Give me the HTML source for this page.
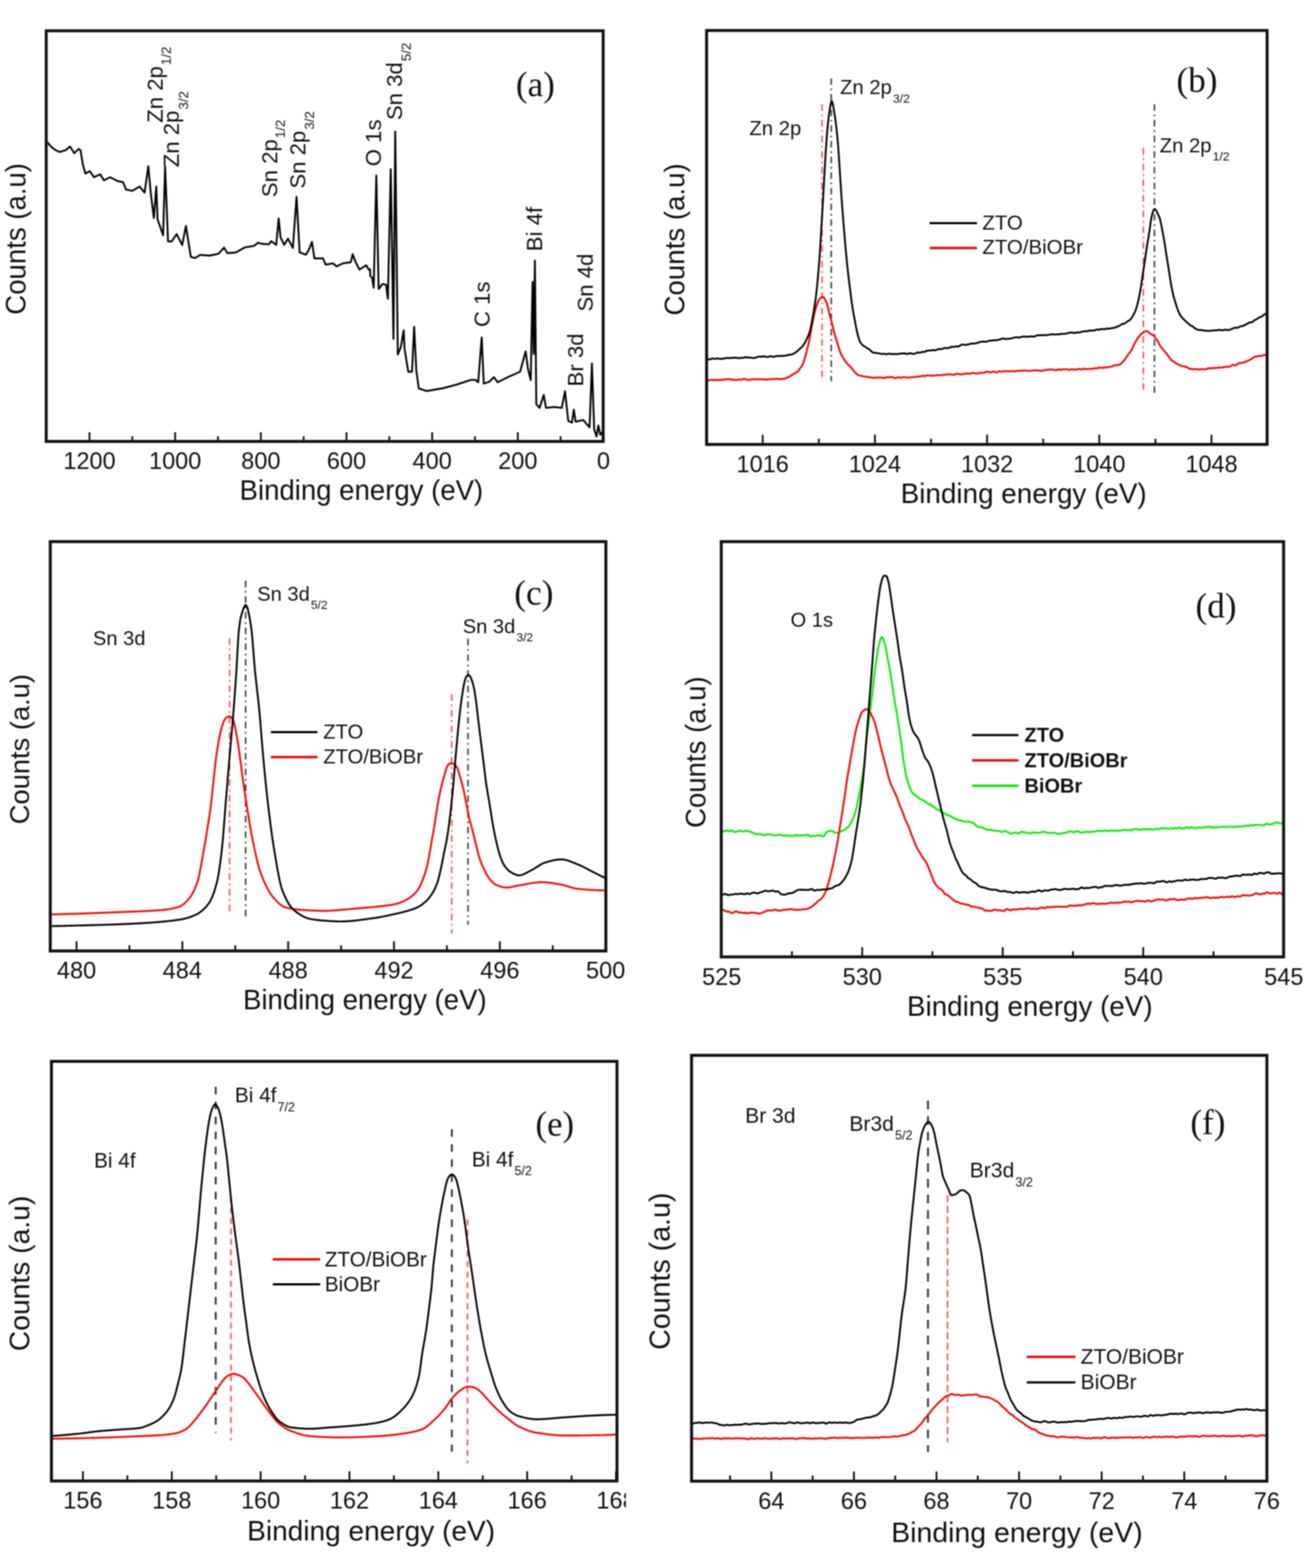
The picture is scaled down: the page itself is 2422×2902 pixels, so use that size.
<!DOCTYPE html>
<html><head><meta charset="utf-8"><title>XPS spectra</title>
<style>html,body{margin:0;padding:0;background:#fff;} svg{display:block;filter:blur(1px);}</style>
</head><body>
<svg xmlns="http://www.w3.org/2000/svg" width="2422" height="2902" viewBox="0 0 2422 2902">
<rect width="2422" height="2902" fill="#fff"/>
<line x1="1116.6" y1="817.0" x2="1116.6" y2="800.0" stroke="#111" stroke-width="3.4"/>
<line x1="958.1" y1="817.0" x2="958.1" y2="800.0" stroke="#111" stroke-width="3.4"/>
<line x1="799.6" y1="817.0" x2="799.6" y2="800.0" stroke="#111" stroke-width="3.4"/>
<line x1="641.1" y1="817.0" x2="641.1" y2="800.0" stroke="#111" stroke-width="3.4"/>
<line x1="482.6" y1="817.0" x2="482.6" y2="800.0" stroke="#111" stroke-width="3.4"/>
<line x1="324.1" y1="817.0" x2="324.1" y2="800.0" stroke="#111" stroke-width="3.4"/>
<line x1="165.6" y1="817.0" x2="165.6" y2="800.0" stroke="#111" stroke-width="3.4"/>
<line x1="1037.3" y1="817.0" x2="1037.3" y2="807.5" stroke="#111" stroke-width="3.4"/>
<line x1="878.8" y1="817.0" x2="878.8" y2="807.5" stroke="#111" stroke-width="3.4"/>
<line x1="720.3" y1="817.0" x2="720.3" y2="807.5" stroke="#111" stroke-width="3.4"/>
<line x1="561.8" y1="817.0" x2="561.8" y2="807.5" stroke="#111" stroke-width="3.4"/>
<line x1="403.3" y1="817.0" x2="403.3" y2="807.5" stroke="#111" stroke-width="3.4"/>
<line x1="244.8" y1="817.0" x2="244.8" y2="807.5" stroke="#111" stroke-width="3.4"/>
<text x="1116.6" y="868.3" font-family="'Liberation Sans', Arial, Helvetica, sans-serif" font-size="43.5" text-anchor="middle" fill="#111" >0</text>
<text x="958.1" y="868.3" font-family="'Liberation Sans', Arial, Helvetica, sans-serif" font-size="43.5" text-anchor="middle" fill="#111" >200</text>
<text x="799.6" y="868.3" font-family="'Liberation Sans', Arial, Helvetica, sans-serif" font-size="43.5" text-anchor="middle" fill="#111" >400</text>
<text x="641.1" y="868.3" font-family="'Liberation Sans', Arial, Helvetica, sans-serif" font-size="43.5" text-anchor="middle" fill="#111" >600</text>
<text x="482.6" y="868.3" font-family="'Liberation Sans', Arial, Helvetica, sans-serif" font-size="43.5" text-anchor="middle" fill="#111" >800</text>
<text x="324.1" y="868.3" font-family="'Liberation Sans', Arial, Helvetica, sans-serif" font-size="43.5" text-anchor="middle" fill="#111" >1000</text>
<text x="165.6" y="868.3" font-family="'Liberation Sans', Arial, Helvetica, sans-serif" font-size="43.5" text-anchor="middle" fill="#111" >1200</text>
<path d="M88.4,264.2 L94.1,271.1 L101.0,276.8 L110.1,281.3 L121.5,277.9 L129.5,271.1 L137.5,283.6 L145.5,275.6 L148.9,277.9 L153.5,305.3 L158.0,321.3 L166.0,316.7 L174.0,328.1 L185.4,322.4 L192.2,333.8 L203.7,328.1 L217.3,335.0 L227.6,337.2 L233.3,350.9 L244.7,353.2 L258.4,345.2 L267.5,356.6 L274.4,307.6 L279.0,357.8 L284.7,403.4 L289.2,345.2 L291.5,405.7 L301.8,435.4 L305.5,308.0 L310.9,446.8 L317.7,446.8 L326.9,433.1 L337.1,453.6 L344.0,418.2 L353.1,475.3 L361.1,477.6 L370.2,471.9 L388.5,473.0 L404.5,469.6 L414.7,458.2 L420.4,468.5 L436.4,467.3 L452.4,458.2 L470.6,454.8 L477.5,449.1 L485.0,451.3 L497.4,452.1 L502.0,446.4 L511.1,453.2 L515.6,404.2 L519.1,439.5 L525.9,453.2 L532.8,441.8 L541.9,458.9 L548.7,364.2 L554.4,466.9 L565.8,471.5 L571.5,462.3 L577.2,447.5 L581.8,478.3 L597.8,478.3 L602.3,489.7 L616.0,487.4 L622.9,493.1 L634.3,487.4 L649.1,485.2 L652.5,470.3 L657.1,482.9 L665.1,498.9 L677.6,490.9 L682.2,498.9 L684.6,498.3 L685.1,510.9 L688.6,514.3 L691.4,532.6 L696.3,324.5 L700.6,534.9 L707.4,525.7 L714.3,526.9 L717.7,553.1 L723.0,313.0 L728.0,627.4 L731.3,243.5 L736.0,656.0 L741.7,642.3 L746.9,611.4 L748.6,645.7 L755.4,688.0 L762.3,688.0 L766.3,604.6 L770.3,685.7 L774.9,718.9 L789.0,723.7 L819.8,718.5 L845.5,711.7 L871.1,703.1 L879.7,703.1 L884.8,707.4 L891.3,624.4 L895.1,710.0 L905.4,706.5 L913.9,698.0 L920.8,707.4 L939.6,698.0 L962.3,688.0 L967.4,669.2 L972.6,650.3 L976.9,682.9 L982.0,703.4 L985.4,521.7 L987.5,655.0 L989.7,482.3 L992.3,748.0 L998.3,754.9 L1006.0,730.9 L1010.3,754.9 L1025.7,753.2 L1039.4,754.9 L1045.4,724.0 L1051.4,778.9 L1058.3,782.3 L1061.7,758.3 L1065.1,780.6 L1078.9,777.2 L1090.9,790.9 L1095.2,672.6 L1099.4,794.3 L1103.7,808.0 L1107.2,787.5 L1110.6,804.6 L1113.2,801.2" fill="none" stroke="#000" stroke-width="3.4" stroke-linejoin="round" stroke-linecap="round" />
<text transform="translate(301.4,227.3) rotate(-90)" font-family="'Liberation Sans', Arial, Helvetica, sans-serif" font-size="41" fill="#111">Zn 2p<tspan font-size="24.6" dx="2" dy="14.8">1/2</tspan></text>
<text transform="translate(331.1,309.5) rotate(-90)" font-family="'Liberation Sans', Arial, Helvetica, sans-serif" font-size="41" fill="#111">Zn 2p<tspan font-size="24.6" dx="2" dy="16.4">3/2</tspan></text>
<text transform="translate(512.5,364.9) rotate(-90)" font-family="'Liberation Sans', Arial, Helvetica, sans-serif" font-size="41" fill="#111">Sn 2p<tspan font-size="24.6" dx="2" dy="14.8">1/2</tspan></text>
<text transform="translate(564.5,349.1) rotate(-90)" font-family="'Liberation Sans', Arial, Helvetica, sans-serif" font-size="41" fill="#111">Sn 2p<tspan font-size="24.6" dx="2" dy="16.4">3/2</tspan></text>
<text transform="translate(704.5,307.7) rotate(-90)" font-family="'Liberation Sans', Arial, Helvetica, sans-serif" font-size="41" fill="#111">O 1s</text>
<text transform="translate(744.0,222.3) rotate(-90)" font-family="'Liberation Sans', Arial, Helvetica, sans-serif" font-size="41" fill="#111">Sn 3d<tspan font-size="24.6" dx="2" dy="16.4">5/2</tspan></text>
<text transform="translate(905.8,605.2) rotate(-90)" font-family="'Liberation Sans', Arial, Helvetica, sans-serif" font-size="41" fill="#111">C 1s</text>
<text transform="translate(1003.0,464.9) rotate(-90)" font-family="'Liberation Sans', Arial, Helvetica, sans-serif" font-size="41" fill="#111">Bi 4f</text>
<text transform="translate(1079.3,715.2) rotate(-90)" font-family="'Liberation Sans', Arial, Helvetica, sans-serif" font-size="41" fill="#111">Br 3d</text>
<text transform="translate(1097.0,576.6) rotate(-90)" font-family="'Liberation Sans', Arial, Helvetica, sans-serif" font-size="41" fill="#111">Sn 4d</text>
<text x="954.5" y="178.0" font-family="'Liberation Serif', 'Times New Roman', serif" font-size="65" text-anchor="start" fill="#111" >(a)</text>
<text transform="translate(47.2,582.4) rotate(-90)" font-family="'Liberation Sans', Arial, Helvetica, sans-serif" font-size="51" fill="#111">Counts (a.u)</text>
<text x="443.3" y="925.0" font-family="'Liberation Sans', Arial, Helvetica, sans-serif" font-size="51" text-anchor="start" fill="#111" >Binding energy (eV)</text>
<rect x="85.5" y="57.0" width="1030.5" height="760.0" fill="none" stroke="#111" stroke-width="5.5"/>
<line x1="1538.0" y1="145.0" x2="1538.0" y2="705.6" stroke="#444" stroke-width="3" stroke-dasharray="12,7,3,7"/>
<line x1="1521.0" y1="193.0" x2="1521.0" y2="705.6" stroke="#f55" stroke-width="3" stroke-dasharray="12,7,3,7"/>
<line x1="2136.0" y1="193.0" x2="2136.0" y2="729.0" stroke="#444" stroke-width="3" stroke-dasharray="12,7,3,7"/>
<line x1="2115.5" y1="274.3" x2="2115.5" y2="725.0" stroke="#f55" stroke-width="3" stroke-dasharray="12,7,3,7"/>
<path d="M1309.0,703.8 L1310.5,704.0 L1312.0,703.9 L1313.5,703.4 L1315.0,703.1 L1316.5,703.0 L1318.0,703.3 L1319.5,703.2 L1321.0,703.2 L1322.5,703.0 L1324.0,703.4 L1325.5,703.4 L1327.0,703.4 L1328.5,703.2 L1330.0,703.2 L1331.5,703.3 L1333.0,703.3 L1334.5,703.2 L1336.0,703.0 L1337.5,702.8 L1339.0,702.5 L1340.5,702.3 L1342.0,702.2 L1343.5,702.0 L1345.0,701.8 L1346.5,701.7 L1348.0,701.7 L1349.5,701.8 L1351.0,702.0 L1352.5,702.5 L1354.0,702.7 L1355.5,702.7 L1357.0,702.7 L1358.5,702.7 L1360.0,702.9 L1361.5,703.0 L1363.0,703.1 L1364.5,702.9 L1366.0,702.6 L1367.5,702.4 L1369.0,702.6 L1370.5,702.7 L1372.0,702.6 L1373.5,702.0 L1375.0,701.6 L1376.5,701.3 L1378.0,701.5 L1379.5,701.9 L1381.0,702.3 L1382.5,702.6 L1384.0,702.9 L1385.5,703.0 L1387.0,703.0 L1388.5,702.7 L1390.0,702.4 L1391.5,702.2 L1393.0,702.1 L1394.5,701.9 L1396.0,701.7 L1397.5,701.8 L1399.0,701.9 L1400.5,702.2 L1402.0,702.0 L1403.5,701.9 L1405.0,701.8 L1406.5,701.8 L1408.0,702.0 L1409.5,701.9 L1411.0,702.1 L1412.5,702.1 L1414.0,702.3 L1415.5,702.2 L1417.0,702.3 L1418.5,702.5 L1420.0,702.6 L1421.5,702.5 L1423.0,702.0 L1424.5,701.9 L1426.0,701.7 L1427.5,701.7 L1429.0,701.4 L1430.5,701.5 L1432.0,701.5 L1433.5,701.7 L1435.0,701.5 L1436.5,701.0 L1438.0,700.7 L1439.5,700.8 L1441.0,701.6 L1442.5,702.0 L1444.0,701.8 L1445.5,701.1 L1447.0,701.0 L1448.5,701.3 L1450.0,701.5 L1451.5,701.0 L1453.0,700.3 L1454.5,699.7 L1456.0,699.0 L1457.5,698.4 L1459.0,697.7 L1460.5,697.1 L1462.0,696.4 L1463.5,695.4 L1465.0,694.1 L1466.5,693.1 L1468.0,692.4 L1469.5,691.6 L1471.0,690.7 L1472.5,689.6 L1474.0,689.0 L1475.5,688.0 L1477.0,686.7 L1478.5,684.3 L1480.0,682.0 L1481.5,680.1 L1483.0,678.4 L1484.5,676.1 L1486.0,672.7 L1487.5,668.3 L1489.0,663.3 L1490.5,657.8 L1492.0,652.0 L1493.5,646.0 L1495.0,640.2 L1496.5,633.9 L1498.0,626.3 L1499.5,618.3 L1501.0,609.8 L1502.5,601.8 L1504.0,594.2 L1505.5,587.0 L1507.0,580.3 L1508.5,573.9 L1510.0,568.4 L1511.5,563.9 L1513.0,560.2 L1514.5,556.4 L1516.0,553.5 L1517.5,551.8 L1519.0,550.8 L1520.5,550.0 L1522.0,549.7 L1523.5,549.7 L1525.0,551.2 L1526.5,554.1 L1528.0,557.4 L1529.5,560.7 L1531.0,565.3 L1532.5,571.5 L1534.0,578.1 L1535.5,584.2 L1537.0,589.6 L1538.5,595.3 L1540.0,601.3 L1541.5,607.8 L1543.0,613.9 L1544.5,619.5 L1546.0,624.2 L1547.5,628.8 L1549.0,633.7 L1550.5,638.8 L1552.0,643.9 L1553.5,648.5 L1555.0,652.5 L1556.5,655.9 L1558.0,658.8 L1559.5,661.4 L1561.0,663.9 L1562.5,666.3 L1564.0,668.5 L1565.5,670.7 L1567.0,672.5 L1568.5,674.1 L1570.0,675.5 L1571.5,676.8 L1573.0,678.2 L1574.5,679.9 L1576.0,681.7 L1577.5,683.8 L1579.0,685.7 L1580.5,687.6 L1582.0,689.1 L1583.5,690.8 L1585.0,692.0 L1586.5,693.2 L1588.0,694.2 L1589.5,694.9 L1591.0,695.2 L1592.5,695.3 L1594.0,695.6 L1595.5,696.1 L1597.0,696.7 L1598.5,696.9 L1600.0,696.7 L1601.5,697.0 L1603.0,697.1 L1604.5,697.7 L1606.0,697.8 L1607.5,698.1 L1609.0,698.0 L1610.5,698.2 L1612.0,698.6 L1613.5,698.9 L1615.0,699.2 L1616.5,699.2 L1618.0,699.2 L1619.5,699.1 L1621.0,699.0 L1622.5,698.8 L1624.0,698.8 L1625.5,698.7 L1627.0,698.6 L1628.5,698.4 L1630.0,698.7 L1631.5,699.1 L1633.0,699.6 L1634.5,699.6 L1636.0,699.2 L1637.5,699.0 L1639.0,698.8 L1640.5,698.5 L1642.0,698.3 L1643.5,697.9 L1645.0,698.0 L1646.5,697.9 L1648.0,697.8 L1649.5,697.5 L1651.0,697.7 L1652.5,698.4 L1654.0,699.2 L1655.5,699.7 L1657.0,699.6 L1658.5,699.2 L1660.0,698.6 L1661.5,698.4 L1663.0,698.5 L1664.5,698.8 L1666.0,699.0 L1667.5,699.0 L1669.0,698.6 L1670.5,698.2 L1672.0,697.9 L1673.5,697.9 L1675.0,698.2 L1676.5,698.6 L1678.0,698.9 L1679.5,698.9 L1681.0,698.7 L1682.5,698.5 L1684.0,698.5 L1685.5,698.4 L1687.0,698.1 L1688.5,697.9 L1690.0,698.1 L1691.5,698.0 L1693.0,697.7 L1694.5,697.3 L1696.0,697.2 L1697.5,697.1 L1699.0,697.0 L1700.5,696.6 L1702.0,696.5 L1703.5,696.1 L1705.0,696.0 L1706.5,695.8 L1708.0,695.8 L1709.5,695.9 L1711.0,695.8 L1712.5,695.5 L1714.0,695.2 L1715.5,694.7 L1717.0,694.5 L1718.5,694.6 L1720.0,695.1 L1721.5,695.4 L1723.0,695.4 L1724.5,695.2 L1726.0,695.2 L1727.5,695.2 L1729.0,695.2 L1730.5,695.1 L1732.0,694.9 L1733.5,694.4 L1735.0,694.2 L1736.5,694.3 L1738.0,694.6 L1739.5,694.6 L1741.0,694.3 L1742.5,694.0 L1744.0,693.8 L1745.5,693.8 L1747.0,693.4 L1748.5,693.5 L1750.0,693.3 L1751.5,693.4 L1753.0,693.0 L1754.5,692.8 L1756.0,692.7 L1757.5,692.8 L1759.0,692.9 L1760.5,693.2 L1762.0,693.6 L1763.5,693.9 L1765.0,693.4 L1766.5,693.0 L1768.0,692.3 L1769.5,692.0 L1771.0,691.6 L1772.5,691.7 L1774.0,692.2 L1775.5,692.5 L1777.0,692.7 L1778.5,692.6 L1780.0,692.7 L1781.5,692.6 L1783.0,692.0 L1784.5,691.5 L1786.0,691.4 L1787.5,691.6 L1789.0,691.6 L1790.5,691.4 L1792.0,691.4 L1793.5,691.8 L1795.0,691.9 L1796.5,691.4 L1798.0,690.3 L1799.5,690.0 L1801.0,690.1 L1802.5,690.7 L1804.0,691.0 L1805.5,691.4 L1807.0,691.3 L1808.5,691.0 L1810.0,690.5 L1811.5,690.3 L1813.0,690.4 L1814.5,690.4 L1816.0,690.3 L1817.5,690.0 L1819.0,689.9 L1820.5,689.6 L1822.0,689.2 L1823.5,688.7 L1825.0,688.2 L1826.5,687.9 L1828.0,687.9 L1829.5,688.5 L1831.0,688.9 L1832.5,689.1 L1834.0,689.1 L1835.5,688.6 L1837.0,688.1 L1838.5,687.5 L1840.0,687.9 L1841.5,688.6 L1843.0,689.4 L1844.5,689.3 L1846.0,688.5 L1847.5,687.5 L1849.0,687.0 L1850.5,687.3 L1852.0,687.7 L1853.5,688.0 L1855.0,687.5 L1856.5,687.3 L1858.0,686.9 L1859.5,687.0 L1861.0,687.1 L1862.5,687.3 L1864.0,687.3 L1865.5,687.3 L1867.0,687.2 L1868.5,687.3 L1870.0,687.3 L1871.5,687.0 L1873.0,686.9 L1874.5,686.9 L1876.0,687.2 L1877.5,687.3 L1879.0,687.2 L1880.5,686.7 L1882.0,686.4 L1883.5,686.2 L1885.0,686.4 L1886.5,686.4 L1888.0,686.3 L1889.5,685.9 L1891.0,686.0 L1892.5,686.0 L1894.0,686.1 L1895.5,685.7 L1897.0,685.8 L1898.5,685.7 L1900.0,686.0 L1901.5,686.1 L1903.0,686.4 L1904.5,686.6 L1906.0,686.6 L1907.5,686.2 L1909.0,685.9 L1910.5,685.7 L1912.0,685.6 L1913.5,685.4 L1915.0,685.3 L1916.5,685.4 L1918.0,685.5 L1919.5,685.6 L1921.0,685.6 L1922.5,685.8 L1924.0,686.2 L1925.5,686.4 L1927.0,686.3 L1928.5,685.8 L1930.0,685.3 L1931.5,685.1 L1933.0,685.1 L1934.5,685.1 L1936.0,684.9 L1937.5,684.4 L1939.0,684.2 L1940.5,684.0 L1942.0,684.1 L1943.5,683.9 L1945.0,684.0 L1946.5,684.0 L1948.0,684.1 L1949.5,684.4 L1951.0,684.7 L1952.5,685.1 L1954.0,684.9 L1955.5,684.8 L1957.0,684.2 L1958.5,684.0 L1960.0,683.8 L1961.5,684.0 L1963.0,684.3 L1964.5,684.3 L1966.0,683.9 L1967.5,683.4 L1969.0,683.4 L1970.5,683.5 L1972.0,683.6 L1973.5,683.4 L1975.0,683.6 L1976.5,684.0 L1978.0,684.5 L1979.5,684.3 L1981.0,683.9 L1982.5,683.5 L1984.0,683.5 L1985.5,683.6 L1987.0,683.9 L1988.5,684.2 L1990.0,684.4 L1991.5,684.1 L1993.0,683.5 L1994.5,683.1 L1996.0,682.6 L1997.5,682.9 L1999.0,683.2 L2000.5,683.9 L2002.0,683.8 L2003.5,683.2 L2005.0,682.5 L2006.5,682.3 L2008.0,682.8 L2009.5,683.1 L2011.0,683.2 L2012.5,682.9 L2014.0,682.6 L2015.5,682.6 L2017.0,682.8 L2018.5,682.9 L2020.0,682.9 L2021.5,682.4 L2023.0,682.0 L2024.5,681.8 L2026.0,681.8 L2027.5,681.9 L2029.0,681.7 L2030.5,681.5 L2032.0,680.9 L2033.5,680.5 L2035.0,680.5 L2036.5,680.4 L2038.0,680.7 L2039.5,680.5 L2041.0,680.7 L2042.5,680.4 L2044.0,680.2 L2045.5,680.0 L2047.0,680.0 L2048.5,680.0 L2050.0,679.5 L2051.5,679.1 L2053.0,678.8 L2054.5,678.9 L2056.0,678.7 L2057.5,678.2 L2059.0,677.5 L2060.5,676.7 L2062.0,676.3 L2063.5,676.1 L2065.0,676.0 L2066.5,675.8 L2068.0,675.5 L2069.5,675.3 L2071.0,675.0 L2072.5,674.3 L2074.0,673.2 L2075.5,671.8 L2077.0,670.3 L2078.5,668.7 L2080.0,666.9 L2081.5,665.0 L2083.0,662.8 L2084.5,660.8 L2086.0,658.2 L2087.5,655.9 L2089.0,653.7 L2090.5,652.2 L2092.0,650.5 L2093.5,648.2 L2095.0,645.0 L2096.5,641.4 L2098.0,638.2 L2099.5,635.3 L2101.0,632.8 L2102.5,630.4 L2104.0,628.0 L2105.5,625.6 L2107.0,623.5 L2108.5,621.4 L2110.0,619.6 L2111.5,618.2 L2113.0,617.2 L2114.5,616.2 L2116.0,615.2 L2117.5,614.1 L2119.0,613.1 L2120.5,612.8 L2122.0,612.9 L2123.5,613.4 L2125.0,614.4 L2126.5,615.8 L2128.0,617.1 L2129.5,618.1 L2131.0,618.9 L2132.5,619.8 L2134.0,621.0 L2135.5,622.3 L2137.0,624.1 L2138.5,626.0 L2140.0,628.0 L2141.5,630.3 L2143.0,633.0 L2144.5,636.0 L2146.0,638.8 L2147.5,641.2 L2149.0,643.3 L2150.5,645.1 L2152.0,647.0 L2153.5,648.8 L2155.0,650.5 L2156.5,652.2 L2158.0,654.0 L2159.5,655.9 L2161.0,658.0 L2162.5,660.2 L2164.0,662.3 L2165.5,664.4 L2167.0,666.0 L2168.5,667.3 L2170.0,668.2 L2171.5,669.0 L2173.0,670.1 L2174.5,671.1 L2176.0,672.4 L2177.5,673.3 L2179.0,674.1 L2180.5,674.6 L2182.0,675.2 L2183.5,676.1 L2185.0,677.0 L2186.5,677.4 L2188.0,677.7 L2189.5,677.7 L2191.0,678.3 L2192.5,678.6 L2194.0,679.0 L2195.5,679.1 L2197.0,679.9 L2198.5,681.0 L2200.0,682.2 L2201.5,682.6 L2203.0,682.7 L2204.5,682.7 L2206.0,683.1 L2207.5,683.3 L2209.0,683.5 L2210.5,683.3 L2212.0,683.1 L2213.5,683.1 L2215.0,683.3 L2216.5,683.7 L2218.0,684.0 L2219.5,683.8 L2221.0,683.6 L2222.5,683.4 L2224.0,683.4 L2225.5,683.4 L2227.0,683.4 L2228.5,683.5 L2230.0,683.7 L2231.5,683.4 L2233.0,682.7 L2234.5,681.9 L2236.0,681.5 L2237.5,681.7 L2239.0,681.6 L2240.5,681.5 L2242.0,681.1 L2243.5,681.2 L2245.0,681.1 L2246.5,681.4 L2248.0,681.0 L2249.5,681.1 L2251.0,680.8 L2252.5,680.8 L2254.0,680.4 L2255.5,680.3 L2257.0,680.3 L2258.5,680.4 L2260.0,680.2 L2261.5,679.9 L2263.0,679.7 L2264.5,679.5 L2266.0,679.4 L2267.5,679.0 L2269.0,678.8 L2270.5,678.9 L2272.0,679.0 L2273.5,679.0 L2275.0,678.5 L2276.5,677.9 L2278.0,677.0 L2279.5,675.9 L2281.0,675.2 L2282.5,675.3 L2284.0,675.8 L2285.5,676.3 L2287.0,675.9 L2288.5,675.0 L2290.0,673.4 L2291.5,672.4 L2293.0,672.0 L2294.5,672.1 L2296.0,672.1 L2297.5,671.6 L2299.0,671.2 L2300.5,670.8 L2302.0,670.8 L2303.5,670.1 L2305.0,669.4 L2306.5,668.5 L2308.0,668.0 L2309.5,667.3 L2311.0,666.8 L2312.5,665.9 L2314.0,665.3 L2315.5,664.2 L2317.0,663.3 L2318.5,662.1 L2320.0,661.2 L2321.5,660.3 L2323.0,660.0 L2324.5,659.5 L2326.0,659.5 L2327.5,659.2 L2329.0,659.1 L2330.5,658.7 L2332.0,658.6 L2333.5,658.7 L2335.0,658.6 L2336.5,658.0 L2338.0,657.3 L2339.5,657.0 L2341.0,657.0 L2342.3,657.1" fill="none" stroke="#f00" stroke-width="3.4" stroke-linejoin="round" stroke-linecap="round" />
<path d="M1309.0,664.8 L1310.5,665.0 L1312.0,665.2 L1313.5,665.1 L1315.0,664.7 L1316.5,664.0 L1318.0,663.5 L1319.5,663.5 L1321.0,663.9 L1322.5,664.2 L1324.0,664.0 L1325.5,663.7 L1327.0,663.2 L1328.5,663.4 L1330.0,663.7 L1331.5,664.4 L1333.0,664.4 L1334.5,664.3 L1336.0,664.0 L1337.5,663.8 L1339.0,663.6 L1340.5,663.3 L1342.0,663.0 L1343.5,662.8 L1345.0,662.6 L1346.5,662.5 L1348.0,662.6 L1349.5,662.5 L1351.0,662.7 L1352.5,662.5 L1354.0,662.5 L1355.5,662.2 L1357.0,662.1 L1358.5,661.8 L1360.0,662.0 L1361.5,662.2 L1363.0,662.3 L1364.5,662.4 L1366.0,662.7 L1367.5,662.8 L1369.0,662.7 L1370.5,662.4 L1372.0,662.3 L1373.5,662.3 L1375.0,662.3 L1376.5,661.9 L1378.0,661.4 L1379.5,661.0 L1381.0,661.2 L1382.5,661.5 L1384.0,661.7 L1385.5,661.8 L1387.0,661.8 L1388.5,661.9 L1390.0,662.2 L1391.5,662.4 L1393.0,662.5 L1394.5,662.5 L1396.0,662.4 L1397.5,662.2 L1399.0,661.7 L1400.5,661.2 L1402.0,660.7 L1403.5,660.1 L1405.0,659.9 L1406.5,660.0 L1408.0,660.3 L1409.5,660.1 L1411.0,659.6 L1412.5,659.3 L1414.0,659.5 L1415.5,659.9 L1417.0,660.3 L1418.5,660.6 L1420.0,660.7 L1421.5,660.4 L1423.0,659.9 L1424.5,659.3 L1426.0,659.3 L1427.5,659.6 L1429.0,660.0 L1430.5,660.2 L1432.0,660.2 L1433.5,659.9 L1435.0,659.4 L1436.5,658.9 L1438.0,658.8 L1439.5,658.9 L1441.0,659.1 L1442.5,658.9 L1444.0,658.9 L1445.5,658.8 L1447.0,658.8 L1448.5,658.6 L1450.0,658.6 L1451.5,658.4 L1453.0,658.3 L1454.5,658.0 L1456.0,657.6 L1457.5,657.0 L1459.0,656.7 L1460.5,656.7 L1462.0,656.6 L1463.5,656.3 L1465.0,655.8 L1466.5,655.3 L1468.0,654.8 L1469.5,654.0 L1471.0,652.9 L1472.5,652.0 L1474.0,651.0 L1475.5,650.0 L1477.0,648.3 L1478.5,646.7 L1480.0,645.1 L1481.5,644.2 L1483.0,643.0 L1484.5,641.3 L1486.0,639.1 L1487.5,636.9 L1489.0,634.7 L1490.5,632.0 L1492.0,628.9 L1493.5,625.6 L1495.0,622.7 L1496.5,619.3 L1498.0,614.8 L1499.5,608.6 L1501.0,601.5 L1502.5,593.6 L1504.0,585.5 L1505.5,577.0 L1507.0,567.9 L1508.5,557.7 L1510.0,546.2 L1511.5,532.5 L1513.0,517.2 L1514.5,500.1 L1516.0,481.4 L1517.5,459.1 L1519.0,434.5 L1520.5,409.0 L1522.0,383.7 L1523.5,357.5 L1525.0,329.9 L1526.5,303.1 L1528.0,278.2 L1529.5,256.8 L1531.0,238.5 L1532.5,222.6 L1534.0,210.4 L1535.5,200.6 L1537.0,192.0 L1538.5,187.2 L1540.0,188.4 L1541.5,194.7 L1543.0,203.7 L1544.5,213.1 L1546.0,223.6 L1547.5,236.1 L1549.0,250.1 L1550.5,266.6 L1552.0,287.0 L1553.5,310.1 L1555.0,334.0 L1556.5,357.3 L1558.0,378.6 L1559.5,397.9 L1561.0,416.8 L1562.5,435.2 L1564.0,452.8 L1565.5,469.4 L1567.0,484.9 L1568.5,499.2 L1570.0,512.2 L1571.5,524.8 L1573.0,536.8 L1574.5,548.6 L1576.0,559.9 L1577.5,570.3 L1579.0,579.0 L1580.5,586.9 L1582.0,595.0 L1583.5,603.2 L1585.0,610.5 L1586.5,617.0 L1588.0,622.7 L1589.5,627.9 L1591.0,632.0 L1592.5,634.8 L1594.0,636.7 L1595.5,638.3 L1597.0,639.6 L1598.5,640.5 L1600.0,641.4 L1601.5,642.3 L1603.0,643.3 L1604.5,644.3 L1606.0,645.1 L1607.5,645.9 L1609.0,647.0 L1610.5,648.5 L1612.0,650.2 L1613.5,651.3 L1615.0,652.2 L1616.5,652.6 L1618.0,653.0 L1619.5,653.1 L1621.0,653.2 L1622.5,653.3 L1624.0,653.6 L1625.5,653.9 L1627.0,654.1 L1628.5,654.4 L1630.0,654.9 L1631.5,655.1 L1633.0,655.0 L1634.5,654.8 L1636.0,654.8 L1637.5,655.1 L1639.0,655.5 L1640.5,655.6 L1642.0,655.2 L1643.5,654.8 L1645.0,654.4 L1646.5,654.7 L1648.0,654.9 L1649.5,655.3 L1651.0,655.4 L1652.5,655.2 L1654.0,655.3 L1655.5,655.1 L1657.0,655.4 L1658.5,655.4 L1660.0,655.3 L1661.5,655.0 L1663.0,654.9 L1664.5,654.6 L1666.0,654.5 L1667.5,654.1 L1669.0,654.3 L1670.5,654.2 L1672.0,654.2 L1673.5,654.0 L1675.0,654.2 L1676.5,654.7 L1678.0,655.2 L1679.5,655.1 L1681.0,654.6 L1682.5,653.9 L1684.0,653.8 L1685.5,654.0 L1687.0,654.5 L1688.5,654.9 L1690.0,655.0 L1691.5,655.0 L1693.0,654.5 L1694.5,653.8 L1696.0,652.9 L1697.5,652.5 L1699.0,652.3 L1700.5,652.6 L1702.0,652.6 L1703.5,652.4 L1705.0,651.7 L1706.5,651.2 L1708.0,651.4 L1709.5,651.4 L1711.0,651.2 L1712.5,650.3 L1714.0,649.7 L1715.5,649.2 L1717.0,648.7 L1718.5,648.7 L1720.0,648.8 L1721.5,649.0 L1723.0,648.5 L1724.5,648.0 L1726.0,647.8 L1727.5,648.0 L1729.0,648.3 L1730.5,648.2 L1732.0,647.8 L1733.5,647.2 L1735.0,646.5 L1736.5,646.2 L1738.0,646.0 L1739.5,646.3 L1741.0,646.1 L1742.5,645.9 L1744.0,645.3 L1745.5,644.8 L1747.0,644.3 L1748.5,644.0 L1750.0,644.1 L1751.5,644.2 L1753.0,644.3 L1754.5,644.1 L1756.0,643.8 L1757.5,643.1 L1759.0,642.3 L1760.5,641.8 L1762.0,641.9 L1763.5,642.2 L1765.0,642.1 L1766.5,641.7 L1768.0,641.3 L1769.5,641.1 L1771.0,641.3 L1772.5,641.2 L1774.0,641.0 L1775.5,640.0 L1777.0,639.2 L1778.5,638.4 L1780.0,637.9 L1781.5,637.6 L1783.0,637.8 L1784.5,638.2 L1786.0,638.4 L1787.5,638.3 L1789.0,637.8 L1790.5,637.5 L1792.0,637.2 L1793.5,637.1 L1795.0,636.6 L1796.5,636.2 L1798.0,635.6 L1799.5,635.7 L1801.0,635.7 L1802.5,635.8 L1804.0,635.6 L1805.5,635.3 L1807.0,635.0 L1808.5,634.6 L1810.0,634.1 L1811.5,633.5 L1813.0,633.0 L1814.5,632.6 L1816.0,632.6 L1817.5,632.4 L1819.0,632.2 L1820.5,632.0 L1822.0,632.3 L1823.5,632.6 L1825.0,632.5 L1826.5,631.9 L1828.0,631.2 L1829.5,630.9 L1831.0,630.7 L1832.5,630.5 L1834.0,630.5 L1835.5,630.3 L1837.0,630.1 L1838.5,629.6 L1840.0,629.7 L1841.5,629.7 L1843.0,629.8 L1844.5,629.6 L1846.0,629.2 L1847.5,628.8 L1849.0,628.3 L1850.5,628.2 L1852.0,627.4 L1853.5,626.9 L1855.0,626.4 L1856.5,626.7 L1858.0,627.0 L1859.5,627.4 L1861.0,627.3 L1862.5,627.2 L1864.0,627.1 L1865.5,627.0 L1867.0,627.0 L1868.5,626.8 L1870.0,626.6 L1871.5,626.3 L1873.0,625.8 L1874.5,625.2 L1876.0,625.0 L1877.5,624.7 L1879.0,624.4 L1880.5,624.1 L1882.0,624.2 L1883.5,624.6 L1885.0,624.8 L1886.5,624.7 L1888.0,624.1 L1889.5,623.7 L1891.0,623.3 L1892.5,623.0 L1894.0,622.8 L1895.5,622.8 L1897.0,623.2 L1898.5,623.4 L1900.0,623.3 L1901.5,623.0 L1903.0,622.9 L1904.5,623.0 L1906.0,622.8 L1907.5,622.6 L1909.0,622.5 L1910.5,622.8 L1912.0,623.0 L1913.5,623.0 L1915.0,622.4 L1916.5,621.7 L1918.0,620.9 L1919.5,620.7 L1921.0,620.4 L1922.5,620.5 L1924.0,620.4 L1925.5,620.6 L1927.0,620.3 L1928.5,620.2 L1930.0,620.2 L1931.5,620.4 L1933.0,620.5 L1934.5,620.3 L1936.0,620.1 L1937.5,619.9 L1939.0,619.9 L1940.5,619.7 L1942.0,619.4 L1943.5,619.1 L1945.0,618.7 L1946.5,618.7 L1948.0,618.6 L1949.5,618.9 L1951.0,619.0 L1952.5,619.1 L1954.0,618.9 L1955.5,618.7 L1957.0,618.7 L1958.5,618.6 L1960.0,618.8 L1961.5,618.6 L1963.0,618.0 L1964.5,617.8 L1966.0,617.9 L1967.5,618.1 L1969.0,617.9 L1970.5,617.6 L1972.0,617.4 L1973.5,617.3 L1975.0,616.9 L1976.5,616.2 L1978.0,615.8 L1979.5,615.6 L1981.0,615.5 L1982.5,615.4 L1984.0,615.5 L1985.5,615.9 L1987.0,616.3 L1988.5,616.4 L1990.0,616.0 L1991.5,615.4 L1993.0,615.1 L1994.5,615.3 L1996.0,615.4 L1997.5,615.3 L1999.0,614.9 L2000.5,614.5 L2002.0,614.0 L2003.5,613.6 L2005.0,613.3 L2006.5,613.2 L2008.0,613.0 L2009.5,613.0 L2011.0,613.0 L2012.5,612.8 L2014.0,612.4 L2015.5,611.8 L2017.0,611.7 L2018.5,611.6 L2020.0,611.7 L2021.5,611.7 L2023.0,611.7 L2024.5,611.6 L2026.0,611.1 L2027.5,610.5 L2029.0,610.0 L2030.5,610.0 L2032.0,610.1 L2033.5,610.3 L2035.0,610.0 L2036.5,609.4 L2038.0,608.9 L2039.5,608.8 L2041.0,609.1 L2042.5,609.4 L2044.0,609.4 L2045.5,608.8 L2047.0,608.3 L2048.5,607.9 L2050.0,608.2 L2051.5,608.2 L2053.0,608.3 L2054.5,607.8 L2056.0,607.4 L2057.5,607.1 L2059.0,607.0 L2060.5,607.1 L2062.0,606.7 L2063.5,606.1 L2065.0,605.4 L2066.5,604.7 L2068.0,604.2 L2069.5,603.7 L2071.0,603.2 L2072.5,602.2 L2074.0,601.2 L2075.5,600.2 L2077.0,599.7 L2078.5,599.2 L2080.0,599.0 L2081.5,598.3 L2083.0,597.4 L2084.5,596.0 L2086.0,594.9 L2087.5,593.9 L2089.0,593.2 L2090.5,592.3 L2092.0,590.8 L2093.5,588.9 L2095.0,586.6 L2096.5,584.0 L2098.0,581.3 L2099.5,578.3 L2101.0,574.8 L2102.5,570.3 L2104.0,565.1 L2105.5,559.3 L2107.0,552.9 L2108.5,545.2 L2110.0,537.1 L2111.5,528.2 L2113.0,518.0 L2114.5,507.6 L2116.0,497.7 L2117.5,488.0 L2119.0,477.5 L2120.5,467.2 L2122.0,457.1 L2123.5,447.9 L2125.0,438.9 L2126.5,429.7 L2128.0,419.1 L2129.5,407.8 L2131.0,399.9 L2132.5,394.2 L2134.0,389.9 L2135.5,387.2 L2137.0,387.1 L2138.5,388.4 L2140.0,390.9 L2141.5,394.2 L2143.0,397.3 L2144.5,400.7 L2146.0,404.4 L2147.5,410.7 L2149.0,418.0 L2150.5,426.0 L2152.0,433.5 L2153.5,441.8 L2155.0,451.3 L2156.5,461.3 L2158.0,470.9 L2159.5,480.0 L2161.0,489.3 L2162.5,498.6 L2164.0,508.4 L2165.5,518.2 L2167.0,527.4 L2168.5,535.4 L2170.0,542.5 L2171.5,548.8 L2173.0,554.1 L2174.5,558.9 L2176.0,563.7 L2177.5,568.5 L2179.0,572.9 L2180.5,576.8 L2182.0,580.1 L2183.5,582.8 L2185.0,584.9 L2186.5,586.9 L2188.0,588.7 L2189.5,590.3 L2191.0,591.7 L2192.5,593.2 L2194.0,594.8 L2195.5,596.3 L2197.0,597.6 L2198.5,598.6 L2200.0,600.1 L2201.5,601.4 L2203.0,602.6 L2204.5,603.0 L2206.0,603.6 L2207.5,604.7 L2209.0,606.1 L2210.5,607.3 L2212.0,608.2 L2213.5,609.1 L2215.0,609.8 L2216.5,610.4 L2218.0,610.6 L2219.5,610.7 L2221.0,610.7 L2222.5,610.8 L2224.0,611.0 L2225.5,611.2 L2227.0,611.5 L2228.5,611.8 L2230.0,612.1 L2231.5,612.0 L2233.0,612.2 L2234.5,612.3 L2236.0,612.4 L2237.5,612.4 L2239.0,612.3 L2240.5,612.3 L2242.0,611.8 L2243.5,611.6 L2245.0,611.4 L2246.5,611.6 L2248.0,611.5 L2249.5,611.3 L2251.0,611.2 L2252.5,611.2 L2254.0,610.9 L2255.5,610.5 L2257.0,610.4 L2258.5,611.0 L2260.0,611.4 L2261.5,611.3 L2263.0,611.0 L2264.5,610.7 L2266.0,610.5 L2267.5,610.2 L2269.0,610.1 L2270.5,610.4 L2272.0,610.9 L2273.5,611.0 L2275.0,610.5 L2276.5,609.8 L2278.0,609.0 L2279.5,608.6 L2281.0,608.0 L2282.5,607.5 L2284.0,606.8 L2285.5,606.6 L2287.0,606.5 L2288.5,606.7 L2290.0,606.5 L2291.5,606.0 L2293.0,605.1 L2294.5,604.3 L2296.0,603.9 L2297.5,603.7 L2299.0,603.5 L2300.5,602.8 L2302.0,602.1 L2303.5,601.4 L2305.0,600.8 L2306.5,599.8 L2308.0,599.0 L2309.5,598.0 L2311.0,597.3 L2312.5,596.7 L2314.0,596.6 L2315.5,596.7 L2317.0,596.1 L2318.5,594.9 L2320.0,593.4 L2321.5,592.5 L2323.0,591.7 L2324.5,591.2 L2326.0,590.2 L2327.5,589.2 L2329.0,588.1 L2330.5,587.5 L2332.0,587.0 L2333.5,586.4 L2335.0,585.5 L2336.5,584.3 L2338.0,583.1 L2339.5,582.0 L2341.0,581.1 L2342.3,580.3" fill="none" stroke="#000" stroke-width="3.4" stroke-linejoin="round" stroke-linecap="round" />
<line x1="1411.2" y1="822.5" x2="1411.2" y2="804.5" stroke="#111" stroke-width="3.4"/>
<line x1="1618.8" y1="822.5" x2="1618.8" y2="804.5" stroke="#111" stroke-width="3.4"/>
<line x1="1826.4" y1="822.5" x2="1826.4" y2="804.5" stroke="#111" stroke-width="3.4"/>
<line x1="2034.0" y1="822.5" x2="2034.0" y2="804.5" stroke="#111" stroke-width="3.4"/>
<line x1="2241.6" y1="822.5" x2="2241.6" y2="804.5" stroke="#111" stroke-width="3.4"/>
<line x1="1515.0" y1="822.5" x2="1515.0" y2="812.0" stroke="#111" stroke-width="3.4"/>
<line x1="1722.6" y1="822.5" x2="1722.6" y2="812.0" stroke="#111" stroke-width="3.4"/>
<line x1="1930.2" y1="822.5" x2="1930.2" y2="812.0" stroke="#111" stroke-width="3.4"/>
<line x1="2137.8" y1="822.5" x2="2137.8" y2="812.0" stroke="#111" stroke-width="3.4"/>
<text x="1411.2" y="873.5" font-family="'Liberation Sans', Arial, Helvetica, sans-serif" font-size="43.5" text-anchor="middle" fill="#111" >1016</text>
<text x="1618.8" y="873.5" font-family="'Liberation Sans', Arial, Helvetica, sans-serif" font-size="43.5" text-anchor="middle" fill="#111" >1024</text>
<text x="1826.4" y="873.5" font-family="'Liberation Sans', Arial, Helvetica, sans-serif" font-size="43.5" text-anchor="middle" fill="#111" >1032</text>
<text x="2034.0" y="873.5" font-family="'Liberation Sans', Arial, Helvetica, sans-serif" font-size="43.5" text-anchor="middle" fill="#111" >1040</text>
<text x="2241.6" y="873.5" font-family="'Liberation Sans', Arial, Helvetica, sans-serif" font-size="43.5" text-anchor="middle" fill="#111" >1048</text>
<line x1="1720.1" y1="412.9" x2="1807.7" y2="412.9" stroke="#000" stroke-width="4"/>
<line x1="1720.1" y1="459.1" x2="1807.7" y2="459.1" stroke="#f00" stroke-width="4.5"/>
<text x="1817.6" y="424.7" font-family="'Liberation Sans', Arial, Helvetica, sans-serif" font-size="37.8" text-anchor="start" fill="#111" >ZTO</text>
<text x="1817.6" y="470.3" font-family="'Liberation Sans', Arial, Helvetica, sans-serif" font-size="37.8" text-anchor="start" fill="#111" >ZTO/BiOBr</text>
<text x="1386.6" y="249.5" font-family="'Liberation Sans', Arial, Helvetica, sans-serif" font-size="37.5" text-anchor="start" fill="#111" >Zn 2p</text>
<text x="1554.3" y="174.4" font-family="'Liberation Sans', Arial, Helvetica, sans-serif" font-size="37.5" fill="#111">Zn 2p<tspan font-size="22.5" dx="2" dy="15.8">3/2</tspan></text>
<text x="2145.8" y="281.5" font-family="'Liberation Sans', Arial, Helvetica, sans-serif" font-size="37.5" fill="#111">Zn 2p<tspan font-size="22.5" dx="2" dy="15.8">1/2</tspan></text>
<text x="2176.8" y="170.0" font-family="'Liberation Serif', 'Times New Roman', serif" font-size="65" text-anchor="start" fill="#111" >(b)</text>
<text transform="translate(1266.3,583.9) rotate(-90)" font-family="'Liberation Sans', Arial, Helvetica, sans-serif" font-size="51.2" fill="#111">Counts (a.u)</text>
<text x="1666.5" y="931.0" font-family="'Liberation Sans', Arial, Helvetica, sans-serif" font-size="51.5" text-anchor="start" fill="#111" >Binding energy (eV)</text>
<rect x="1307.4" y="56.4" width="1037.1" height="766.1" fill="none" stroke="#111" stroke-width="5.5"/>
<line x1="454.5" y1="1074.8" x2="454.5" y2="1700.6" stroke="#444" stroke-width="3" stroke-dasharray="12,7,3,7"/>
<line x1="424.8" y1="1181.6" x2="424.8" y2="1688.5" stroke="#f55" stroke-width="3" stroke-dasharray="12,7,3,7"/>
<line x1="866.0" y1="1182.3" x2="866.0" y2="1711.4" stroke="#444" stroke-width="3" stroke-dasharray="12,7,3,7"/>
<line x1="835.8" y1="1285.1" x2="835.8" y2="1728.0" stroke="#f55" stroke-width="3" stroke-dasharray="12,7,3,7"/>
<path d="M95.0,1692.4 L96.5,1692.4 L98.0,1692.3 L99.5,1692.3 L101.0,1692.2 L102.5,1692.2 L104.0,1692.2 L105.5,1692.1 L107.0,1692.1 L108.5,1692.0 L110.0,1692.0 L111.5,1692.0 L113.0,1691.9 L114.5,1691.9 L116.0,1691.8 L117.5,1691.8 L119.0,1691.8 L120.5,1691.7 L122.0,1691.7 L123.5,1691.6 L125.0,1691.6 L126.5,1691.5 L128.0,1691.5 L129.5,1691.4 L131.0,1691.4 L132.5,1691.3 L134.0,1691.3 L135.5,1691.3 L137.0,1691.2 L138.5,1691.2 L140.0,1691.1 L141.5,1691.1 L143.0,1691.0 L144.5,1691.0 L146.0,1690.9 L147.5,1690.9 L149.0,1690.8 L150.5,1690.8 L152.0,1690.7 L153.5,1690.7 L155.0,1690.6 L156.5,1690.6 L158.0,1690.5 L159.5,1690.5 L161.0,1690.4 L162.5,1690.3 L164.0,1690.3 L165.5,1690.2 L167.0,1690.2 L168.5,1690.1 L170.0,1690.1 L171.5,1690.0 L173.0,1690.0 L174.5,1689.9 L176.0,1689.9 L177.5,1689.8 L179.0,1689.7 L180.5,1689.7 L182.0,1689.6 L183.5,1689.6 L185.0,1689.5 L186.5,1689.5 L188.0,1689.4 L189.5,1689.3 L191.0,1689.3 L192.5,1689.2 L194.0,1689.2 L195.5,1689.1 L197.0,1689.1 L198.5,1689.0 L200.0,1688.9 L201.5,1688.9 L203.0,1688.8 L204.5,1688.8 L206.0,1688.7 L207.5,1688.6 L209.0,1688.6 L210.5,1688.5 L212.0,1688.5 L213.5,1688.4 L215.0,1688.3 L216.5,1688.3 L218.0,1688.2 L219.5,1688.2 L221.0,1688.1 L222.5,1688.1 L224.0,1688.0 L225.5,1687.9 L227.0,1687.9 L228.5,1687.8 L230.0,1687.8 L231.5,1687.7 L233.0,1687.7 L234.5,1687.6 L236.0,1687.6 L237.5,1687.5 L239.0,1687.5 L240.5,1687.4 L242.0,1687.4 L243.5,1687.3 L245.0,1687.2 L246.5,1687.2 L248.0,1687.1 L249.5,1687.1 L251.0,1687.0 L252.5,1686.9 L254.0,1686.9 L255.5,1686.8 L257.0,1686.8 L258.5,1686.7 L260.0,1686.6 L261.5,1686.6 L263.0,1686.5 L264.5,1686.4 L266.0,1686.4 L267.5,1686.3 L269.0,1686.2 L270.5,1686.1 L272.0,1686.1 L273.5,1686.0 L275.0,1685.9 L276.5,1685.8 L278.0,1685.7 L279.5,1685.6 L281.0,1685.5 L282.5,1685.4 L284.0,1685.3 L285.5,1685.2 L287.0,1685.1 L288.5,1685.0 L290.0,1684.9 L291.5,1684.8 L293.0,1684.7 L294.5,1684.6 L296.0,1684.5 L297.5,1684.4 L299.0,1684.2 L300.5,1684.1 L302.0,1684.0 L303.5,1683.8 L305.0,1683.7 L306.5,1683.5 L308.0,1683.3 L309.5,1683.1 L311.0,1682.9 L312.5,1682.7 L314.0,1682.4 L315.5,1682.1 L317.0,1681.9 L318.5,1681.6 L320.0,1681.2 L321.5,1680.9 L323.0,1680.5 L324.5,1680.1 L326.0,1679.7 L327.5,1679.3 L329.0,1678.8 L330.5,1678.4 L332.0,1677.9 L333.5,1677.3 L335.0,1676.5 L336.5,1675.6 L338.0,1674.6 L339.5,1673.5 L341.0,1672.2 L342.5,1670.9 L344.0,1669.4 L345.5,1667.9 L347.0,1666.3 L348.5,1664.6 L350.0,1662.8 L351.5,1660.9 L353.0,1658.8 L354.5,1656.4 L356.0,1653.9 L357.5,1651.0 L359.0,1647.9 L360.5,1644.6 L362.0,1641.0 L363.5,1637.1 L365.0,1632.9 L366.5,1628.0 L368.0,1621.9 L369.5,1614.9 L371.0,1607.2 L372.5,1598.9 L374.0,1590.4 L375.5,1581.7 L377.0,1573.2 L378.5,1564.8 L380.0,1556.3 L381.5,1547.5 L383.0,1538.5 L384.5,1529.1 L386.0,1519.4 L387.5,1509.3 L389.0,1498.7 L390.5,1487.2 L392.0,1474.1 L393.5,1460.0 L395.0,1445.5 L396.5,1431.0 L398.0,1417.1 L399.5,1404.3 L401.0,1393.3 L402.5,1383.9 L404.0,1375.1 L405.5,1366.8 L407.0,1359.3 L408.5,1352.7 L410.0,1347.0 L411.5,1342.3 L413.0,1337.9 L414.5,1334.1 L416.0,1331.3 L417.5,1329.5 L419.0,1328.2 L420.5,1327.0 L422.0,1326.2 L423.5,1325.7 L425.0,1325.8 L426.5,1326.6 L428.0,1328.0 L429.5,1329.9 L431.0,1332.0 L432.5,1335.7 L434.0,1341.6 L435.5,1348.9 L437.0,1356.8 L438.5,1364.8 L440.0,1373.7 L441.5,1383.5 L443.0,1394.1 L444.5,1405.2 L446.0,1416.6 L447.5,1428.1 L449.0,1439.5 L450.5,1450.5 L452.0,1461.0 L453.5,1470.8 L455.0,1480.6 L456.5,1490.3 L458.0,1500.0 L459.5,1509.5 L461.0,1518.8 L462.5,1527.8 L464.0,1536.5 L465.5,1544.8 L467.0,1552.6 L468.5,1559.9 L470.0,1567.0 L471.5,1574.0 L473.0,1580.8 L474.5,1587.4 L476.0,1593.6 L477.5,1599.6 L479.0,1605.1 L480.5,1610.2 L482.0,1614.7 L483.5,1618.8 L485.0,1622.6 L486.5,1626.3 L488.0,1629.9 L489.5,1633.3 L491.0,1636.6 L492.5,1639.7 L494.0,1642.7 L495.5,1645.5 L497.0,1648.2 L498.5,1650.8 L500.0,1653.2 L501.5,1655.5 L503.0,1657.6 L504.5,1659.6 L506.0,1661.4 L507.5,1663.1 L509.0,1664.8 L510.5,1666.3 L512.0,1667.9 L513.5,1669.4 L515.0,1670.8 L516.5,1672.2 L518.0,1673.5 L519.5,1674.7 L521.0,1675.8 L522.5,1676.7 L524.0,1677.6 L525.5,1678.4 L527.0,1679.0 L528.5,1679.4 L530.0,1679.8 L531.5,1680.2 L533.0,1680.5 L534.5,1680.9 L536.0,1681.2 L537.5,1681.5 L539.0,1681.7 L540.5,1682.0 L542.0,1682.2 L543.5,1682.5 L545.0,1682.7 L546.5,1682.9 L548.0,1683.0 L549.5,1683.2 L551.0,1683.4 L552.5,1683.5 L554.0,1683.6 L555.5,1683.8 L557.0,1683.9 L558.5,1684.0 L560.0,1684.1 L561.5,1684.2 L563.0,1684.3 L564.5,1684.4 L566.0,1684.5 L567.5,1684.6 L569.0,1684.7 L570.5,1684.7 L572.0,1684.8 L573.5,1684.9 L575.0,1685.0 L576.5,1685.1 L578.0,1685.1 L579.5,1685.2 L581.0,1685.3 L582.5,1685.3 L584.0,1685.4 L585.5,1685.4 L587.0,1685.5 L588.5,1685.5 L590.0,1685.6 L591.5,1685.6 L593.0,1685.6 L594.5,1685.7 L596.0,1685.7 L597.5,1685.7 L599.0,1685.7 L600.5,1685.7 L602.0,1685.7 L603.5,1685.7 L605.0,1685.6 L606.5,1685.6 L608.0,1685.6 L609.5,1685.5 L611.0,1685.4 L612.5,1685.4 L614.0,1685.3 L615.5,1685.2 L617.0,1685.1 L618.5,1685.0 L620.0,1684.9 L621.5,1684.8 L623.0,1684.7 L624.5,1684.6 L626.0,1684.5 L627.5,1684.3 L629.0,1684.2 L630.5,1684.1 L632.0,1683.9 L633.5,1683.8 L635.0,1683.7 L636.5,1683.5 L638.0,1683.4 L639.5,1683.2 L641.0,1683.1 L642.5,1682.9 L644.0,1682.8 L645.5,1682.6 L647.0,1682.5 L648.5,1682.3 L650.0,1682.2 L651.5,1682.0 L653.0,1681.9 L654.5,1681.7 L656.0,1681.6 L657.5,1681.5 L659.0,1681.3 L660.5,1681.2 L662.0,1681.1 L663.5,1680.9 L665.0,1680.8 L666.5,1680.7 L668.0,1680.6 L669.5,1680.5 L671.0,1680.3 L672.5,1680.2 L674.0,1680.1 L675.5,1680.0 L677.0,1679.9 L678.5,1679.7 L680.0,1679.6 L681.5,1679.5 L683.0,1679.4 L684.5,1679.2 L686.0,1679.1 L687.5,1679.0 L689.0,1678.8 L690.5,1678.7 L692.0,1678.6 L693.5,1678.4 L695.0,1678.3 L696.5,1678.1 L698.0,1678.0 L699.5,1677.9 L701.0,1677.7 L702.5,1677.5 L704.0,1677.4 L705.5,1677.2 L707.0,1677.0 L708.5,1676.9 L710.0,1676.7 L711.5,1676.5 L713.0,1676.3 L714.5,1676.1 L716.0,1675.9 L717.5,1675.7 L719.0,1675.5 L720.5,1675.3 L722.0,1675.0 L723.5,1674.8 L725.0,1674.5 L726.5,1674.2 L728.0,1673.9 L729.5,1673.6 L731.0,1673.2 L732.5,1672.9 L734.0,1672.5 L735.5,1672.1 L737.0,1671.6 L738.5,1671.2 L740.0,1670.7 L741.5,1670.2 L743.0,1669.6 L744.5,1669.0 L746.0,1668.3 L747.5,1667.6 L749.0,1666.8 L750.5,1666.0 L752.0,1665.2 L753.5,1664.3 L755.0,1663.4 L756.5,1662.4 L758.0,1661.4 L759.5,1660.4 L761.0,1659.3 L762.5,1658.1 L764.0,1656.9 L765.5,1655.6 L767.0,1654.1 L768.5,1652.6 L770.0,1650.9 L771.5,1649.1 L773.0,1647.1 L774.5,1644.9 L776.0,1642.2 L777.5,1639.1 L779.0,1635.8 L780.5,1632.2 L782.0,1628.5 L783.5,1624.7 L785.0,1620.6 L786.5,1616.2 L788.0,1611.4 L789.5,1605.9 L791.0,1599.4 L792.5,1591.8 L794.0,1583.8 L795.5,1575.6 L797.0,1566.9 L798.5,1558.0 L800.0,1549.3 L801.5,1541.1 L803.0,1532.6 L804.5,1523.5 L806.0,1513.4 L807.5,1503.2 L809.0,1493.9 L810.5,1485.1 L812.0,1476.9 L813.5,1469.5 L815.0,1462.8 L816.5,1456.5 L818.0,1450.5 L819.5,1444.7 L821.0,1439.2 L822.5,1434.0 L824.0,1428.8 L825.5,1423.5 L827.0,1419.2 L828.5,1416.6 L830.0,1414.9 L831.5,1413.7 L833.0,1413.2 L834.5,1412.8 L836.0,1412.7 L837.5,1413.0 L839.0,1413.6 L840.5,1414.5 L842.0,1415.7 L843.5,1417.4 L845.0,1419.5 L846.5,1422.4 L848.0,1426.5 L849.5,1431.4 L851.0,1436.6 L852.5,1441.7 L854.0,1447.0 L855.5,1452.6 L857.0,1458.7 L858.5,1465.4 L860.0,1472.9 L861.5,1480.6 L863.0,1488.2 L864.5,1496.0 L866.0,1503.8 L867.5,1511.1 L869.0,1517.4 L870.5,1523.0 L872.0,1528.4 L873.5,1534.1 L875.0,1540.0 L876.5,1546.0 L878.0,1552.0 L879.5,1558.0 L881.0,1564.1 L882.5,1570.5 L884.0,1576.8 L885.5,1582.6 L887.0,1587.6 L888.5,1592.0 L890.0,1595.9 L891.5,1599.6 L893.0,1603.0 L894.5,1606.3 L896.0,1609.5 L897.5,1612.6 L899.0,1615.6 L900.5,1618.4 L902.0,1621.0 L903.5,1623.3 L905.0,1625.3 L906.5,1627.2 L908.0,1629.1 L909.5,1630.9 L911.0,1632.5 L912.5,1634.0 L914.0,1635.2 L915.5,1636.3 L917.0,1637.2 L918.5,1637.8 L920.0,1638.5 L921.5,1639.1 L923.0,1639.7 L924.5,1640.2 L926.0,1640.7 L927.5,1641.2 L929.0,1641.6 L930.5,1641.9 L932.0,1642.2 L933.5,1642.4 L935.0,1642.6 L936.5,1642.7 L938.0,1642.7 L939.5,1642.6 L941.0,1642.5 L942.5,1642.3 L944.0,1642.1 L945.5,1641.8 L947.0,1641.5 L948.5,1641.2 L950.0,1640.8 L951.5,1640.5 L953.0,1640.1 L954.5,1639.8 L956.0,1639.5 L957.5,1639.1 L959.0,1638.9 L960.5,1638.6 L962.0,1638.4 L963.5,1638.1 L965.0,1637.9 L966.5,1637.6 L968.0,1637.3 L969.5,1637.0 L971.0,1636.8 L972.5,1636.5 L974.0,1636.2 L975.5,1635.9 L977.0,1635.6 L978.5,1635.4 L980.0,1635.1 L981.5,1634.8 L983.0,1634.6 L984.5,1634.4 L986.0,1634.1 L987.5,1633.9 L989.0,1633.7 L990.5,1633.5 L992.0,1633.4 L993.5,1633.2 L995.0,1633.1 L996.5,1633.0 L998.0,1632.9 L999.5,1632.8 L1001.0,1632.8 L1002.5,1632.8 L1004.0,1632.8 L1005.5,1632.9 L1007.0,1632.9 L1008.5,1633.0 L1010.0,1633.1 L1011.5,1633.2 L1013.0,1633.4 L1014.5,1633.5 L1016.0,1633.7 L1017.5,1633.9 L1019.0,1634.1 L1020.5,1634.3 L1022.0,1634.5 L1023.5,1634.8 L1025.0,1635.0 L1026.5,1635.3 L1028.0,1635.5 L1029.5,1635.8 L1031.0,1636.0 L1032.5,1636.3 L1034.0,1636.5 L1035.5,1636.8 L1037.0,1637.1 L1038.5,1637.3 L1040.0,1637.6 L1041.5,1637.9 L1043.0,1638.3 L1044.5,1638.7 L1046.0,1639.1 L1047.5,1639.5 L1049.0,1640.0 L1050.5,1640.4 L1052.0,1640.9 L1053.5,1641.4 L1055.0,1641.8 L1056.5,1642.3 L1058.0,1642.7 L1059.5,1643.1 L1061.0,1643.5 L1062.5,1643.9 L1064.0,1644.2 L1065.5,1644.5 L1067.0,1644.7 L1068.5,1644.9 L1070.0,1645.0 L1071.5,1645.2 L1073.0,1645.3 L1074.5,1645.5 L1076.0,1645.6 L1077.5,1645.7 L1079.0,1645.9 L1080.5,1646.0 L1082.0,1646.1 L1083.5,1646.3 L1085.0,1646.4 L1086.5,1646.5 L1088.0,1646.6 L1089.5,1646.7 L1091.0,1646.8 L1092.5,1646.9 L1094.0,1647.0 L1095.5,1647.1 L1097.0,1647.2 L1098.5,1647.3 L1100.0,1647.4 L1101.5,1647.4 L1103.0,1647.5 L1104.5,1647.6 L1106.0,1647.6 L1107.5,1647.7 L1109.0,1647.7 L1110.5,1647.8 L1112.0,1647.8 L1113.5,1647.8 L1115.0,1647.9 L1116.5,1647.9 L1118.0,1647.9 L1119.5,1647.9 L1120.0,1647.9" fill="none" stroke="#f00" stroke-width="3.4" stroke-linejoin="round" stroke-linecap="round" />
<path d="M95.0,1714.0 L96.5,1714.0 L98.0,1713.9 L99.5,1713.9 L101.0,1713.9 L102.5,1713.9 L104.0,1713.8 L105.5,1713.8 L107.0,1713.8 L108.5,1713.7 L110.0,1713.7 L111.5,1713.7 L113.0,1713.6 L114.5,1713.6 L116.0,1713.6 L117.5,1713.6 L119.0,1713.5 L120.5,1713.5 L122.0,1713.5 L123.5,1713.4 L125.0,1713.4 L126.5,1713.4 L128.0,1713.3 L129.5,1713.3 L131.0,1713.2 L132.5,1713.2 L134.0,1713.2 L135.5,1713.1 L137.0,1713.1 L138.5,1713.1 L140.0,1713.0 L141.5,1713.0 L143.0,1712.9 L144.5,1712.9 L146.0,1712.9 L147.5,1712.8 L149.0,1712.8 L150.5,1712.8 L152.0,1712.7 L153.5,1712.7 L155.0,1712.6 L156.5,1712.6 L158.0,1712.6 L159.5,1712.5 L161.0,1712.5 L162.5,1712.4 L164.0,1712.4 L165.5,1712.4 L167.0,1712.3 L168.5,1712.3 L170.0,1712.2 L171.5,1712.2 L173.0,1712.2 L174.5,1712.1 L176.0,1712.1 L177.5,1712.0 L179.0,1712.0 L180.5,1711.9 L182.0,1711.9 L183.5,1711.9 L185.0,1711.8 L186.5,1711.8 L188.0,1711.7 L189.5,1711.7 L191.0,1711.6 L192.5,1711.6 L194.0,1711.5 L195.5,1711.5 L197.0,1711.4 L198.5,1711.4 L200.0,1711.3 L201.5,1711.3 L203.0,1711.2 L204.5,1711.2 L206.0,1711.1 L207.5,1711.1 L209.0,1711.0 L210.5,1711.0 L212.0,1710.9 L213.5,1710.9 L215.0,1710.8 L216.5,1710.8 L218.0,1710.7 L219.5,1710.6 L221.0,1710.6 L222.5,1710.5 L224.0,1710.5 L225.5,1710.4 L227.0,1710.3 L228.5,1710.3 L230.0,1710.2 L231.5,1710.1 L233.0,1710.1 L234.5,1710.0 L236.0,1709.9 L237.5,1709.9 L239.0,1709.8 L240.5,1709.7 L242.0,1709.7 L243.5,1709.6 L245.0,1709.5 L246.5,1709.4 L248.0,1709.4 L249.5,1709.3 L251.0,1709.2 L252.5,1709.1 L254.0,1709.1 L255.5,1709.0 L257.0,1708.9 L258.5,1708.8 L260.0,1708.7 L261.5,1708.7 L263.0,1708.6 L264.5,1708.5 L266.0,1708.4 L267.5,1708.3 L269.0,1708.2 L270.5,1708.1 L272.0,1708.0 L273.5,1707.9 L275.0,1707.8 L276.5,1707.7 L278.0,1707.6 L279.5,1707.5 L281.0,1707.4 L282.5,1707.3 L284.0,1707.2 L285.5,1707.1 L287.0,1707.0 L288.5,1706.8 L290.0,1706.7 L291.5,1706.6 L293.0,1706.5 L294.5,1706.3 L296.0,1706.2 L297.5,1706.1 L299.0,1705.9 L300.5,1705.8 L302.0,1705.7 L303.5,1705.5 L305.0,1705.4 L306.5,1705.2 L308.0,1705.1 L309.5,1704.9 L311.0,1704.7 L312.5,1704.6 L314.0,1704.4 L315.5,1704.2 L317.0,1704.1 L318.5,1703.9 L320.0,1703.7 L321.5,1703.5 L323.0,1703.3 L324.5,1703.1 L326.0,1702.9 L327.5,1702.7 L329.0,1702.5 L330.5,1702.3 L332.0,1702.1 L333.5,1701.9 L335.0,1701.6 L336.5,1701.3 L338.0,1701.0 L339.5,1700.7 L341.0,1700.3 L342.5,1700.0 L344.0,1699.6 L345.5,1699.2 L347.0,1698.7 L348.5,1698.3 L350.0,1697.8 L351.5,1697.3 L353.0,1696.7 L354.5,1696.2 L356.0,1695.6 L357.5,1695.0 L359.0,1694.4 L360.5,1693.7 L362.0,1693.0 L363.5,1692.3 L365.0,1691.6 L366.5,1690.7 L368.0,1689.8 L369.5,1688.8 L371.0,1687.7 L372.5,1686.6 L374.0,1685.3 L375.5,1684.0 L377.0,1682.6 L378.5,1681.2 L380.0,1679.6 L381.5,1677.9 L383.0,1676.1 L384.5,1674.3 L386.0,1672.3 L387.5,1670.2 L389.0,1667.6 L390.5,1664.8 L392.0,1661.5 L393.5,1657.9 L395.0,1653.9 L396.5,1649.5 L398.0,1644.8 L399.5,1639.7 L401.0,1634.1 L402.5,1627.9 L404.0,1620.1 L405.5,1610.8 L407.0,1600.3 L408.5,1588.8 L410.0,1576.4 L411.5,1562.6 L413.0,1545.6 L414.5,1526.6 L416.0,1506.8 L417.5,1487.5 L419.0,1469.4 L420.5,1451.4 L422.0,1433.4 L423.5,1415.5 L425.0,1397.7 L426.5,1380.3 L428.0,1363.5 L429.5,1346.7 L431.0,1329.3 L432.5,1310.6 L434.0,1290.7 L435.5,1269.8 L437.0,1247.7 L438.5,1223.2 L440.0,1194.3 L441.5,1170.7 L443.0,1157.2 L444.5,1147.6 L446.0,1140.7 L447.5,1135.6 L449.0,1130.8 L450.5,1126.3 L452.0,1123.0 L453.5,1120.2 L455.0,1119.7 L456.5,1121.9 L458.0,1125.4 L459.5,1131.7 L461.0,1138.8 L462.5,1147.0 L464.0,1156.2 L465.5,1166.9 L467.0,1181.8 L468.5,1200.6 L470.0,1220.4 L471.5,1238.1 L473.0,1252.9 L474.5,1266.5 L476.0,1279.6 L477.5,1292.8 L479.0,1306.8 L480.5,1322.5 L482.0,1340.3 L483.5,1359.2 L485.0,1377.9 L486.5,1395.1 L488.0,1411.5 L489.5,1427.4 L491.0,1442.8 L492.5,1457.6 L494.0,1471.6 L495.5,1484.9 L497.0,1497.6 L498.5,1509.9 L500.0,1521.9 L501.5,1533.4 L503.0,1544.4 L504.5,1554.8 L506.0,1564.7 L507.5,1573.9 L509.0,1583.0 L510.5,1592.0 L512.0,1600.8 L513.5,1609.3 L515.0,1617.4 L516.5,1625.0 L518.0,1632.0 L519.5,1638.2 L521.0,1643.6 L522.5,1648.0 L524.0,1651.8 L525.5,1655.4 L527.0,1658.8 L528.5,1662.1 L530.0,1665.1 L531.5,1667.9 L533.0,1670.6 L534.5,1673.1 L536.0,1675.3 L537.5,1677.4 L539.0,1679.3 L540.5,1681.1 L542.0,1682.6 L543.5,1684.0 L545.0,1685.3 L546.5,1686.5 L548.0,1687.7 L549.5,1688.8 L551.0,1689.9 L552.5,1691.0 L554.0,1692.0 L555.5,1692.9 L557.0,1693.9 L558.5,1694.7 L560.0,1695.5 L561.5,1696.3 L563.0,1697.0 L564.5,1697.7 L566.0,1698.3 L567.5,1698.9 L569.0,1699.4 L570.5,1699.8 L572.0,1700.2 L573.5,1700.6 L575.0,1700.9 L576.5,1701.1 L578.0,1701.4 L579.5,1701.6 L581.0,1701.9 L582.5,1702.1 L584.0,1702.3 L585.5,1702.5 L587.0,1702.7 L588.5,1702.9 L590.0,1703.0 L591.5,1703.2 L593.0,1703.3 L594.5,1703.5 L596.0,1703.6 L597.5,1703.7 L599.0,1703.8 L600.5,1703.9 L602.0,1704.0 L603.5,1704.2 L605.0,1704.3 L606.5,1704.4 L608.0,1704.5 L609.5,1704.6 L611.0,1704.7 L612.5,1704.8 L614.0,1704.9 L615.5,1704.9 L617.0,1705.0 L618.5,1705.1 L620.0,1705.2 L621.5,1705.2 L623.0,1705.3 L624.5,1705.3 L626.0,1705.4 L627.5,1705.4 L629.0,1705.4 L630.5,1705.4 L632.0,1705.4 L633.5,1705.4 L635.0,1705.3 L636.5,1705.3 L638.0,1705.2 L639.5,1705.2 L641.0,1705.1 L642.5,1705.0 L644.0,1704.9 L645.5,1704.8 L647.0,1704.7 L648.5,1704.6 L650.0,1704.5 L651.5,1704.3 L653.0,1704.2 L654.5,1704.0 L656.0,1703.9 L657.5,1703.7 L659.0,1703.5 L660.5,1703.4 L662.0,1703.2 L663.5,1703.0 L665.0,1702.8 L666.5,1702.6 L668.0,1702.4 L669.5,1702.2 L671.0,1702.0 L672.5,1701.8 L674.0,1701.6 L675.5,1701.4 L677.0,1701.2 L678.5,1701.0 L680.0,1700.8 L681.5,1700.6 L683.0,1700.4 L684.5,1700.2 L686.0,1699.9 L687.5,1699.7 L689.0,1699.5 L690.5,1699.3 L692.0,1699.1 L693.5,1698.9 L695.0,1698.7 L696.5,1698.5 L698.0,1698.2 L699.5,1698.0 L701.0,1697.7 L702.5,1697.5 L704.0,1697.2 L705.5,1696.9 L707.0,1696.6 L708.5,1696.4 L710.0,1696.1 L711.5,1695.8 L713.0,1695.5 L714.5,1695.2 L716.0,1694.8 L717.5,1694.5 L719.0,1694.2 L720.5,1693.9 L722.0,1693.5 L723.5,1693.2 L725.0,1692.9 L726.5,1692.5 L728.0,1692.2 L729.5,1691.8 L731.0,1691.5 L732.5,1691.1 L734.0,1690.8 L735.5,1690.4 L737.0,1690.1 L738.5,1689.7 L740.0,1689.3 L741.5,1689.0 L743.0,1688.6 L744.5,1688.3 L746.0,1687.9 L747.5,1687.5 L749.0,1687.1 L750.5,1686.7 L752.0,1686.3 L753.5,1685.9 L755.0,1685.5 L756.5,1685.1 L758.0,1684.6 L759.5,1684.2 L761.0,1683.7 L762.5,1683.2 L764.0,1682.6 L765.5,1682.1 L767.0,1681.5 L768.5,1680.9 L770.0,1680.3 L771.5,1679.6 L773.0,1678.9 L774.5,1678.1 L776.0,1677.3 L777.5,1676.3 L779.0,1675.3 L780.5,1674.3 L782.0,1673.1 L783.5,1672.0 L785.0,1670.7 L786.5,1669.5 L788.0,1668.1 L789.5,1666.7 L791.0,1665.1 L792.5,1663.5 L794.0,1661.7 L795.5,1659.8 L797.0,1657.7 L798.5,1655.6 L800.0,1653.3 L801.5,1650.8 L803.0,1648.1 L804.5,1645.1 L806.0,1641.8 L807.5,1638.1 L809.0,1634.1 L810.5,1629.5 L812.0,1624.0 L813.5,1617.8 L815.0,1611.2 L816.5,1604.4 L818.0,1597.0 L819.5,1589.3 L821.0,1581.5 L822.5,1574.2 L824.0,1567.1 L825.5,1559.8 L827.0,1551.6 L828.5,1542.2 L830.0,1531.8 L831.5,1520.6 L833.0,1508.3 L834.5,1495.1 L836.0,1481.1 L837.5,1466.1 L839.0,1449.9 L840.5,1431.5 L842.0,1412.9 L843.5,1395.4 L845.0,1378.4 L846.5,1362.0 L848.0,1346.4 L849.5,1331.7 L851.0,1318.2 L852.5,1305.5 L854.0,1294.3 L855.5,1284.2 L857.0,1275.1 L858.5,1266.6 L860.0,1259.6 L861.5,1255.2 L863.0,1252.2 L864.5,1250.3 L866.0,1249.1 L867.5,1249.3 L869.0,1250.7 L870.5,1252.7 L872.0,1256.2 L873.5,1260.3 L875.0,1265.4 L876.5,1271.5 L878.0,1278.9 L879.5,1288.5 L881.0,1299.3 L882.5,1311.5 L884.0,1324.6 L885.5,1337.3 L887.0,1349.9 L888.5,1362.2 L890.0,1374.1 L891.5,1385.8 L893.0,1397.6 L894.5,1409.7 L896.0,1422.2 L897.5,1434.5 L899.0,1446.2 L900.5,1456.6 L902.0,1466.0 L903.5,1474.7 L905.0,1483.3 L906.5,1492.1 L908.0,1501.5 L909.5,1511.3 L911.0,1520.8 L912.5,1529.5 L914.0,1537.4 L915.5,1544.9 L917.0,1552.0 L918.5,1558.6 L920.0,1565.1 L921.5,1571.2 L923.0,1576.7 L924.5,1581.5 L926.0,1586.0 L927.5,1590.2 L929.0,1594.0 L930.5,1597.3 L932.0,1600.0 L933.5,1602.3 L935.0,1604.4 L936.5,1606.3 L938.0,1608.1 L939.5,1609.7 L941.0,1611.1 L942.5,1612.3 L944.0,1613.3 L945.5,1614.2 L947.0,1615.1 L948.5,1616.0 L950.0,1616.9 L951.5,1617.7 L953.0,1618.3 L954.5,1618.9 L956.0,1619.4 L957.5,1619.8 L959.0,1620.0 L960.5,1620.0 L962.0,1619.9 L963.5,1619.6 L965.0,1619.3 L966.5,1618.8 L968.0,1618.3 L969.5,1617.7 L971.0,1617.0 L972.5,1616.2 L974.0,1615.4 L975.5,1614.6 L977.0,1613.8 L978.5,1613.0 L980.0,1612.2 L981.5,1611.4 L983.0,1610.6 L984.5,1609.9 L986.0,1609.1 L987.5,1608.2 L989.0,1607.3 L990.5,1606.4 L992.0,1605.4 L993.5,1604.5 L995.0,1603.5 L996.5,1602.5 L998.0,1601.5 L999.5,1600.6 L1001.0,1599.7 L1002.5,1598.9 L1004.0,1598.2 L1005.5,1597.5 L1007.0,1596.9 L1008.5,1596.4 L1010.0,1596.0 L1011.5,1595.5 L1013.0,1595.1 L1014.5,1594.6 L1016.0,1594.2 L1017.5,1593.8 L1019.0,1593.4 L1020.5,1593.0 L1022.0,1592.7 L1023.5,1592.3 L1025.0,1592.0 L1026.5,1591.7 L1028.0,1591.4 L1029.5,1591.2 L1031.0,1591.0 L1032.5,1590.8 L1034.0,1590.7 L1035.5,1590.6 L1037.0,1590.5 L1038.5,1590.5 L1040.0,1590.5 L1041.5,1590.7 L1043.0,1590.8 L1044.5,1591.1 L1046.0,1591.4 L1047.5,1591.8 L1049.0,1592.2 L1050.5,1592.6 L1052.0,1593.1 L1053.5,1593.6 L1055.0,1594.2 L1056.5,1594.8 L1058.0,1595.3 L1059.5,1596.0 L1061.0,1596.6 L1062.5,1597.2 L1064.0,1597.8 L1065.5,1598.4 L1067.0,1599.0 L1068.5,1599.6 L1070.0,1600.1 L1071.5,1600.8 L1073.0,1601.4 L1074.5,1602.1 L1076.0,1602.8 L1077.5,1603.5 L1079.0,1604.2 L1080.5,1605.0 L1082.0,1605.8 L1083.5,1606.5 L1085.0,1607.3 L1086.5,1608.1 L1088.0,1609.0 L1089.5,1609.8 L1091.0,1610.6 L1092.5,1611.4 L1094.0,1612.2 L1095.5,1613.0 L1097.0,1613.7 L1098.5,1614.5 L1100.0,1615.3 L1101.5,1616.0 L1103.0,1616.8 L1104.5,1617.5 L1106.0,1618.3 L1107.5,1619.0 L1109.0,1619.8 L1110.5,1620.5 L1112.0,1621.3 L1113.5,1622.0 L1115.0,1622.8 L1116.5,1623.5 L1118.0,1624.3 L1119.5,1625.0 L1120.0,1625.3" fill="none" stroke="#000" stroke-width="3.4" stroke-linejoin="round" stroke-linecap="round" />
<line x1="141.6" y1="1760.0" x2="141.6" y2="1742.0" stroke="#111" stroke-width="3.4"/>
<line x1="337.4" y1="1760.0" x2="337.4" y2="1742.0" stroke="#111" stroke-width="3.4"/>
<line x1="533.2" y1="1760.0" x2="533.2" y2="1742.0" stroke="#111" stroke-width="3.4"/>
<line x1="729.0" y1="1760.0" x2="729.0" y2="1742.0" stroke="#111" stroke-width="3.4"/>
<line x1="924.8" y1="1760.0" x2="924.8" y2="1742.0" stroke="#111" stroke-width="3.4"/>
<line x1="1120.6" y1="1760.0" x2="1120.6" y2="1742.0" stroke="#111" stroke-width="3.4"/>
<line x1="239.5" y1="1760.0" x2="239.5" y2="1749.5" stroke="#111" stroke-width="3.4"/>
<line x1="435.3" y1="1760.0" x2="435.3" y2="1749.5" stroke="#111" stroke-width="3.4"/>
<line x1="631.1" y1="1760.0" x2="631.1" y2="1749.5" stroke="#111" stroke-width="3.4"/>
<line x1="826.9" y1="1760.0" x2="826.9" y2="1749.5" stroke="#111" stroke-width="3.4"/>
<line x1="1022.7" y1="1760.0" x2="1022.7" y2="1749.5" stroke="#111" stroke-width="3.4"/>
<text x="141.6" y="1811.2" font-family="'Liberation Sans', Arial, Helvetica, sans-serif" font-size="43.5" text-anchor="middle" fill="#111" >480</text>
<text x="337.4" y="1811.2" font-family="'Liberation Sans', Arial, Helvetica, sans-serif" font-size="43.5" text-anchor="middle" fill="#111" >484</text>
<text x="533.2" y="1811.2" font-family="'Liberation Sans', Arial, Helvetica, sans-serif" font-size="43.5" text-anchor="middle" fill="#111" >488</text>
<text x="729.0" y="1811.2" font-family="'Liberation Sans', Arial, Helvetica, sans-serif" font-size="43.5" text-anchor="middle" fill="#111" >492</text>
<text x="924.8" y="1811.2" font-family="'Liberation Sans', Arial, Helvetica, sans-serif" font-size="43.5" text-anchor="middle" fill="#111" >496</text>
<text x="1120.6" y="1811.2" font-family="'Liberation Sans', Arial, Helvetica, sans-serif" font-size="43.5" text-anchor="middle" fill="#111" >500</text>
<line x1="501.2" y1="1355" x2="587.4" y2="1355" stroke="#000" stroke-width="4"/>
<line x1="501.2" y1="1401.3" x2="587.4" y2="1401.3" stroke="#f00" stroke-width="4.5"/>
<text x="597.9" y="1367.3" font-family="'Liberation Sans', Arial, Helvetica, sans-serif" font-size="37.5" text-anchor="start" fill="#111" >ZTO</text>
<text x="597.9" y="1412.6" font-family="'Liberation Sans', Arial, Helvetica, sans-serif" font-size="37.5" text-anchor="start" fill="#111" >ZTO/BiOBr</text>
<text x="172.0" y="1194.0" font-family="'Liberation Sans', Arial, Helvetica, sans-serif" font-size="37.2" text-anchor="start" fill="#111" >Sn 3d</text>
<text x="476.0" y="1111.8" font-family="'Liberation Sans', Arial, Helvetica, sans-serif" font-size="37.2" fill="#111">Sn 3d<tspan font-size="22.3" dx="2" dy="15.6">5/2</tspan></text>
<text x="856.3" y="1171.7" font-family="'Liberation Sans', Arial, Helvetica, sans-serif" font-size="37.2" fill="#111">Sn 3d<tspan font-size="22.3" dx="2" dy="15.6">3/2</tspan></text>
<text x="951.4" y="1119.0" font-family="'Liberation Serif', 'Times New Roman', serif" font-size="65.5" text-anchor="start" fill="#111" >(c)</text>
<text transform="translate(54.1,1525.4) rotate(-90)" font-family="'Liberation Sans', Arial, Helvetica, sans-serif" font-size="50.5" fill="#111">Counts (a.u)</text>
<text x="449.7" y="1868.0" font-family="'Liberation Sans', Arial, Helvetica, sans-serif" font-size="51" text-anchor="start" fill="#111" >Binding energy (eV)</text>
<rect x="93.0" y="1002.4" width="1028.0" height="757.6" fill="none" stroke="#111" stroke-width="5.5"/>
<path d="M1336.0,1538.7 L1337.5,1538.9 L1339.0,1538.5 L1340.5,1538.6 L1342.0,1537.9 L1343.5,1537.4 L1345.0,1536.9 L1346.5,1537.0 L1348.0,1537.7 L1349.5,1538.5 L1351.0,1538.5 L1352.5,1537.7 L1354.0,1537.0 L1355.5,1537.3 L1357.0,1538.6 L1358.5,1539.7 L1360.0,1540.0 L1361.5,1539.4 L1363.0,1538.7 L1364.5,1538.7 L1366.0,1538.4 L1367.5,1538.1 L1369.0,1537.5 L1370.5,1537.7 L1372.0,1537.9 L1373.5,1538.6 L1375.0,1538.6 L1376.5,1538.7 L1378.0,1538.3 L1379.5,1538.1 L1381.0,1537.6 L1382.5,1537.4 L1384.0,1537.7 L1385.5,1538.6 L1387.0,1539.4 L1388.5,1539.8 L1390.0,1540.2 L1391.5,1540.5 L1393.0,1541.2 L1394.5,1542.0 L1396.0,1542.9 L1397.5,1543.8 L1399.0,1544.0 L1400.5,1544.0 L1402.0,1543.4 L1403.5,1543.2 L1405.0,1543.2 L1406.5,1543.7 L1408.0,1544.1 L1409.5,1544.6 L1411.0,1545.2 L1412.5,1545.6 L1414.0,1545.8 L1415.5,1545.1 L1417.0,1544.6 L1418.5,1543.9 L1420.0,1544.1 L1421.5,1544.2 L1423.0,1544.5 L1424.5,1544.4 L1426.0,1544.4 L1427.5,1544.5 L1429.0,1544.7 L1430.5,1545.2 L1432.0,1545.8 L1433.5,1546.1 L1435.0,1546.0 L1436.5,1545.6 L1438.0,1545.3 L1439.5,1545.0 L1441.0,1544.9 L1442.5,1545.1 L1444.0,1545.5 L1445.5,1545.7 L1447.0,1546.0 L1448.5,1546.3 L1450.0,1546.7 L1451.5,1546.7 L1453.0,1546.3 L1454.5,1545.8 L1456.0,1545.8 L1457.5,1546.2 L1459.0,1546.9 L1460.5,1547.1 L1462.0,1547.1 L1463.5,1546.9 L1465.0,1547.1 L1466.5,1547.1 L1468.0,1546.6 L1469.5,1546.0 L1471.0,1545.6 L1472.5,1545.8 L1474.0,1546.0 L1475.5,1546.3 L1477.0,1546.4 L1478.5,1546.2 L1480.0,1545.8 L1481.5,1546.0 L1483.0,1546.1 L1484.5,1546.2 L1486.0,1545.6 L1487.5,1546.0 L1489.0,1546.4 L1490.5,1546.3 L1492.0,1545.2 L1493.5,1544.4 L1495.0,1544.9 L1496.5,1546.4 L1498.0,1547.7 L1499.5,1548.1 L1501.0,1547.7 L1502.5,1547.1 L1504.0,1547.0 L1505.5,1546.9 L1507.0,1547.1 L1508.5,1547.1 L1510.0,1547.0 L1511.5,1546.4 L1513.0,1546.2 L1514.5,1546.1 L1516.0,1546.2 L1517.5,1546.1 L1519.0,1546.5 L1520.5,1547.3 L1522.0,1547.9 L1523.5,1547.8 L1525.0,1546.5 L1526.5,1544.5 L1528.0,1542.0 L1529.5,1540.2 L1531.0,1539.0 L1532.5,1538.4 L1534.0,1538.1 L1535.5,1538.1 L1537.0,1537.8 L1538.5,1537.8 L1540.0,1538.0 L1541.5,1539.0 L1543.0,1540.2 L1544.5,1540.9 L1546.0,1541.3 L1547.5,1541.4 L1549.0,1541.5 L1550.5,1541.7 L1552.0,1541.4 L1553.5,1540.7 L1555.0,1539.3 L1556.5,1538.1 L1558.0,1537.4 L1559.5,1537.1 L1561.0,1536.6 L1562.5,1535.6 L1564.0,1534.6 L1565.5,1533.4 L1567.0,1532.7 L1568.5,1531.2 L1570.0,1529.7 L1571.5,1527.4 L1573.0,1525.5 L1574.5,1523.1 L1576.0,1520.4 L1577.5,1516.7 L1579.0,1513.1 L1580.5,1509.5 L1582.0,1505.7 L1583.5,1500.4 L1585.0,1493.8 L1586.5,1486.7 L1588.0,1479.2 L1589.5,1471.6 L1591.0,1463.9 L1592.5,1455.9 L1594.0,1447.6 L1595.5,1438.6 L1597.0,1428.8 L1598.5,1417.4 L1600.0,1403.5 L1601.5,1388.1 L1603.0,1373.0 L1604.5,1359.2 L1606.0,1347.0 L1607.5,1335.3 L1609.0,1323.7 L1610.5,1311.8 L1612.0,1299.8 L1613.5,1287.2 L1615.0,1274.3 L1616.5,1260.5 L1618.0,1247.0 L1619.5,1234.8 L1621.0,1224.6 L1622.5,1214.9 L1624.0,1205.2 L1625.5,1196.7 L1627.0,1190.8 L1628.5,1185.5 L1630.0,1181.5 L1631.5,1179.2 L1633.0,1179.9 L1634.5,1183.3 L1636.0,1188.1 L1637.5,1193.2 L1639.0,1199.7 L1640.5,1207.8 L1642.0,1216.5 L1643.5,1224.8 L1645.0,1232.7 L1646.5,1241.2 L1648.0,1249.7 L1649.5,1258.7 L1651.0,1268.2 L1652.5,1278.4 L1654.0,1288.1 L1655.5,1297.2 L1657.0,1305.9 L1658.5,1315.2 L1660.0,1324.5 L1661.5,1333.8 L1663.0,1343.2 L1664.5,1353.1 L1666.0,1363.6 L1667.5,1374.5 L1669.0,1386.8 L1670.5,1398.8 L1672.0,1409.4 L1673.5,1418.7 L1675.0,1427.7 L1676.5,1435.5 L1678.0,1441.5 L1679.5,1446.2 L1681.0,1451.1 L1682.5,1455.7 L1684.0,1459.8 L1685.5,1463.0 L1687.0,1465.6 L1688.5,1467.9 L1690.0,1469.8 L1691.5,1470.8 L1693.0,1471.4 L1694.5,1472.0 L1696.0,1473.1 L1697.5,1474.4 L1699.0,1476.0 L1700.5,1477.5 L1702.0,1478.7 L1703.5,1479.4 L1705.0,1479.9 L1706.5,1480.4 L1708.0,1481.0 L1709.5,1481.7 L1711.0,1482.6 L1712.5,1483.8 L1714.0,1485.1 L1715.5,1486.6 L1717.0,1487.6 L1718.5,1488.2 L1720.0,1488.3 L1721.5,1488.8 L1723.0,1490.1 L1724.5,1491.5 L1726.0,1492.5 L1727.5,1493.1 L1729.0,1494.2 L1730.5,1495.8 L1732.0,1497.2 L1733.5,1498.0 L1735.0,1498.0 L1736.5,1498.6 L1738.0,1499.5 L1739.5,1501.0 L1741.0,1501.8 L1742.5,1502.5 L1744.0,1503.4 L1745.5,1504.5 L1747.0,1505.5 L1748.5,1506.1 L1750.0,1506.8 L1751.5,1507.8 L1753.0,1508.7 L1754.5,1509.3 L1756.0,1509.3 L1757.5,1509.6 L1759.0,1510.4 L1760.5,1511.7 L1762.0,1512.6 L1763.5,1513.2 L1765.0,1514.1 L1766.5,1514.9 L1768.0,1515.8 L1769.5,1516.0 L1771.0,1516.9 L1772.5,1517.5 L1774.0,1518.3 L1775.5,1518.2 L1777.0,1518.4 L1778.5,1518.7 L1780.0,1519.3 L1781.5,1519.8 L1783.0,1520.1 L1784.5,1520.4 L1786.0,1520.8 L1787.5,1520.8 L1789.0,1520.6 L1790.5,1520.3 L1792.0,1520.4 L1793.5,1520.7 L1795.0,1521.2 L1796.5,1521.6 L1798.0,1521.9 L1799.5,1522.6 L1801.0,1523.5 L1802.5,1524.7 L1804.0,1525.9 L1805.5,1527.2 L1807.0,1528.5 L1808.5,1530.0 L1810.0,1530.4 L1811.5,1530.9 L1813.0,1530.8 L1814.5,1531.2 L1816.0,1531.1 L1817.5,1531.5 L1819.0,1532.1 L1820.5,1533.1 L1822.0,1534.2 L1823.5,1534.8 L1825.0,1535.4 L1826.5,1535.6 L1828.0,1536.1 L1829.5,1535.9 L1831.0,1535.7 L1832.5,1535.4 L1834.0,1535.9 L1835.5,1536.4 L1837.0,1536.9 L1838.5,1537.1 L1840.0,1537.3 L1841.5,1537.3 L1843.0,1537.6 L1844.5,1537.7 L1846.0,1537.7 L1847.5,1537.6 L1849.0,1538.0 L1850.5,1539.0 L1852.0,1539.9 L1853.5,1540.1 L1855.0,1539.3 L1856.5,1538.4 L1858.0,1538.1 L1859.5,1538.5 L1861.0,1538.9 L1862.5,1539.3 L1864.0,1539.7 L1865.5,1540.6 L1867.0,1541.5 L1868.5,1542.3 L1870.0,1542.8 L1871.5,1542.7 L1873.0,1542.3 L1874.5,1541.5 L1876.0,1541.2 L1877.5,1541.2 L1879.0,1541.4 L1880.5,1541.7 L1882.0,1542.0 L1883.5,1542.4 L1885.0,1542.3 L1886.5,1541.8 L1888.0,1540.6 L1889.5,1539.6 L1891.0,1539.2 L1892.5,1539.9 L1894.0,1540.4 L1895.5,1540.6 L1897.0,1540.6 L1898.5,1541.1 L1900.0,1541.9 L1901.5,1542.1 L1903.0,1541.9 L1904.5,1541.6 L1906.0,1542.0 L1907.5,1542.1 L1909.0,1541.9 L1910.5,1541.2 L1912.0,1540.7 L1913.5,1540.5 L1915.0,1540.6 L1916.5,1540.8 L1918.0,1541.0 L1919.5,1541.3 L1921.0,1541.7 L1922.5,1541.6 L1924.0,1541.3 L1925.5,1540.6 L1927.0,1540.3 L1928.5,1540.0 L1930.0,1539.6 L1931.5,1539.2 L1933.0,1539.6 L1934.5,1540.4 L1936.0,1541.2 L1937.5,1541.3 L1939.0,1541.3 L1940.5,1541.3 L1942.0,1541.6 L1943.5,1541.9 L1945.0,1541.9 L1946.5,1541.6 L1948.0,1540.9 L1949.5,1541.3 L1951.0,1541.6 L1952.5,1542.1 L1954.0,1542.2 L1955.5,1542.7 L1957.0,1543.4 L1958.5,1543.7 L1960.0,1543.6 L1961.5,1543.1 L1963.0,1542.4 L1964.5,1542.1 L1966.0,1541.8 L1967.5,1542.2 L1969.0,1541.9 L1970.5,1541.8 L1972.0,1540.9 L1973.5,1540.5 L1975.0,1539.7 L1976.5,1539.6 L1978.0,1539.1 L1979.5,1538.8 L1981.0,1538.5 L1982.5,1538.9 L1984.0,1539.7 L1985.5,1540.1 L1987.0,1540.1 L1988.5,1539.7 L1990.0,1539.2 L1991.5,1538.9 L1993.0,1538.6 L1994.5,1538.5 L1996.0,1538.6 L1997.5,1539.5 L1999.0,1540.6 L2000.5,1541.4 L2002.0,1541.1 L2003.5,1540.5 L2005.0,1540.0 L2006.5,1540.1 L2008.0,1539.9 L2009.5,1539.6 L2011.0,1539.3 L2012.5,1539.8 L2014.0,1540.2 L2015.5,1540.2 L2017.0,1539.7 L2018.5,1539.4 L2020.0,1539.3 L2021.5,1539.4 L2023.0,1539.5 L2024.5,1539.3 L2026.0,1538.9 L2027.5,1538.4 L2029.0,1537.9 L2030.5,1537.7 L2032.0,1537.9 L2033.5,1537.8 L2035.0,1537.9 L2036.5,1537.6 L2038.0,1538.4 L2039.5,1538.1 L2041.0,1537.7 L2042.5,1536.6 L2044.0,1536.7 L2045.5,1537.5 L2047.0,1538.0 L2048.5,1538.1 L2050.0,1537.8 L2051.5,1537.6 L2053.0,1537.3 L2054.5,1537.1 L2056.0,1537.4 L2057.5,1537.6 L2059.0,1537.4 L2060.5,1537.2 L2062.0,1537.2 L2063.5,1537.3 L2065.0,1537.2 L2066.5,1537.2 L2068.0,1537.5 L2069.5,1537.8 L2071.0,1537.9 L2072.5,1537.5 L2074.0,1537.0 L2075.5,1536.5 L2077.0,1535.9 L2078.5,1536.1 L2080.0,1536.1 L2081.5,1536.2 L2083.0,1536.2 L2084.5,1536.6 L2086.0,1536.7 L2087.5,1536.3 L2089.0,1536.1 L2090.5,1536.4 L2092.0,1537.0 L2093.5,1536.8 L2095.0,1535.8 L2096.5,1534.8 L2098.0,1534.3 L2099.5,1534.6 L2101.0,1534.8 L2102.5,1535.0 L2104.0,1534.8 L2105.5,1534.8 L2107.0,1535.1 L2108.5,1535.4 L2110.0,1536.2 L2111.5,1535.9 L2113.0,1535.3 L2114.5,1534.3 L2116.0,1534.5 L2117.5,1534.7 L2119.0,1534.8 L2120.5,1534.5 L2122.0,1535.0 L2123.5,1535.0 L2125.0,1535.0 L2126.5,1534.2 L2128.0,1534.2 L2129.5,1534.5 L2131.0,1535.3 L2132.5,1535.8 L2134.0,1535.7 L2135.5,1535.0 L2137.0,1534.1 L2138.5,1533.8 L2140.0,1534.2 L2141.5,1534.9 L2143.0,1535.1 L2144.5,1534.6 L2146.0,1533.7 L2147.5,1533.0 L2149.0,1532.7 L2150.5,1533.0 L2152.0,1533.3 L2153.5,1533.0 L2155.0,1532.6 L2156.5,1532.5 L2158.0,1533.2 L2159.5,1533.9 L2161.0,1534.1 L2162.5,1533.8 L2164.0,1533.4 L2165.5,1532.9 L2167.0,1533.2 L2168.5,1533.6 L2170.0,1534.2 L2171.5,1533.3 L2173.0,1532.6 L2174.5,1532.2 L2176.0,1533.1 L2177.5,1533.2 L2179.0,1532.8 L2180.5,1531.7 L2182.0,1531.6 L2183.5,1531.7 L2185.0,1532.7 L2186.5,1533.1 L2188.0,1533.6 L2189.5,1533.4 L2191.0,1532.7 L2192.5,1532.0 L2194.0,1531.1 L2195.5,1531.2 L2197.0,1531.8 L2198.5,1532.8 L2200.0,1532.7 L2201.5,1532.0 L2203.0,1530.9 L2204.5,1530.8 L2206.0,1531.1 L2207.5,1532.0 L2209.0,1532.4 L2210.5,1532.8 L2212.0,1533.0 L2213.5,1532.6 L2215.0,1532.2 L2216.5,1531.7 L2218.0,1531.6 L2219.5,1531.5 L2221.0,1531.5 L2222.5,1531.7 L2224.0,1531.8 L2225.5,1532.1 L2227.0,1531.7 L2228.5,1531.1 L2230.0,1530.5 L2231.5,1530.4 L2233.0,1530.7 L2234.5,1530.6 L2236.0,1530.1 L2237.5,1529.7 L2239.0,1530.1 L2240.5,1531.3 L2242.0,1532.0 L2243.5,1531.5 L2245.0,1530.5 L2246.5,1530.3 L2248.0,1531.0 L2249.5,1531.9 L2251.0,1531.7 L2252.5,1531.2 L2254.0,1530.4 L2255.5,1530.4 L2257.0,1530.5 L2258.5,1530.6 L2260.0,1530.6 L2261.5,1530.4 L2263.0,1530.2 L2264.5,1530.2 L2266.0,1530.3 L2267.5,1530.4 L2269.0,1530.1 L2270.5,1530.2 L2272.0,1530.2 L2273.5,1530.4 L2275.0,1530.1 L2276.5,1529.9 L2278.0,1529.6 L2279.5,1530.2 L2281.0,1530.6 L2282.5,1530.8 L2284.0,1530.5 L2285.5,1529.8 L2287.0,1530.0 L2288.5,1529.6 L2290.0,1530.2 L2291.5,1529.8 L2293.0,1530.3 L2294.5,1529.9 L2296.0,1529.9 L2297.5,1529.6 L2299.0,1529.4 L2300.5,1529.3 L2302.0,1528.9 L2303.5,1528.6 L2305.0,1528.0 L2306.5,1527.9 L2308.0,1528.2 L2309.5,1528.5 L2311.0,1528.6 L2312.5,1527.8 L2314.0,1527.2 L2315.5,1527.0 L2317.0,1527.3 L2318.5,1527.6 L2320.0,1527.3 L2321.5,1527.1 L2323.0,1526.6 L2324.5,1526.6 L2326.0,1526.5 L2327.5,1526.9 L2329.0,1527.1 L2330.5,1526.7 L2332.0,1526.4 L2333.5,1526.4 L2335.0,1527.4 L2336.5,1527.9 L2338.0,1527.9 L2339.5,1526.6 L2341.0,1525.4 L2342.5,1524.6 L2344.0,1524.6 L2345.5,1525.2 L2347.0,1525.6 L2348.5,1525.8 L2350.0,1525.6 L2351.5,1525.4 L2353.0,1525.5 L2354.5,1525.2 L2356.0,1524.5 L2357.5,1523.3 L2359.0,1522.8 L2360.5,1522.2 L2362.0,1522.3 L2363.5,1522.2 L2365.0,1523.0 L2366.5,1523.3 L2368.0,1523.9 L2369.5,1524.0 L2371.0,1524.0 L2372.5,1523.4 L2373.8,1522.7" fill="none" stroke="#00ee00" stroke-width="3.4" stroke-linejoin="round" stroke-linecap="round" />
<path d="M1336.0,1683.9 L1337.5,1683.8 L1339.0,1684.4 L1340.5,1685.2 L1342.0,1686.1 L1343.5,1686.5 L1345.0,1687.1 L1346.5,1687.3 L1348.0,1687.3 L1349.5,1687.3 L1351.0,1688.1 L1352.5,1689.1 L1354.0,1689.9 L1355.5,1689.7 L1357.0,1689.2 L1358.5,1688.0 L1360.0,1687.2 L1361.5,1686.7 L1363.0,1687.2 L1364.5,1687.7 L1366.0,1688.3 L1367.5,1688.5 L1369.0,1688.8 L1370.5,1688.7 L1372.0,1689.0 L1373.5,1689.3 L1375.0,1689.8 L1376.5,1689.5 L1378.0,1689.3 L1379.5,1689.2 L1381.0,1689.9 L1382.5,1690.3 L1384.0,1690.3 L1385.5,1690.0 L1387.0,1689.4 L1388.5,1689.4 L1390.0,1689.0 L1391.5,1688.9 L1393.0,1688.9 L1394.5,1689.4 L1396.0,1689.5 L1397.5,1689.5 L1399.0,1689.4 L1400.5,1690.1 L1402.0,1690.5 L1403.5,1690.8 L1405.0,1690.7 L1406.5,1690.6 L1408.0,1690.2 L1409.5,1689.5 L1411.0,1688.9 L1412.5,1688.4 L1414.0,1687.7 L1415.5,1687.0 L1417.0,1686.2 L1418.5,1685.7 L1420.0,1685.1 L1421.5,1684.9 L1423.0,1684.8 L1424.5,1685.2 L1426.0,1685.1 L1427.5,1685.0 L1429.0,1684.6 L1430.5,1684.3 L1432.0,1683.9 L1433.5,1683.7 L1435.0,1683.7 L1436.5,1684.1 L1438.0,1684.6 L1439.5,1685.2 L1441.0,1685.4 L1442.5,1685.5 L1444.0,1685.2 L1445.5,1684.9 L1447.0,1684.4 L1448.5,1684.1 L1450.0,1683.8 L1451.5,1683.6 L1453.0,1683.5 L1454.5,1683.9 L1456.0,1683.9 L1457.5,1683.4 L1459.0,1682.8 L1460.5,1682.5 L1462.0,1682.8 L1463.5,1682.8 L1465.0,1682.6 L1466.5,1682.9 L1468.0,1683.1 L1469.5,1683.7 L1471.0,1683.8 L1472.5,1684.1 L1474.0,1683.9 L1475.5,1683.9 L1477.0,1683.6 L1478.5,1683.7 L1480.0,1683.5 L1481.5,1683.6 L1483.0,1683.4 L1484.5,1683.1 L1486.0,1682.7 L1487.5,1682.7 L1489.0,1682.7 L1490.5,1682.6 L1492.0,1682.3 L1493.5,1682.0 L1495.0,1681.7 L1496.5,1681.2 L1498.0,1680.3 L1499.5,1679.5 L1501.0,1678.8 L1502.5,1677.9 L1504.0,1676.4 L1505.5,1675.0 L1507.0,1673.7 L1508.5,1672.8 L1510.0,1671.4 L1511.5,1669.9 L1513.0,1668.2 L1514.5,1667.0 L1516.0,1665.9 L1517.5,1665.0 L1519.0,1664.1 L1520.5,1662.7 L1522.0,1660.8 L1523.5,1658.4 L1525.0,1655.6 L1526.5,1652.5 L1528.0,1648.8 L1529.5,1645.0 L1531.0,1640.5 L1532.5,1635.9 L1534.0,1630.5 L1535.5,1624.9 L1537.0,1618.6 L1538.5,1612.6 L1540.0,1606.4 L1541.5,1599.8 L1543.0,1592.6 L1544.5,1584.8 L1546.0,1577.2 L1547.5,1569.4 L1549.0,1561.4 L1550.5,1552.6 L1552.0,1543.3 L1553.5,1533.8 L1555.0,1524.6 L1556.5,1515.5 L1558.0,1505.9 L1559.5,1496.2 L1561.0,1486.3 L1562.5,1476.4 L1564.0,1465.8 L1565.5,1455.1 L1567.0,1444.6 L1568.5,1435.1 L1570.0,1426.4 L1571.5,1417.9 L1573.0,1409.4 L1574.5,1400.6 L1576.0,1392.1 L1577.5,1383.4 L1579.0,1375.0 L1580.5,1366.8 L1582.0,1359.4 L1583.5,1352.4 L1585.0,1346.2 L1586.5,1340.8 L1588.0,1336.2 L1589.5,1331.6 L1591.0,1326.9 L1592.5,1322.6 L1594.0,1319.2 L1595.5,1317.1 L1597.0,1315.7 L1598.5,1314.7 L1600.0,1313.7 L1601.5,1312.8 L1603.0,1312.3 L1604.5,1312.6 L1606.0,1313.6 L1607.5,1315.2 L1609.0,1317.0 L1610.5,1319.5 L1612.0,1322.2 L1613.5,1325.3 L1615.0,1328.5 L1616.5,1331.6 L1618.0,1335.6 L1619.5,1340.3 L1621.0,1346.3 L1622.5,1352.5 L1624.0,1358.6 L1625.5,1364.7 L1627.0,1370.9 L1628.5,1377.6 L1630.0,1383.8 L1631.5,1389.9 L1633.0,1395.5 L1634.5,1401.1 L1636.0,1406.7 L1637.5,1412.4 L1639.0,1418.0 L1640.5,1423.8 L1642.0,1430.3 L1643.5,1436.2 L1645.0,1441.2 L1646.5,1446.0 L1648.0,1450.2 L1649.5,1454.0 L1651.0,1457.2 L1652.5,1460.4 L1654.0,1463.6 L1655.5,1467.0 L1657.0,1470.1 L1658.5,1473.3 L1660.0,1476.7 L1661.5,1481.0 L1663.0,1485.4 L1664.5,1489.8 L1666.0,1493.3 L1667.5,1496.8 L1669.0,1500.2 L1670.5,1504.2 L1672.0,1508.3 L1673.5,1512.6 L1675.0,1516.3 L1676.5,1520.0 L1678.0,1523.0 L1679.5,1526.1 L1681.0,1529.3 L1682.5,1533.2 L1684.0,1537.5 L1685.5,1542.1 L1687.0,1546.0 L1688.5,1549.7 L1690.0,1552.9 L1691.5,1557.0 L1693.0,1560.9 L1694.5,1564.9 L1696.0,1568.0 L1697.5,1570.9 L1699.0,1573.3 L1700.5,1575.8 L1702.0,1578.4 L1703.5,1580.9 L1705.0,1583.5 L1706.5,1585.8 L1708.0,1588.1 L1709.5,1590.2 L1711.0,1592.2 L1712.5,1594.2 L1714.0,1596.6 L1715.5,1599.7 L1717.0,1603.1 L1718.5,1606.8 L1720.0,1610.4 L1721.5,1614.4 L1723.0,1618.4 L1724.5,1622.7 L1726.0,1626.5 L1727.5,1630.3 L1729.0,1633.4 L1730.5,1636.1 L1732.0,1637.8 L1733.5,1639.5 L1735.0,1641.3 L1736.5,1643.1 L1738.0,1644.3 L1739.5,1645.2 L1741.0,1645.6 L1742.5,1646.8 L1744.0,1648.1 L1745.5,1650.7 L1747.0,1652.7 L1748.5,1654.7 L1750.0,1655.3 L1751.5,1655.9 L1753.0,1656.2 L1754.5,1657.5 L1756.0,1659.0 L1757.5,1660.3 L1759.0,1661.2 L1760.5,1662.3 L1762.0,1663.9 L1763.5,1665.3 L1765.0,1666.3 L1766.5,1667.5 L1768.0,1668.3 L1769.5,1668.9 L1771.0,1668.8 L1772.5,1669.5 L1774.0,1670.3 L1775.5,1671.3 L1777.0,1671.7 L1778.5,1672.1 L1780.0,1672.6 L1781.5,1672.9 L1783.0,1672.9 L1784.5,1673.1 L1786.0,1673.7 L1787.5,1674.2 L1789.0,1674.3 L1790.5,1674.4 L1792.0,1674.9 L1793.5,1675.8 L1795.0,1676.6 L1796.5,1677.3 L1798.0,1677.9 L1799.5,1678.4 L1801.0,1678.2 L1802.5,1678.1 L1804.0,1678.1 L1805.5,1678.8 L1807.0,1679.2 L1808.5,1679.5 L1810.0,1679.7 L1811.5,1680.2 L1813.0,1680.7 L1814.5,1680.9 L1816.0,1681.4 L1817.5,1681.6 L1819.0,1682.7 L1820.5,1683.8 L1822.0,1685.1 L1823.5,1685.5 L1825.0,1685.2 L1826.5,1684.9 L1828.0,1685.1 L1829.5,1685.6 L1831.0,1685.8 L1832.5,1685.7 L1834.0,1685.7 L1835.5,1685.4 L1837.0,1684.7 L1838.5,1683.7 L1840.0,1683.4 L1841.5,1683.5 L1843.0,1684.2 L1844.5,1684.4 L1846.0,1684.8 L1847.5,1684.7 L1849.0,1684.9 L1850.5,1684.6 L1852.0,1685.0 L1853.5,1685.2 L1855.0,1685.8 L1856.5,1686.1 L1858.0,1685.8 L1859.5,1684.8 L1861.0,1683.2 L1862.5,1682.4 L1864.0,1682.3 L1865.5,1683.7 L1867.0,1684.2 L1868.5,1684.7 L1870.0,1684.2 L1871.5,1684.4 L1873.0,1683.7 L1874.5,1683.2 L1876.0,1682.5 L1877.5,1683.0 L1879.0,1683.3 L1880.5,1683.4 L1882.0,1683.1 L1883.5,1682.7 L1885.0,1682.7 L1886.5,1682.2 L1888.0,1682.2 L1889.5,1681.9 L1891.0,1682.5 L1892.5,1682.5 L1894.0,1682.7 L1895.5,1682.1 L1897.0,1681.7 L1898.5,1681.4 L1900.0,1681.1 L1901.5,1681.0 L1903.0,1681.0 L1904.5,1681.2 L1906.0,1681.7 L1907.5,1682.0 L1909.0,1682.4 L1910.5,1682.1 L1912.0,1681.8 L1913.5,1681.4 L1915.0,1681.7 L1916.5,1682.2 L1918.0,1682.6 L1919.5,1682.2 L1921.0,1681.6 L1922.5,1680.8 L1924.0,1680.7 L1925.5,1680.3 L1927.0,1680.0 L1928.5,1679.5 L1930.0,1679.9 L1931.5,1680.6 L1933.0,1681.2 L1934.5,1680.7 L1936.0,1679.7 L1937.5,1678.8 L1939.0,1678.4 L1940.5,1678.9 L1942.0,1679.1 L1943.5,1679.4 L1945.0,1678.9 L1946.5,1678.8 L1948.0,1678.6 L1949.5,1678.5 L1951.0,1678.2 L1952.5,1678.2 L1954.0,1678.2 L1955.5,1678.1 L1957.0,1677.8 L1958.5,1678.1 L1960.0,1678.2 L1961.5,1678.4 L1963.0,1678.2 L1964.5,1678.1 L1966.0,1678.0 L1967.5,1678.0 L1969.0,1678.2 L1970.5,1678.3 L1972.0,1678.3 L1973.5,1678.1 L1975.0,1677.9 L1976.5,1677.2 L1978.0,1676.4 L1979.5,1675.8 L1981.0,1675.7 L1982.5,1676.2 L1984.0,1676.6 L1985.5,1676.6 L1987.0,1676.2 L1988.5,1676.0 L1990.0,1676.2 L1991.5,1676.4 L1993.0,1676.1 L1994.5,1675.4 L1996.0,1675.1 L1997.5,1675.3 L1999.0,1675.9 L2000.5,1676.0 L2002.0,1675.7 L2003.5,1675.0 L2005.0,1674.4 L2006.5,1674.0 L2008.0,1673.7 L2009.5,1673.3 L2011.0,1672.7 L2012.5,1672.3 L2014.0,1672.5 L2015.5,1673.0 L2017.0,1673.1 L2018.5,1672.6 L2020.0,1672.1 L2021.5,1671.8 L2023.0,1671.9 L2024.5,1671.8 L2026.0,1672.2 L2027.5,1672.7 L2029.0,1673.4 L2030.5,1673.1 L2032.0,1672.8 L2033.5,1672.7 L2035.0,1673.1 L2036.5,1672.9 L2038.0,1672.5 L2039.5,1672.0 L2041.0,1672.5 L2042.5,1672.9 L2044.0,1673.0 L2045.5,1672.7 L2047.0,1672.4 L2048.5,1672.4 L2050.0,1672.1 L2051.5,1671.8 L2053.0,1671.2 L2054.5,1670.8 L2056.0,1670.4 L2057.5,1670.5 L2059.0,1670.9 L2060.5,1671.3 L2062.0,1671.3 L2063.5,1670.8 L2065.0,1670.4 L2066.5,1670.5 L2068.0,1670.5 L2069.5,1670.7 L2071.0,1670.4 L2072.5,1670.5 L2074.0,1670.4 L2075.5,1670.2 L2077.0,1669.6 L2078.5,1668.9 L2080.0,1668.8 L2081.5,1669.0 L2083.0,1669.3 L2084.5,1669.0 L2086.0,1668.8 L2087.5,1668.8 L2089.0,1669.0 L2090.5,1669.4 L2092.0,1669.7 L2093.5,1669.9 L2095.0,1669.3 L2096.5,1668.7 L2098.0,1668.3 L2099.5,1668.2 L2101.0,1667.9 L2102.5,1667.4 L2104.0,1667.0 L2105.5,1667.0 L2107.0,1667.7 L2108.5,1668.2 L2110.0,1668.3 L2111.5,1667.9 L2113.0,1667.7 L2114.5,1667.9 L2116.0,1668.3 L2117.5,1668.8 L2119.0,1668.7 L2120.5,1668.2 L2122.0,1667.3 L2123.5,1666.8 L2125.0,1666.7 L2126.5,1667.4 L2128.0,1667.8 L2129.5,1668.3 L2131.0,1668.0 L2132.5,1667.8 L2134.0,1667.1 L2135.5,1666.7 L2137.0,1666.1 L2138.5,1665.7 L2140.0,1664.9 L2141.5,1664.6 L2143.0,1664.5 L2144.5,1665.1 L2146.0,1665.1 L2147.5,1665.1 L2149.0,1664.8 L2150.5,1664.6 L2152.0,1664.7 L2153.5,1665.1 L2155.0,1665.7 L2156.5,1666.1 L2158.0,1666.4 L2159.5,1666.3 L2161.0,1665.7 L2162.5,1664.6 L2164.0,1664.3 L2165.5,1664.2 L2167.0,1664.5 L2168.5,1664.4 L2170.0,1664.1 L2171.5,1663.8 L2173.0,1663.8 L2174.5,1664.5 L2176.0,1665.2 L2177.5,1665.8 L2179.0,1666.0 L2180.5,1665.8 L2182.0,1665.5 L2183.5,1664.9 L2185.0,1664.9 L2186.5,1665.0 L2188.0,1665.4 L2189.5,1665.3 L2191.0,1665.4 L2192.5,1664.9 L2194.0,1664.4 L2195.5,1663.4 L2197.0,1663.1 L2198.5,1663.1 L2200.0,1663.0 L2201.5,1662.7 L2203.0,1662.8 L2204.5,1663.2 L2206.0,1663.5 L2207.5,1663.2 L2209.0,1662.6 L2210.5,1662.0 L2212.0,1661.8 L2213.5,1662.0 L2215.0,1662.5 L2216.5,1662.7 L2218.0,1662.4 L2219.5,1661.7 L2221.0,1661.4 L2222.5,1661.6 L2224.0,1661.7 L2225.5,1661.7 L2227.0,1661.3 L2228.5,1661.0 L2230.0,1660.5 L2231.5,1660.6 L2233.0,1660.3 L2234.5,1660.8 L2236.0,1661.0 L2237.5,1661.8 L2239.0,1661.9 L2240.5,1662.1 L2242.0,1661.7 L2243.5,1661.4 L2245.0,1661.1 L2246.5,1661.4 L2248.0,1661.5 L2249.5,1661.5 L2251.0,1661.3 L2252.5,1661.4 L2254.0,1661.7 L2255.5,1661.5 L2257.0,1660.8 L2258.5,1659.9 L2260.0,1659.7 L2261.5,1660.0 L2263.0,1660.8 L2264.5,1660.9 L2266.0,1660.6 L2267.5,1660.2 L2269.0,1659.9 L2270.5,1659.8 L2272.0,1659.6 L2273.5,1659.7 L2275.0,1660.1 L2276.5,1660.1 L2278.0,1659.4 L2279.5,1658.8 L2281.0,1658.9 L2282.5,1659.7 L2284.0,1660.1 L2285.5,1660.2 L2287.0,1659.4 L2288.5,1659.2 L2290.0,1658.7 L2291.5,1659.0 L2293.0,1658.9 L2294.5,1659.2 L2296.0,1658.8 L2297.5,1658.0 L2299.0,1657.0 L2300.5,1656.7 L2302.0,1656.9 L2303.5,1657.3 L2305.0,1657.2 L2306.5,1657.3 L2308.0,1657.4 L2309.5,1657.6 L2311.0,1657.6 L2312.5,1657.3 L2314.0,1657.1 L2315.5,1656.7 L2317.0,1656.6 L2318.5,1656.2 L2320.0,1655.5 L2321.5,1654.3 L2323.0,1653.5 L2324.5,1653.3 L2326.0,1653.6 L2327.5,1654.1 L2329.0,1654.5 L2330.5,1655.3 L2332.0,1655.2 L2333.5,1654.9 L2335.0,1654.1 L2336.5,1653.9 L2338.0,1654.2 L2339.5,1654.1 L2341.0,1653.4 L2342.5,1652.1 L2344.0,1651.5 L2345.5,1651.5 L2347.0,1652.4 L2348.5,1653.1 L2350.0,1653.7 L2351.5,1653.4 L2353.0,1653.1 L2354.5,1652.8 L2356.0,1652.7 L2357.5,1652.7 L2359.0,1652.6 L2360.5,1653.5 L2362.0,1654.1 L2363.5,1654.3 L2365.0,1653.1 L2366.5,1652.2 L2368.0,1652.0 L2369.5,1653.0 L2371.0,1654.2 L2372.5,1655.2 L2373.8,1656.0" fill="none" stroke="#f00" stroke-width="3.4" stroke-linejoin="round" stroke-linecap="round" />
<path d="M1336.0,1656.1 L1337.5,1655.7 L1339.0,1655.2 L1340.5,1654.4 L1342.0,1654.6 L1343.5,1654.8 L1345.0,1655.9 L1346.5,1656.4 L1348.0,1656.8 L1349.5,1656.4 L1351.0,1655.9 L1352.5,1655.6 L1354.0,1655.6 L1355.5,1655.7 L1357.0,1655.3 L1358.5,1654.9 L1360.0,1654.4 L1361.5,1654.5 L1363.0,1654.6 L1364.5,1654.8 L1366.0,1654.6 L1367.5,1654.4 L1369.0,1654.0 L1370.5,1654.0 L1372.0,1654.0 L1373.5,1654.4 L1375.0,1654.5 L1376.5,1654.8 L1378.0,1654.9 L1379.5,1654.7 L1381.0,1653.8 L1382.5,1653.3 L1384.0,1653.8 L1385.5,1654.6 L1387.0,1654.8 L1388.5,1654.0 L1390.0,1653.4 L1391.5,1652.6 L1393.0,1652.4 L1394.5,1651.9 L1396.0,1652.3 L1397.5,1652.4 L1399.0,1653.0 L1400.5,1653.3 L1402.0,1653.6 L1403.5,1653.0 L1405.0,1652.2 L1406.5,1651.6 L1408.0,1651.3 L1409.5,1650.8 L1411.0,1650.4 L1412.5,1649.8 L1414.0,1649.0 L1415.5,1648.5 L1417.0,1648.4 L1418.5,1649.0 L1420.0,1649.3 L1421.5,1649.6 L1423.0,1649.4 L1424.5,1649.3 L1426.0,1648.9 L1427.5,1648.6 L1429.0,1648.3 L1430.5,1648.3 L1432.0,1649.1 L1433.5,1649.7 L1435.0,1650.3 L1436.5,1650.0 L1438.0,1649.7 L1439.5,1649.6 L1441.0,1650.5 L1442.5,1652.5 L1444.0,1654.2 L1445.5,1655.2 L1447.0,1655.3 L1448.5,1655.7 L1450.0,1655.8 L1451.5,1655.8 L1453.0,1655.5 L1454.5,1655.2 L1456.0,1654.6 L1457.5,1653.7 L1459.0,1653.5 L1460.5,1653.2 L1462.0,1653.3 L1463.5,1652.9 L1465.0,1653.0 L1466.5,1652.4 L1468.0,1651.9 L1469.5,1650.8 L1471.0,1650.0 L1472.5,1649.0 L1474.0,1648.2 L1475.5,1647.6 L1477.0,1647.2 L1478.5,1646.9 L1480.0,1646.6 L1481.5,1646.5 L1483.0,1646.8 L1484.5,1646.8 L1486.0,1646.8 L1487.5,1646.7 L1489.0,1647.1 L1490.5,1647.1 L1492.0,1647.1 L1493.5,1646.9 L1495.0,1646.8 L1496.5,1646.9 L1498.0,1646.6 L1499.5,1646.1 L1501.0,1645.4 L1502.5,1645.7 L1504.0,1646.4 L1505.5,1647.7 L1507.0,1648.1 L1508.5,1648.2 L1510.0,1647.5 L1511.5,1647.0 L1513.0,1646.7 L1514.5,1647.1 L1516.0,1647.4 L1517.5,1647.2 L1519.0,1646.6 L1520.5,1646.2 L1522.0,1646.4 L1523.5,1646.1 L1525.0,1646.1 L1526.5,1645.8 L1528.0,1646.3 L1529.5,1646.5 L1531.0,1646.3 L1532.5,1645.6 L1534.0,1644.9 L1535.5,1644.5 L1537.0,1644.4 L1538.5,1644.4 L1540.0,1643.7 L1541.5,1642.5 L1543.0,1641.2 L1544.5,1640.4 L1546.0,1639.8 L1547.5,1639.2 L1549.0,1638.7 L1550.5,1638.4 L1552.0,1637.9 L1553.5,1636.7 L1555.0,1635.5 L1556.5,1634.0 L1558.0,1632.3 L1559.5,1630.4 L1561.0,1628.5 L1562.5,1626.7 L1564.0,1624.1 L1565.5,1621.6 L1567.0,1618.6 L1568.5,1615.8 L1570.0,1612.2 L1571.5,1607.9 L1573.0,1603.1 L1574.5,1597.6 L1576.0,1591.6 L1577.5,1583.4 L1579.0,1574.0 L1580.5,1563.7 L1582.0,1553.6 L1583.5,1543.7 L1585.0,1534.1 L1586.5,1524.9 L1588.0,1515.6 L1589.5,1506.5 L1591.0,1496.1 L1592.5,1484.5 L1594.0,1470.9 L1595.5,1456.5 L1597.0,1441.3 L1598.5,1425.2 L1600.0,1407.3 L1601.5,1388.0 L1603.0,1368.8 L1604.5,1349.8 L1606.0,1330.7 L1607.5,1310.6 L1609.0,1291.2 L1610.5,1272.5 L1612.0,1253.4 L1613.5,1234.2 L1615.0,1214.4 L1616.5,1193.5 L1618.0,1175.4 L1619.5,1160.6 L1621.0,1146.4 L1622.5,1132.6 L1624.0,1120.2 L1625.5,1108.1 L1627.0,1096.7 L1628.5,1087.0 L1630.0,1079.9 L1631.5,1074.1 L1633.0,1069.4 L1634.5,1066.8 L1636.0,1065.1 L1637.5,1065.4 L1639.0,1065.9 L1640.5,1066.8 L1642.0,1070.2 L1643.5,1075.7 L1645.0,1082.1 L1646.5,1092.0 L1648.0,1102.3 L1649.5,1112.5 L1651.0,1123.4 L1652.5,1133.9 L1654.0,1143.6 L1655.5,1153.0 L1657.0,1162.6 L1658.5,1172.2 L1660.0,1182.0 L1661.5,1192.4 L1663.0,1203.5 L1664.5,1214.0 L1666.0,1222.8 L1667.5,1230.9 L1669.0,1239.6 L1670.5,1250.2 L1672.0,1261.5 L1673.5,1271.8 L1675.0,1281.0 L1676.5,1289.7 L1678.0,1299.0 L1679.5,1309.5 L1681.0,1320.7 L1682.5,1328.8 L1684.0,1336.1 L1685.5,1342.0 L1687.0,1346.8 L1688.5,1351.0 L1690.0,1354.2 L1691.5,1356.9 L1693.0,1359.0 L1694.5,1360.9 L1696.0,1362.8 L1697.5,1364.8 L1699.0,1367.3 L1700.5,1370.2 L1702.0,1374.4 L1703.5,1379.1 L1705.0,1384.1 L1706.5,1388.5 L1708.0,1393.0 L1709.5,1397.1 L1711.0,1400.9 L1712.5,1403.5 L1714.0,1405.5 L1715.5,1407.1 L1717.0,1409.3 L1718.5,1412.1 L1720.0,1415.4 L1721.5,1419.0 L1723.0,1423.0 L1724.5,1427.3 L1726.0,1432.3 L1727.5,1438.3 L1729.0,1444.9 L1730.5,1451.8 L1732.0,1458.0 L1733.5,1464.5 L1735.0,1470.6 L1736.5,1477.3 L1738.0,1483.4 L1739.5,1489.7 L1741.0,1496.1 L1742.5,1502.6 L1744.0,1508.8 L1745.5,1514.7 L1747.0,1520.3 L1748.5,1525.4 L1750.0,1530.2 L1751.5,1535.5 L1753.0,1541.7 L1754.5,1548.2 L1756.0,1554.3 L1757.5,1559.7 L1759.0,1564.7 L1760.5,1568.9 L1762.0,1572.7 L1763.5,1576.1 L1765.0,1580.0 L1766.5,1584.5 L1768.0,1588.5 L1769.5,1591.6 L1771.0,1594.4 L1772.5,1597.5 L1774.0,1601.0 L1775.5,1604.3 L1777.0,1607.4 L1778.5,1610.5 L1780.0,1613.3 L1781.5,1615.6 L1783.0,1617.2 L1784.5,1618.5 L1786.0,1619.3 L1787.5,1620.4 L1789.0,1622.1 L1790.5,1624.2 L1792.0,1625.6 L1793.5,1626.3 L1795.0,1627.0 L1796.5,1628.1 L1798.0,1629.7 L1799.5,1631.0 L1801.0,1632.1 L1802.5,1633.0 L1804.0,1633.6 L1805.5,1634.5 L1807.0,1635.7 L1808.5,1637.5 L1810.0,1639.1 L1811.5,1640.3 L1813.0,1640.7 L1814.5,1641.1 L1816.0,1641.7 L1817.5,1642.3 L1819.0,1642.5 L1820.5,1642.6 L1822.0,1642.9 L1823.5,1643.6 L1825.0,1644.1 L1826.5,1644.5 L1828.0,1644.7 L1829.5,1645.5 L1831.0,1646.0 L1832.5,1646.5 L1834.0,1646.3 L1835.5,1646.4 L1837.0,1646.7 L1838.5,1646.9 L1840.0,1646.6 L1841.5,1646.6 L1843.0,1646.6 L1844.5,1647.5 L1846.0,1647.9 L1847.5,1648.6 L1849.0,1648.9 L1850.5,1649.5 L1852.0,1649.6 L1853.5,1649.6 L1855.0,1649.5 L1856.5,1649.1 L1858.0,1649.0 L1859.5,1648.9 L1861.0,1649.4 L1862.5,1650.2 L1864.0,1650.8 L1865.5,1651.1 L1867.0,1650.8 L1868.5,1650.9 L1870.0,1651.1 L1871.5,1651.8 L1873.0,1652.5 L1874.5,1652.6 L1876.0,1652.4 L1877.5,1651.8 L1879.0,1651.2 L1880.5,1650.8 L1882.0,1650.8 L1883.5,1651.4 L1885.0,1652.2 L1886.5,1652.5 L1888.0,1652.0 L1889.5,1651.4 L1891.0,1651.1 L1892.5,1651.4 L1894.0,1651.5 L1895.5,1651.4 L1897.0,1651.1 L1898.5,1651.5 L1900.0,1651.9 L1901.5,1652.3 L1903.0,1651.8 L1904.5,1651.5 L1906.0,1650.9 L1907.5,1650.6 L1909.0,1650.3 L1910.5,1650.0 L1912.0,1650.2 L1913.5,1650.5 L1915.0,1650.7 L1916.5,1650.1 L1918.0,1649.3 L1919.5,1648.4 L1921.0,1648.0 L1922.5,1647.7 L1924.0,1648.3 L1925.5,1649.2 L1927.0,1649.9 L1928.5,1649.8 L1930.0,1649.1 L1931.5,1648.2 L1933.0,1647.8 L1934.5,1647.8 L1936.0,1648.2 L1937.5,1648.4 L1939.0,1648.3 L1940.5,1648.1 L1942.0,1647.4 L1943.5,1646.8 L1945.0,1646.3 L1946.5,1646.4 L1948.0,1646.4 L1949.5,1646.1 L1951.0,1645.6 L1952.5,1645.5 L1954.0,1645.8 L1955.5,1646.4 L1957.0,1646.7 L1958.5,1646.7 L1960.0,1647.0 L1961.5,1647.1 L1963.0,1647.2 L1964.5,1646.4 L1966.0,1645.9 L1967.5,1645.5 L1969.0,1645.3 L1970.5,1645.1 L1972.0,1645.0 L1973.5,1645.4 L1975.0,1645.8 L1976.5,1645.8 L1978.0,1645.7 L1979.5,1645.4 L1981.0,1645.6 L1982.5,1645.2 L1984.0,1645.1 L1985.5,1644.7 L1987.0,1645.2 L1988.5,1645.5 L1990.0,1646.0 L1991.5,1645.6 L1993.0,1645.7 L1994.5,1645.4 L1996.0,1645.4 L1997.5,1644.4 L1999.0,1643.4 L2000.5,1642.4 L2002.0,1642.6 L2003.5,1643.4 L2005.0,1643.9 L2006.5,1644.0 L2008.0,1643.6 L2009.5,1643.4 L2011.0,1643.2 L2012.5,1643.5 L2014.0,1643.6 L2015.5,1643.5 L2017.0,1643.0 L2018.5,1642.6 L2020.0,1642.4 L2021.5,1642.1 L2023.0,1641.9 L2024.5,1641.6 L2026.0,1641.4 L2027.5,1641.3 L2029.0,1641.8 L2030.5,1642.8 L2032.0,1643.5 L2033.5,1643.3 L2035.0,1642.4 L2036.5,1641.9 L2038.0,1642.0 L2039.5,1642.0 L2041.0,1641.2 L2042.5,1640.1 L2044.0,1639.5 L2045.5,1639.5 L2047.0,1639.9 L2048.5,1639.7 L2050.0,1639.7 L2051.5,1639.4 L2053.0,1639.6 L2054.5,1639.6 L2056.0,1640.0 L2057.5,1639.9 L2059.0,1639.7 L2060.5,1638.9 L2062.0,1638.4 L2063.5,1638.2 L2065.0,1638.3 L2066.5,1638.2 L2068.0,1638.2 L2069.5,1638.4 L2071.0,1638.9 L2072.5,1639.3 L2074.0,1639.2 L2075.5,1639.0 L2077.0,1638.5 L2078.5,1638.0 L2080.0,1637.7 L2081.5,1637.5 L2083.0,1637.7 L2084.5,1637.6 L2086.0,1637.5 L2087.5,1637.3 L2089.0,1637.3 L2090.5,1637.5 L2092.0,1637.1 L2093.5,1636.5 L2095.0,1635.8 L2096.5,1636.0 L2098.0,1635.9 L2099.5,1635.7 L2101.0,1635.1 L2102.5,1635.1 L2104.0,1635.2 L2105.5,1635.3 L2107.0,1635.1 L2108.5,1635.0 L2110.0,1634.7 L2111.5,1634.8 L2113.0,1634.9 L2114.5,1635.2 L2116.0,1635.5 L2117.5,1635.6 L2119.0,1635.4 L2120.5,1635.1 L2122.0,1634.4 L2123.5,1634.1 L2125.0,1634.0 L2126.5,1634.1 L2128.0,1633.9 L2129.5,1633.8 L2131.0,1633.9 L2132.5,1634.2 L2134.0,1634.7 L2135.5,1634.7 L2137.0,1634.2 L2138.5,1632.8 L2140.0,1631.8 L2141.5,1631.5 L2143.0,1631.6 L2144.5,1631.9 L2146.0,1631.7 L2147.5,1631.6 L2149.0,1631.2 L2150.5,1630.6 L2152.0,1630.4 L2153.5,1630.8 L2155.0,1631.6 L2156.5,1632.3 L2158.0,1632.8 L2159.5,1632.8 L2161.0,1632.2 L2162.5,1631.4 L2164.0,1631.1 L2165.5,1631.6 L2167.0,1632.2 L2168.5,1632.2 L2170.0,1631.6 L2171.5,1630.9 L2173.0,1631.0 L2174.5,1630.9 L2176.0,1630.6 L2177.5,1629.7 L2179.0,1629.4 L2180.5,1629.4 L2182.0,1629.6 L2183.5,1629.5 L2185.0,1629.7 L2186.5,1629.7 L2188.0,1629.8 L2189.5,1629.1 L2191.0,1628.6 L2192.5,1628.0 L2194.0,1628.3 L2195.5,1628.5 L2197.0,1629.1 L2198.5,1629.1 L2200.0,1628.9 L2201.5,1628.2 L2203.0,1627.9 L2204.5,1628.0 L2206.0,1627.9 L2207.5,1627.7 L2209.0,1627.7 L2210.5,1628.3 L2212.0,1628.7 L2213.5,1628.7 L2215.0,1628.4 L2216.5,1628.4 L2218.0,1628.5 L2219.5,1627.9 L2221.0,1627.1 L2222.5,1626.8 L2224.0,1627.1 L2225.5,1627.1 L2227.0,1626.9 L2228.5,1626.6 L2230.0,1626.9 L2231.5,1626.8 L2233.0,1626.5 L2234.5,1625.5 L2236.0,1625.0 L2237.5,1624.7 L2239.0,1624.9 L2240.5,1625.0 L2242.0,1624.9 L2243.5,1625.0 L2245.0,1625.3 L2246.5,1626.0 L2248.0,1626.4 L2249.5,1626.4 L2251.0,1625.8 L2252.5,1624.8 L2254.0,1624.1 L2255.5,1624.2 L2257.0,1624.4 L2258.5,1624.7 L2260.0,1624.2 L2261.5,1624.1 L2263.0,1624.2 L2264.5,1624.8 L2266.0,1625.1 L2267.5,1625.2 L2269.0,1625.0 L2270.5,1624.8 L2272.0,1623.9 L2273.5,1622.9 L2275.0,1622.2 L2276.5,1622.2 L2278.0,1622.3 L2279.5,1622.3 L2281.0,1621.7 L2282.5,1621.4 L2284.0,1620.9 L2285.5,1621.0 L2287.0,1620.7 L2288.5,1620.8 L2290.0,1620.6 L2291.5,1620.8 L2293.0,1621.3 L2294.5,1621.5 L2296.0,1621.2 L2297.5,1619.7 L2299.0,1618.7 L2300.5,1618.2 L2302.0,1618.9 L2303.5,1619.1 L2305.0,1619.4 L2306.5,1619.0 L2308.0,1618.9 L2309.5,1618.5 L2311.0,1618.7 L2312.5,1618.8 L2314.0,1619.0 L2315.5,1619.3 L2317.0,1619.2 L2318.5,1618.3 L2320.0,1617.1 L2321.5,1616.7 L2323.0,1617.3 L2324.5,1617.9 L2326.0,1617.9 L2327.5,1617.0 L2329.0,1616.2 L2330.5,1615.6 L2332.0,1615.5 L2333.5,1615.7 L2335.0,1615.8 L2336.5,1616.5 L2338.0,1616.9 L2339.5,1616.7 L2341.0,1615.8 L2342.5,1615.0 L2344.0,1614.7 L2345.5,1614.5 L2347.0,1614.3 L2348.5,1614.8 L2350.0,1615.7 L2351.5,1617.0 L2353.0,1617.2 L2354.5,1617.2 L2356.0,1616.7 L2357.5,1617.0 L2359.0,1616.8 L2360.5,1617.0 L2362.0,1616.4 L2363.5,1616.4 L2365.0,1616.1 L2366.5,1616.3 L2368.0,1616.3 L2369.5,1616.5 L2371.0,1616.8 L2372.5,1617.0 L2373.8,1617.4" fill="none" stroke="#000" stroke-width="3.4" stroke-linejoin="round" stroke-linecap="round" />
<line x1="1335.3" y1="1771.0" x2="1335.3" y2="1753.0" stroke="#111" stroke-width="3.4"/>
<line x1="1595.3" y1="1771.0" x2="1595.3" y2="1753.0" stroke="#111" stroke-width="3.4"/>
<line x1="1855.3" y1="1771.0" x2="1855.3" y2="1753.0" stroke="#111" stroke-width="3.4"/>
<line x1="2115.3" y1="1771.0" x2="2115.3" y2="1753.0" stroke="#111" stroke-width="3.4"/>
<line x1="2375.3" y1="1771.0" x2="2375.3" y2="1753.0" stroke="#111" stroke-width="3.4"/>
<line x1="1465.3" y1="1771.0" x2="1465.3" y2="1760.5" stroke="#111" stroke-width="3.4"/>
<line x1="1725.3" y1="1771.0" x2="1725.3" y2="1760.5" stroke="#111" stroke-width="3.4"/>
<line x1="1985.3" y1="1771.0" x2="1985.3" y2="1760.5" stroke="#111" stroke-width="3.4"/>
<line x1="2245.3" y1="1771.0" x2="2245.3" y2="1760.5" stroke="#111" stroke-width="3.4"/>
<text x="1335.3" y="1823.2" font-family="'Liberation Sans', Arial, Helvetica, sans-serif" font-size="43.5" text-anchor="middle" fill="#111" >525</text>
<text x="1595.3" y="1823.2" font-family="'Liberation Sans', Arial, Helvetica, sans-serif" font-size="43.5" text-anchor="middle" fill="#111" >530</text>
<text x="1855.3" y="1823.2" font-family="'Liberation Sans', Arial, Helvetica, sans-serif" font-size="43.5" text-anchor="middle" fill="#111" >535</text>
<text x="2115.3" y="1823.2" font-family="'Liberation Sans', Arial, Helvetica, sans-serif" font-size="43.5" text-anchor="middle" fill="#111" >540</text>
<text x="2375.3" y="1823.2" font-family="'Liberation Sans', Arial, Helvetica, sans-serif" font-size="43.5" text-anchor="middle" fill="#111" >545</text>
<line x1="1798.8" y1="1360.4" x2="1884.4" y2="1360.4" stroke="#000" stroke-width="4"/>
<line x1="1798.8" y1="1407.3" x2="1884.4" y2="1407.3" stroke="#f00" stroke-width="4.5"/>
<line x1="1798.8" y1="1454.2" x2="1884.4" y2="1454.2" stroke="#00ee00" stroke-width="4.5"/>
<text x="1895.6" y="1373.1" font-family="'Liberation Sans', Arial, Helvetica, sans-serif" font-size="37" text-anchor="start" font-weight="bold" fill="#111" >ZTO</text>
<text x="1895.6" y="1420.0" font-family="'Liberation Sans', Arial, Helvetica, sans-serif" font-size="37" text-anchor="start" font-weight="bold" fill="#111" >ZTO/BiOBr</text>
<text x="1895.6" y="1466.9" font-family="'Liberation Sans', Arial, Helvetica, sans-serif" font-size="37" text-anchor="start" font-weight="bold" fill="#111" >BiOBr</text>
<text x="1462.8" y="1160.2" font-family="'Liberation Sans', Arial, Helvetica, sans-serif" font-size="37.2" text-anchor="start" fill="#111" >O 1s</text>
<text x="2212.1" y="1143.0" font-family="'Liberation Serif', 'Times New Roman', serif" font-size="65" text-anchor="start" fill="#111" >(d)</text>
<text transform="translate(1304.7,1532.3) rotate(-90)" font-family="'Liberation Sans', Arial, Helvetica, sans-serif" font-size="51" fill="#111">Counts (a.u)</text>
<text x="1678.3" y="1879.5" font-family="'Liberation Sans', Arial, Helvetica, sans-serif" font-size="51.4" text-anchor="start" fill="#111" >Binding energy (eV)</text>
<rect x="1334.5" y="1002.4" width="1040.5" height="768.6" fill="none" stroke="#111" stroke-width="5.5"/>
<line x1="399.1" y1="2011.2" x2="399.1" y2="2652.1" stroke="#333" stroke-width="3.5" stroke-dasharray="14,13.8"/>
<line x1="427.4" y1="2215.2" x2="427.4" y2="2665.7" stroke="#f66" stroke-width="3.5" stroke-dasharray="11,8.4"/>
<line x1="836.0" y1="2090.0" x2="836.0" y2="2686.7" stroke="#333" stroke-width="3.5" stroke-dasharray="14,13.8"/>
<line x1="865.0" y1="2256.7" x2="865.0" y2="2708.3" stroke="#f66" stroke-width="3.5" stroke-dasharray="11,8.4"/>
<path d="M97.0,2662.7 L98.5,2662.7 L100.0,2662.7 L101.5,2662.6 L103.0,2662.6 L104.5,2662.6 L106.0,2662.6 L107.5,2662.6 L109.0,2662.6 L110.5,2662.5 L112.0,2662.5 L113.5,2662.5 L115.0,2662.5 L116.5,2662.4 L118.0,2662.4 L119.5,2662.4 L121.0,2662.4 L122.5,2662.3 L124.0,2662.3 L125.5,2662.3 L127.0,2662.3 L128.5,2662.2 L130.0,2662.2 L131.5,2662.2 L133.0,2662.1 L134.5,2662.1 L136.0,2662.1 L137.5,2662.0 L139.0,2662.0 L140.5,2662.0 L142.0,2662.0 L143.5,2661.9 L145.0,2661.9 L146.5,2661.9 L148.0,2661.8 L149.5,2661.8 L151.0,2661.7 L152.5,2661.7 L154.0,2661.7 L155.5,2661.6 L157.0,2661.6 L158.5,2661.6 L160.0,2661.5 L161.5,2661.5 L163.0,2661.5 L164.5,2661.4 L166.0,2661.4 L167.5,2661.3 L169.0,2661.3 L170.5,2661.3 L172.0,2661.2 L173.5,2661.2 L175.0,2661.1 L176.5,2661.1 L178.0,2661.1 L179.5,2661.0 L181.0,2661.0 L182.5,2660.9 L184.0,2660.9 L185.5,2660.9 L187.0,2660.8 L188.5,2660.8 L190.0,2660.7 L191.5,2660.7 L193.0,2660.6 L194.5,2660.6 L196.0,2660.5 L197.5,2660.5 L199.0,2660.4 L200.5,2660.4 L202.0,2660.3 L203.5,2660.3 L205.0,2660.2 L206.5,2660.2 L208.0,2660.1 L209.5,2660.0 L211.0,2660.0 L212.5,2659.9 L214.0,2659.9 L215.5,2659.8 L217.0,2659.8 L218.5,2659.7 L220.0,2659.6 L221.5,2659.6 L223.0,2659.5 L224.5,2659.5 L226.0,2659.4 L227.5,2659.3 L229.0,2659.3 L230.5,2659.2 L232.0,2659.1 L233.5,2659.1 L235.0,2659.0 L236.5,2658.9 L238.0,2658.9 L239.5,2658.8 L241.0,2658.7 L242.5,2658.7 L244.0,2658.6 L245.5,2658.6 L247.0,2658.5 L248.5,2658.4 L250.0,2658.4 L251.5,2658.3 L253.0,2658.2 L254.5,2658.2 L256.0,2658.1 L257.5,2658.0 L259.0,2658.0 L260.5,2657.9 L262.0,2657.9 L263.5,2657.8 L265.0,2657.7 L266.5,2657.7 L268.0,2657.6 L269.5,2657.5 L271.0,2657.5 L272.5,2657.4 L274.0,2657.3 L275.5,2657.3 L277.0,2657.2 L278.5,2657.1 L280.0,2657.1 L281.5,2657.0 L283.0,2656.9 L284.5,2656.8 L286.0,2656.7 L287.5,2656.7 L289.0,2656.6 L290.5,2656.5 L292.0,2656.4 L293.5,2656.3 L295.0,2656.2 L296.5,2656.1 L298.0,2656.0 L299.5,2655.9 L301.0,2655.8 L302.5,2655.6 L304.0,2655.5 L305.5,2655.4 L307.0,2655.2 L308.5,2655.1 L310.0,2654.9 L311.5,2654.7 L313.0,2654.5 L314.5,2654.3 L316.0,2654.1 L317.5,2653.9 L319.0,2653.7 L320.5,2653.4 L322.0,2653.2 L323.5,2652.9 L325.0,2652.6 L326.5,2652.3 L328.0,2651.9 L329.5,2651.5 L331.0,2651.1 L332.5,2650.6 L334.0,2650.0 L335.5,2649.4 L337.0,2648.8 L338.5,2648.1 L340.0,2647.3 L341.5,2646.5 L343.0,2645.7 L344.5,2644.8 L346.0,2643.7 L347.5,2642.5 L349.0,2641.1 L350.5,2639.6 L352.0,2638.0 L353.5,2636.3 L355.0,2634.6 L356.5,2632.9 L358.0,2631.1 L359.5,2629.4 L361.0,2627.7 L362.5,2625.9 L364.0,2624.1 L365.5,2622.2 L367.0,2620.3 L368.5,2618.3 L370.0,2616.3 L371.5,2614.3 L373.0,2612.2 L374.5,2610.2 L376.0,2608.1 L377.5,2606.1 L379.0,2604.0 L380.5,2601.9 L382.0,2599.7 L383.5,2597.6 L385.0,2595.4 L386.5,2593.2 L388.0,2591.0 L389.5,2588.7 L391.0,2586.5 L392.5,2584.3 L394.0,2582.1 L395.5,2579.9 L397.0,2577.7 L398.5,2575.5 L400.0,2573.3 L401.5,2571.0 L403.0,2568.7 L404.5,2566.4 L406.0,2564.0 L407.5,2561.8 L409.0,2559.6 L410.5,2557.5 L412.0,2555.6 L413.5,2553.8 L415.0,2552.1 L416.5,2550.5 L418.0,2549.0 L419.5,2547.7 L421.0,2546.6 L422.5,2545.7 L424.0,2545.0 L425.5,2544.2 L427.0,2543.6 L428.5,2543.1 L430.0,2542.8 L431.5,2542.7 L433.0,2542.8 L434.5,2543.0 L436.0,2543.4 L437.5,2543.8 L439.0,2544.2 L440.5,2544.6 L442.0,2545.2 L443.5,2545.8 L445.0,2546.5 L446.5,2547.3 L448.0,2548.2 L449.5,2549.2 L451.0,2550.4 L452.5,2551.7 L454.0,2553.2 L455.5,2554.8 L457.0,2556.6 L458.5,2558.5 L460.0,2560.4 L461.5,2562.4 L463.0,2564.5 L464.5,2566.5 L466.0,2568.6 L467.5,2570.7 L469.0,2572.8 L470.5,2574.8 L472.0,2576.7 L473.5,2578.7 L475.0,2580.8 L476.5,2582.9 L478.0,2585.0 L479.5,2587.1 L481.0,2589.3 L482.5,2591.5 L484.0,2593.7 L485.5,2595.9 L487.0,2598.0 L488.5,2600.2 L490.0,2602.3 L491.5,2604.3 L493.0,2606.4 L494.5,2608.3 L496.0,2610.3 L497.5,2612.3 L499.0,2614.3 L500.5,2616.3 L502.0,2618.3 L503.5,2620.3 L505.0,2622.3 L506.5,2624.2 L508.0,2626.0 L509.5,2627.8 L511.0,2629.5 L512.5,2631.1 L514.0,2632.6 L515.5,2634.0 L517.0,2635.3 L518.5,2636.5 L520.0,2637.6 L521.5,2638.7 L523.0,2639.8 L524.5,2640.8 L526.0,2641.8 L527.5,2642.8 L529.0,2643.7 L530.5,2644.5 L532.0,2645.4 L533.5,2646.2 L535.0,2646.9 L536.5,2647.6 L538.0,2648.2 L539.5,2648.8 L541.0,2649.4 L542.5,2649.9 L544.0,2650.5 L545.5,2651.0 L547.0,2651.6 L548.5,2652.1 L550.0,2652.6 L551.5,2653.1 L553.0,2653.6 L554.5,2654.1 L556.0,2654.5 L557.5,2654.9 L559.0,2655.3 L560.5,2655.7 L562.0,2656.1 L563.5,2656.4 L565.0,2656.7 L566.5,2657.0 L568.0,2657.3 L569.5,2657.5 L571.0,2657.7 L572.5,2657.9 L574.0,2658.0 L575.5,2658.1 L577.0,2658.2 L578.5,2658.3 L580.0,2658.4 L581.5,2658.5 L583.0,2658.6 L584.5,2658.7 L586.0,2658.8 L587.5,2658.9 L589.0,2659.0 L590.5,2659.1 L592.0,2659.2 L593.5,2659.3 L595.0,2659.3 L596.5,2659.4 L598.0,2659.5 L599.5,2659.6 L601.0,2659.6 L602.5,2659.7 L604.0,2659.7 L605.5,2659.8 L607.0,2659.9 L608.5,2659.9 L610.0,2660.0 L611.5,2660.0 L613.0,2660.0 L614.5,2660.1 L616.0,2660.1 L617.5,2660.2 L619.0,2660.2 L620.5,2660.2 L622.0,2660.2 L623.5,2660.3 L625.0,2660.3 L626.5,2660.3 L628.0,2660.3 L629.5,2660.3 L631.0,2660.3 L632.5,2660.3 L634.0,2660.3 L635.5,2660.3 L637.0,2660.3 L638.5,2660.3 L640.0,2660.2 L641.5,2660.2 L643.0,2660.2 L644.5,2660.2 L646.0,2660.2 L647.5,2660.1 L649.0,2660.1 L650.5,2660.1 L652.0,2660.0 L653.5,2660.0 L655.0,2659.9 L656.5,2659.9 L658.0,2659.8 L659.5,2659.8 L661.0,2659.7 L662.5,2659.7 L664.0,2659.6 L665.5,2659.6 L667.0,2659.5 L668.5,2659.5 L670.0,2659.4 L671.5,2659.3 L673.0,2659.3 L674.5,2659.2 L676.0,2659.2 L677.5,2659.1 L679.0,2659.0 L680.5,2658.9 L682.0,2658.9 L683.5,2658.8 L685.0,2658.7 L686.5,2658.7 L688.0,2658.6 L689.5,2658.5 L691.0,2658.4 L692.5,2658.4 L694.0,2658.3 L695.5,2658.2 L697.0,2658.1 L698.5,2658.1 L700.0,2658.0 L701.5,2657.9 L703.0,2657.8 L704.5,2657.7 L706.0,2657.6 L707.5,2657.5 L709.0,2657.4 L710.5,2657.3 L712.0,2657.2 L713.5,2657.0 L715.0,2656.9 L716.5,2656.8 L718.0,2656.6 L719.5,2656.5 L721.0,2656.3 L722.5,2656.2 L724.0,2656.0 L725.5,2655.9 L727.0,2655.7 L728.5,2655.5 L730.0,2655.4 L731.5,2655.2 L733.0,2655.0 L734.5,2654.8 L736.0,2654.6 L737.5,2654.4 L739.0,2654.2 L740.5,2654.0 L742.0,2653.8 L743.5,2653.6 L745.0,2653.4 L746.5,2653.2 L748.0,2653.0 L749.5,2652.8 L751.0,2652.5 L752.5,2652.3 L754.0,2652.0 L755.5,2651.8 L757.0,2651.5 L758.5,2651.2 L760.0,2650.9 L761.5,2650.6 L763.0,2650.3 L764.5,2650.0 L766.0,2649.7 L767.5,2649.3 L769.0,2648.9 L770.5,2648.5 L772.0,2648.1 L773.5,2647.7 L775.0,2647.2 L776.5,2646.8 L778.0,2646.3 L779.5,2645.8 L781.0,2645.2 L782.5,2644.6 L784.0,2643.9 L785.5,2643.1 L787.0,2642.1 L788.5,2641.1 L790.0,2639.9 L791.5,2638.7 L793.0,2637.5 L794.5,2636.1 L796.0,2634.8 L797.5,2633.4 L799.0,2632.0 L800.5,2630.6 L802.0,2629.3 L803.5,2627.9 L805.0,2626.5 L806.5,2625.1 L808.0,2623.6 L809.5,2622.1 L811.0,2620.6 L812.5,2619.0 L814.0,2617.4 L815.5,2615.7 L817.0,2614.0 L818.5,2612.3 L820.0,2610.5 L821.5,2608.8 L823.0,2606.9 L824.5,2605.0 L826.0,2602.9 L827.5,2600.7 L829.0,2598.4 L830.5,2596.2 L832.0,2594.0 L833.5,2591.8 L835.0,2589.8 L836.5,2588.0 L838.0,2586.2 L839.5,2584.5 L841.0,2582.9 L842.5,2581.2 L844.0,2579.7 L845.5,2578.2 L847.0,2576.9 L848.5,2575.6 L850.0,2574.5 L851.5,2573.4 L853.0,2572.3 L854.5,2571.3 L856.0,2570.3 L857.5,2569.3 L859.0,2568.5 L860.5,2567.8 L862.0,2567.3 L863.5,2566.9 L865.0,2566.7 L866.5,2566.6 L868.0,2566.5 L869.5,2566.5 L871.0,2566.6 L872.5,2566.8 L874.0,2567.0 L875.5,2567.4 L877.0,2567.9 L878.5,2568.5 L880.0,2569.2 L881.5,2570.1 L883.0,2570.9 L884.5,2571.8 L886.0,2572.9 L887.5,2574.1 L889.0,2575.6 L890.5,2577.1 L892.0,2578.7 L893.5,2580.4 L895.0,2582.1 L896.5,2583.8 L898.0,2585.4 L899.5,2587.0 L901.0,2588.6 L902.5,2590.2 L904.0,2591.8 L905.5,2593.5 L907.0,2595.2 L908.5,2596.8 L910.0,2598.5 L911.5,2600.1 L913.0,2601.7 L914.5,2603.3 L916.0,2604.8 L917.5,2606.3 L919.0,2607.8 L920.5,2609.2 L922.0,2610.6 L923.5,2612.0 L925.0,2613.3 L926.5,2614.6 L928.0,2615.9 L929.5,2617.2 L931.0,2618.5 L932.5,2619.8 L934.0,2621.0 L935.5,2622.2 L937.0,2623.4 L938.5,2624.6 L940.0,2625.8 L941.5,2627.0 L943.0,2628.2 L944.5,2629.4 L946.0,2630.6 L947.5,2631.8 L949.0,2633.0 L950.5,2634.1 L952.0,2635.2 L953.5,2636.3 L955.0,2637.3 L956.5,2638.2 L958.0,2639.1 L959.5,2639.9 L961.0,2640.6 L962.5,2641.3 L964.0,2642.0 L965.5,2642.7 L967.0,2643.3 L968.5,2644.0 L970.0,2644.6 L971.5,2645.2 L973.0,2645.9 L974.5,2646.4 L976.0,2647.0 L977.5,2647.5 L979.0,2648.1 L980.5,2648.6 L982.0,2649.0 L983.5,2649.5 L985.0,2649.9 L986.5,2650.3 L988.0,2650.6 L989.5,2651.0 L991.0,2651.3 L992.5,2651.6 L994.0,2651.8 L995.5,2652.1 L997.0,2652.3 L998.5,2652.5 L1000.0,2652.8 L1001.5,2653.0 L1003.0,2653.2 L1004.5,2653.4 L1006.0,2653.6 L1007.5,2653.9 L1009.0,2654.1 L1010.5,2654.3 L1012.0,2654.5 L1013.5,2654.6 L1015.0,2654.8 L1016.5,2655.0 L1018.0,2655.2 L1019.5,2655.3 L1021.0,2655.5 L1022.5,2655.6 L1024.0,2655.8 L1025.5,2655.9 L1027.0,2656.0 L1028.5,2656.1 L1030.0,2656.2 L1031.5,2656.3 L1033.0,2656.4 L1034.5,2656.5 L1036.0,2656.6 L1037.5,2656.6 L1039.0,2656.6 L1040.5,2656.7 L1042.0,2656.7 L1043.5,2656.7 L1045.0,2656.7 L1046.5,2656.7 L1048.0,2656.7 L1049.5,2656.7 L1051.0,2656.7 L1052.5,2656.7 L1054.0,2656.7 L1055.5,2656.7 L1057.0,2656.7 L1058.5,2656.7 L1060.0,2656.7 L1061.5,2656.7 L1063.0,2656.7 L1064.5,2656.7 L1066.0,2656.7 L1067.5,2656.7 L1069.0,2656.7 L1070.5,2656.7 L1072.0,2656.7 L1073.5,2656.6 L1075.0,2656.6 L1076.5,2656.6 L1078.0,2656.6 L1079.5,2656.6 L1081.0,2656.6 L1082.5,2656.6 L1084.0,2656.6 L1085.5,2656.6 L1087.0,2656.5 L1088.5,2656.5 L1090.0,2656.5 L1091.5,2656.5 L1093.0,2656.5 L1094.5,2656.4 L1096.0,2656.4 L1097.5,2656.4 L1099.0,2656.4 L1100.5,2656.3 L1102.0,2656.3 L1103.5,2656.3 L1105.0,2656.3 L1106.5,2656.2 L1108.0,2656.2 L1109.5,2656.2 L1111.0,2656.1 L1112.5,2656.1 L1114.0,2656.0 L1115.5,2656.0 L1117.0,2655.9 L1118.5,2655.9 L1120.0,2655.9 L1121.5,2655.8 L1123.0,2655.7 L1124.5,2655.7 L1126.0,2655.6 L1127.5,2655.6 L1129.0,2655.5 L1130.5,2655.5 L1132.0,2655.4 L1133.5,2655.3 L1135.0,2655.3 L1136.5,2655.2 L1138.0,2655.1 L1139.5,2655.0 L1140.0,2655.0" fill="none" stroke="#f00" stroke-width="3.4" stroke-linejoin="round" stroke-linecap="round" />
<path d="M97.0,2657.6 L98.5,2657.5 L100.0,2657.4 L101.5,2657.3 L103.0,2657.2 L104.5,2657.1 L106.0,2657.0 L107.5,2656.9 L109.0,2656.7 L110.5,2656.6 L112.0,2656.5 L113.5,2656.4 L115.0,2656.3 L116.5,2656.1 L118.0,2656.0 L119.5,2655.9 L121.0,2655.7 L122.5,2655.6 L124.0,2655.5 L125.5,2655.3 L127.0,2655.2 L128.5,2655.1 L130.0,2654.9 L131.5,2654.8 L133.0,2654.6 L134.5,2654.5 L136.0,2654.3 L137.5,2654.2 L139.0,2654.0 L140.5,2653.9 L142.0,2653.7 L143.5,2653.6 L145.0,2653.4 L146.5,2653.3 L148.0,2653.1 L149.5,2652.9 L151.0,2652.8 L152.5,2652.6 L154.0,2652.4 L155.5,2652.2 L157.0,2652.0 L158.5,2651.8 L160.0,2651.6 L161.5,2651.4 L163.0,2651.2 L164.5,2651.0 L166.0,2650.8 L167.5,2650.6 L169.0,2650.4 L170.5,2650.2 L172.0,2650.0 L173.5,2649.8 L175.0,2649.6 L176.5,2649.4 L178.0,2649.3 L179.5,2649.1 L181.0,2649.0 L182.5,2648.8 L184.0,2648.7 L185.5,2648.5 L187.0,2648.4 L188.5,2648.3 L190.0,2648.1 L191.5,2648.0 L193.0,2647.9 L194.5,2647.8 L196.0,2647.7 L197.5,2647.5 L199.0,2647.4 L200.5,2647.3 L202.0,2647.2 L203.5,2647.1 L205.0,2647.0 L206.5,2646.9 L208.0,2646.7 L209.5,2646.6 L211.0,2646.5 L212.5,2646.4 L214.0,2646.3 L215.5,2646.2 L217.0,2646.1 L218.5,2646.0 L220.0,2645.9 L221.5,2645.7 L223.0,2645.6 L224.5,2645.5 L226.0,2645.4 L227.5,2645.3 L229.0,2645.2 L230.5,2645.1 L232.0,2645.0 L233.5,2644.9 L235.0,2644.9 L236.5,2644.8 L238.0,2644.7 L239.5,2644.6 L241.0,2644.5 L242.5,2644.4 L244.0,2644.3 L245.5,2644.2 L247.0,2644.1 L248.5,2644.0 L250.0,2643.8 L251.5,2643.7 L253.0,2643.5 L254.5,2643.4 L256.0,2643.2 L257.5,2643.0 L259.0,2642.8 L260.5,2642.5 L262.0,2642.1 L263.5,2641.7 L265.0,2641.2 L266.5,2640.7 L268.0,2640.1 L269.5,2639.6 L271.0,2639.0 L272.5,2638.4 L274.0,2637.8 L275.5,2637.2 L277.0,2636.6 L278.5,2636.0 L280.0,2635.3 L281.5,2634.6 L283.0,2633.9 L284.5,2633.2 L286.0,2632.4 L287.5,2631.6 L289.0,2630.7 L290.5,2629.8 L292.0,2628.9 L293.5,2627.8 L295.0,2626.7 L296.5,2625.4 L298.0,2624.1 L299.5,2622.6 L301.0,2621.1 L302.5,2619.6 L304.0,2618.0 L305.5,2616.3 L307.0,2614.6 L308.5,2612.7 L310.0,2610.7 L311.5,2608.6 L313.0,2606.3 L314.5,2603.8 L316.0,2601.1 L317.5,2598.1 L319.0,2594.8 L320.5,2591.3 L322.0,2587.4 L323.5,2583.0 L325.0,2577.9 L326.5,2572.2 L328.0,2566.2 L329.5,2560.0 L331.0,2554.0 L332.5,2547.8 L334.0,2541.2 L335.5,2533.5 L337.0,2523.9 L338.5,2511.3 L340.0,2498.1 L341.5,2485.4 L343.0,2472.6 L344.5,2459.7 L346.0,2446.8 L347.5,2434.0 L349.0,2421.2 L350.5,2408.3 L352.0,2395.5 L353.5,2382.6 L355.0,2369.8 L356.5,2356.9 L358.0,2344.1 L359.5,2331.2 L361.0,2318.8 L362.5,2306.4 L364.0,2293.0 L365.5,2277.8 L367.0,2261.0 L368.5,2243.3 L370.0,2225.3 L371.5,2207.8 L373.0,2191.5 L374.5,2176.1 L376.0,2161.1 L377.5,2146.1 L379.0,2132.3 L380.5,2119.6 L382.0,2107.7 L383.5,2096.2 L385.0,2085.7 L386.5,2076.7 L388.0,2068.5 L389.5,2061.6 L391.0,2056.4 L392.5,2052.1 L394.0,2048.9 L395.5,2046.4 L397.0,2044.3 L398.5,2043.5 L400.0,2044.7 L401.5,2046.9 L403.0,2049.5 L404.5,2053.1 L406.0,2057.6 L407.5,2063.2 L409.0,2070.2 L410.5,2078.3 L412.0,2087.1 L413.5,2097.1 L415.0,2108.3 L416.5,2119.2 L418.0,2129.4 L419.5,2140.3 L421.0,2153.5 L422.5,2168.8 L424.0,2184.1 L425.5,2199.4 L427.0,2214.5 L428.5,2229.1 L430.0,2242.3 L431.5,2254.9 L433.0,2266.9 L434.5,2278.7 L436.0,2290.3 L437.5,2301.6 L439.0,2312.5 L440.5,2323.5 L442.0,2335.4 L443.5,2348.3 L445.0,2361.7 L446.5,2374.9 L448.0,2388.0 L449.5,2401.0 L451.0,2413.5 L452.5,2425.2 L454.0,2436.3 L455.5,2447.3 L457.0,2458.4 L458.5,2470.2 L460.0,2480.6 L461.5,2489.3 L463.0,2497.1 L464.5,2504.4 L466.0,2511.1 L467.5,2517.6 L469.0,2523.8 L470.5,2529.6 L472.0,2535.2 L473.5,2540.6 L475.0,2545.8 L476.5,2550.8 L478.0,2555.8 L479.5,2560.7 L481.0,2565.4 L482.5,2570.0 L484.0,2574.3 L485.5,2578.4 L487.0,2582.2 L488.5,2585.8 L490.0,2589.2 L491.5,2592.5 L493.0,2595.7 L494.5,2598.7 L496.0,2601.6 L497.5,2604.4 L499.0,2607.0 L500.5,2609.5 L502.0,2611.8 L503.5,2614.2 L505.0,2616.4 L506.5,2618.7 L508.0,2620.8 L509.5,2622.8 L511.0,2624.7 L512.5,2626.5 L514.0,2628.1 L515.5,2629.5 L517.0,2630.7 L518.5,2631.8 L520.0,2632.8 L521.5,2633.9 L523.0,2634.9 L524.5,2635.8 L526.0,2636.8 L527.5,2637.6 L529.0,2638.4 L530.5,2639.2 L532.0,2639.8 L533.5,2640.4 L535.0,2640.9 L536.5,2641.4 L538.0,2641.7 L539.5,2642.0 L541.0,2642.2 L542.5,2642.3 L544.0,2642.5 L545.5,2642.7 L547.0,2642.8 L548.5,2643.0 L550.0,2643.1 L551.5,2643.3 L553.0,2643.4 L554.5,2643.5 L556.0,2643.6 L557.5,2643.7 L559.0,2643.8 L560.5,2643.9 L562.0,2644.0 L563.5,2644.1 L565.0,2644.1 L566.5,2644.2 L568.0,2644.2 L569.5,2644.3 L571.0,2644.3 L572.5,2644.3 L574.0,2644.3 L575.5,2644.3 L577.0,2644.3 L578.5,2644.2 L580.0,2644.2 L581.5,2644.1 L583.0,2644.0 L584.5,2643.9 L586.0,2643.8 L587.5,2643.7 L589.0,2643.6 L590.5,2643.5 L592.0,2643.4 L593.5,2643.2 L595.0,2643.1 L596.5,2643.0 L598.0,2642.8 L599.5,2642.7 L601.0,2642.6 L602.5,2642.4 L604.0,2642.3 L605.5,2642.2 L607.0,2642.1 L608.5,2642.0 L610.0,2641.9 L611.5,2641.8 L613.0,2641.7 L614.5,2641.6 L616.0,2641.5 L617.5,2641.4 L619.0,2641.3 L620.5,2641.2 L622.0,2641.1 L623.5,2641.0 L625.0,2640.8 L626.5,2640.7 L628.0,2640.6 L629.5,2640.5 L631.0,2640.4 L632.5,2640.3 L634.0,2640.2 L635.5,2640.1 L637.0,2640.0 L638.5,2639.9 L640.0,2639.8 L641.5,2639.6 L643.0,2639.5 L644.5,2639.4 L646.0,2639.3 L647.5,2639.2 L649.0,2639.0 L650.5,2638.9 L652.0,2638.8 L653.5,2638.6 L655.0,2638.5 L656.5,2638.3 L658.0,2638.2 L659.5,2638.1 L661.0,2637.9 L662.5,2637.8 L664.0,2637.6 L665.5,2637.5 L667.0,2637.3 L668.5,2637.2 L670.0,2637.0 L671.5,2636.9 L673.0,2636.7 L674.5,2636.5 L676.0,2636.4 L677.5,2636.2 L679.0,2636.0 L680.5,2635.8 L682.0,2635.6 L683.5,2635.4 L685.0,2635.2 L686.5,2635.0 L688.0,2634.8 L689.5,2634.6 L691.0,2634.3 L692.5,2634.1 L694.0,2633.9 L695.5,2633.6 L697.0,2633.4 L698.5,2633.1 L700.0,2632.8 L701.5,2632.5 L703.0,2632.2 L704.5,2631.9 L706.0,2631.5 L707.5,2631.1 L709.0,2630.7 L710.5,2630.3 L712.0,2629.8 L713.5,2629.4 L715.0,2628.9 L716.5,2628.3 L718.0,2627.8 L719.5,2627.2 L721.0,2626.6 L722.5,2625.9 L724.0,2625.2 L725.5,2624.4 L727.0,2623.5 L728.5,2622.5 L730.0,2621.5 L731.5,2620.3 L733.0,2619.1 L734.5,2617.9 L736.0,2616.6 L737.5,2615.2 L739.0,2613.8 L740.5,2612.4 L742.0,2610.9 L743.5,2609.4 L745.0,2607.9 L746.5,2606.4 L748.0,2604.8 L749.5,2603.1 L751.0,2601.3 L752.5,2599.5 L754.0,2597.6 L755.5,2595.6 L757.0,2593.4 L758.5,2591.1 L760.0,2588.7 L761.5,2586.1 L763.0,2583.3 L764.5,2580.3 L766.0,2576.9 L767.5,2573.2 L769.0,2569.1 L770.5,2564.5 L772.0,2559.4 L773.5,2553.8 L775.0,2547.6 L776.5,2539.2 L778.0,2528.7 L779.5,2517.3 L781.0,2506.5 L782.5,2497.1 L784.0,2488.5 L785.5,2480.2 L787.0,2471.5 L788.5,2462.1 L790.0,2451.6 L791.5,2440.2 L793.0,2428.3 L794.5,2416.3 L796.0,2404.3 L797.5,2391.5 L799.0,2376.7 L800.5,2357.2 L802.0,2340.1 L803.5,2328.3 L805.0,2316.8 L806.5,2304.4 L808.0,2292.3 L809.5,2280.3 L811.0,2269.3 L812.5,2259.1 L814.0,2249.6 L815.5,2240.7 L817.0,2232.4 L818.5,2224.4 L820.0,2216.6 L821.5,2209.4 L823.0,2202.5 L824.5,2195.7 L826.0,2189.3 L827.5,2184.2 L829.0,2180.7 L830.5,2177.9 L832.0,2176.0 L833.5,2174.7 L835.0,2173.7 L836.5,2173.6 L838.0,2174.3 L839.5,2175.5 L841.0,2177.2 L842.5,2179.7 L844.0,2182.9 L845.5,2187.4 L847.0,2193.5 L848.5,2200.2 L850.0,2207.0 L851.5,2214.2 L853.0,2221.8 L854.5,2229.7 L856.0,2237.8 L857.5,2246.5 L859.0,2256.0 L860.5,2266.7 L862.0,2277.8 L863.5,2289.0 L865.0,2300.4 L866.5,2311.5 L868.0,2321.6 L869.5,2330.9 L871.0,2340.3 L872.5,2350.3 L874.0,2360.6 L875.5,2371.1 L877.0,2381.4 L878.5,2391.7 L880.0,2401.9 L881.5,2412.0 L883.0,2421.7 L884.5,2431.1 L886.0,2440.3 L887.5,2449.1 L889.0,2457.7 L890.5,2465.9 L892.0,2474.0 L893.5,2481.9 L895.0,2489.5 L896.5,2496.6 L898.0,2503.2 L899.5,2509.3 L901.0,2514.9 L902.5,2520.3 L904.0,2525.4 L905.5,2530.4 L907.0,2535.4 L908.5,2540.4 L910.0,2545.5 L911.5,2550.5 L913.0,2555.4 L914.5,2560.0 L916.0,2564.4 L917.5,2568.4 L919.0,2572.1 L920.5,2575.7 L922.0,2579.1 L923.5,2582.4 L925.0,2585.5 L926.5,2588.4 L928.0,2591.1 L929.5,2593.6 L931.0,2596.0 L932.5,2598.3 L934.0,2600.5 L935.5,2602.7 L937.0,2604.7 L938.5,2606.7 L940.0,2608.4 L941.5,2610.0 L943.0,2611.5 L944.5,2612.7 L946.0,2613.8 L947.5,2614.9 L949.0,2615.8 L950.5,2616.8 L952.0,2617.6 L953.5,2618.4 L955.0,2619.2 L956.5,2619.8 L958.0,2620.4 L959.5,2620.9 L961.0,2621.3 L962.5,2621.7 L964.0,2622.1 L965.5,2622.5 L967.0,2622.9 L968.5,2623.2 L970.0,2623.6 L971.5,2623.9 L973.0,2624.3 L974.5,2624.6 L976.0,2624.9 L977.5,2625.2 L979.0,2625.4 L980.5,2625.7 L982.0,2625.9 L983.5,2626.1 L985.0,2626.2 L986.5,2626.4 L988.0,2626.5 L989.5,2626.6 L991.0,2626.7 L992.5,2626.7 L994.0,2626.7 L995.5,2626.7 L997.0,2626.7 L998.5,2626.6 L1000.0,2626.6 L1001.5,2626.5 L1003.0,2626.5 L1004.5,2626.4 L1006.0,2626.3 L1007.5,2626.2 L1009.0,2626.1 L1010.5,2626.0 L1012.0,2625.9 L1013.5,2625.8 L1015.0,2625.7 L1016.5,2625.6 L1018.0,2625.4 L1019.5,2625.3 L1021.0,2625.2 L1022.5,2625.1 L1024.0,2624.9 L1025.5,2624.8 L1027.0,2624.6 L1028.5,2624.5 L1030.0,2624.4 L1031.5,2624.2 L1033.0,2624.1 L1034.5,2624.0 L1036.0,2623.9 L1037.5,2623.7 L1039.0,2623.6 L1040.5,2623.5 L1042.0,2623.4 L1043.5,2623.3 L1045.0,2623.2 L1046.5,2623.1 L1048.0,2623.0 L1049.5,2622.9 L1051.0,2622.8 L1052.5,2622.7 L1054.0,2622.6 L1055.5,2622.4 L1057.0,2622.3 L1058.5,2622.2 L1060.0,2622.1 L1061.5,2622.0 L1063.0,2621.9 L1064.5,2621.8 L1066.0,2621.7 L1067.5,2621.6 L1069.0,2621.5 L1070.5,2621.4 L1072.0,2621.3 L1073.5,2621.2 L1075.0,2621.1 L1076.5,2621.0 L1078.0,2620.9 L1079.5,2620.8 L1081.0,2620.7 L1082.5,2620.6 L1084.0,2620.5 L1085.5,2620.4 L1087.0,2620.3 L1088.5,2620.2 L1090.0,2620.2 L1091.5,2620.1 L1093.0,2620.0 L1094.5,2619.9 L1096.0,2619.9 L1097.5,2619.8 L1099.0,2619.7 L1100.5,2619.7 L1102.0,2619.6 L1103.5,2619.5 L1105.0,2619.5 L1106.5,2619.4 L1108.0,2619.3 L1109.5,2619.3 L1111.0,2619.2 L1112.5,2619.2 L1114.0,2619.1 L1115.5,2619.0 L1117.0,2619.0 L1118.5,2618.9 L1120.0,2618.9 L1121.5,2618.8 L1123.0,2618.8 L1124.5,2618.7 L1126.0,2618.7 L1127.5,2618.6 L1129.0,2618.6 L1130.5,2618.5 L1132.0,2618.5 L1133.5,2618.5 L1135.0,2618.4 L1136.5,2618.4 L1138.0,2618.3 L1139.5,2618.3 L1140.0,2618.3" fill="none" stroke="#000" stroke-width="3.4" stroke-linejoin="round" stroke-linecap="round" />
<line x1="153.4" y1="2741.0" x2="153.4" y2="2723.0" stroke="#111" stroke-width="3.4"/>
<line x1="317.8" y1="2741.0" x2="317.8" y2="2723.0" stroke="#111" stroke-width="3.4"/>
<line x1="482.2" y1="2741.0" x2="482.2" y2="2723.0" stroke="#111" stroke-width="3.4"/>
<line x1="646.6" y1="2741.0" x2="646.6" y2="2723.0" stroke="#111" stroke-width="3.4"/>
<line x1="811.0" y1="2741.0" x2="811.0" y2="2723.0" stroke="#111" stroke-width="3.4"/>
<line x1="975.4" y1="2741.0" x2="975.4" y2="2723.0" stroke="#111" stroke-width="3.4"/>
<line x1="1139.8" y1="2741.0" x2="1139.8" y2="2723.0" stroke="#111" stroke-width="3.4"/>
<line x1="235.6" y1="2741.0" x2="235.6" y2="2730.5" stroke="#111" stroke-width="3.4"/>
<line x1="400.0" y1="2741.0" x2="400.0" y2="2730.5" stroke="#111" stroke-width="3.4"/>
<line x1="564.4" y1="2741.0" x2="564.4" y2="2730.5" stroke="#111" stroke-width="3.4"/>
<line x1="728.8" y1="2741.0" x2="728.8" y2="2730.5" stroke="#111" stroke-width="3.4"/>
<line x1="893.2" y1="2741.0" x2="893.2" y2="2730.5" stroke="#111" stroke-width="3.4"/>
<line x1="1057.6" y1="2741.0" x2="1057.6" y2="2730.5" stroke="#111" stroke-width="3.4"/>
<clipPath id="clipE"><rect x="0" y="2700" width="1158" height="150"/></clipPath>
<text x="153.4" y="2791.8" font-family="'Liberation Sans', Arial, Helvetica, sans-serif" font-size="43.5" text-anchor="middle" fill="#111" clip-path="url(#clipE)">156</text>
<text x="317.8" y="2791.8" font-family="'Liberation Sans', Arial, Helvetica, sans-serif" font-size="43.5" text-anchor="middle" fill="#111" clip-path="url(#clipE)">158</text>
<text x="482.2" y="2791.8" font-family="'Liberation Sans', Arial, Helvetica, sans-serif" font-size="43.5" text-anchor="middle" fill="#111" clip-path="url(#clipE)">160</text>
<text x="646.6" y="2791.8" font-family="'Liberation Sans', Arial, Helvetica, sans-serif" font-size="43.5" text-anchor="middle" fill="#111" clip-path="url(#clipE)">162</text>
<text x="811.0" y="2791.8" font-family="'Liberation Sans', Arial, Helvetica, sans-serif" font-size="43.5" text-anchor="middle" fill="#111" clip-path="url(#clipE)">164</text>
<text x="975.4" y="2791.8" font-family="'Liberation Sans', Arial, Helvetica, sans-serif" font-size="43.5" text-anchor="middle" fill="#111" clip-path="url(#clipE)">166</text>
<text x="1139.8" y="2791.8" font-family="'Liberation Sans', Arial, Helvetica, sans-serif" font-size="43.5" text-anchor="middle" fill="#111" clip-path="url(#clipE)">168</text>
<line x1="504.7" y1="2330.7" x2="592.4" y2="2330.7" stroke="#f00" stroke-width="4.5"/>
<line x1="504.7" y1="2377" x2="592.4" y2="2377" stroke="#000" stroke-width="4"/>
<text x="600.9" y="2343.6" font-family="'Liberation Sans', Arial, Helvetica, sans-serif" font-size="38.3" text-anchor="start" fill="#111" >ZTO/BiOBr</text>
<text x="600.9" y="2390.3" font-family="'Liberation Sans', Arial, Helvetica, sans-serif" font-size="38.3" text-anchor="start" fill="#111" >BiOBr</text>
<text x="173.9" y="2160.7" font-family="'Liberation Sans', Arial, Helvetica, sans-serif" font-size="38.5" text-anchor="start" fill="#111" >Bi 4f</text>
<text x="434.5" y="2040.4" font-family="'Liberation Sans', Arial, Helvetica, sans-serif" font-size="38.5" fill="#111">Bi 4f<tspan font-size="23.1" dx="2" dy="16.2">7/2</tspan></text>
<text x="872.9" y="2159.0" font-family="'Liberation Sans', Arial, Helvetica, sans-serif" font-size="38.5" fill="#111">Bi 4f<tspan font-size="23.1" dx="2" dy="16.2">5/2</tspan></text>
<text x="990.7" y="2102.0" font-family="'Liberation Serif', 'Times New Roman', serif" font-size="64.5" text-anchor="start" fill="#111" >(e)</text>
<text transform="translate(54.1,2500.7) rotate(-90)" font-family="'Liberation Sans', Arial, Helvetica, sans-serif" font-size="52.3" fill="#111">Counts (a.u)</text>
<text x="457.3" y="2851.0" font-family="'Liberation Sans', Arial, Helvetica, sans-serif" font-size="51.9" text-anchor="start" fill="#111" >Binding energy (eV)</text>
<rect x="95.2" y="1964.3" width="1046.4" height="776.7" fill="none" stroke="#111" stroke-width="5.5"/>
<line x1="1717.0" y1="2037.1" x2="1717.0" y2="2687.2" stroke="#333" stroke-width="3.5" stroke-dasharray="16,13"/>
<line x1="1753.2" y1="2212.2" x2="1753.2" y2="2669.5" stroke="#f66" stroke-width="3.5" stroke-dasharray="13,6.5"/>
<path d="M1281.0,2662.4 L1282.5,2662.4 L1284.0,2662.5 L1285.5,2662.4 L1287.0,2662.6 L1288.5,2662.7 L1290.0,2663.0 L1291.5,2662.8 L1293.0,2662.9 L1294.5,2662.9 L1296.0,2663.1 L1297.5,2663.0 L1299.0,2662.9 L1300.5,2662.5 L1302.0,2662.3 L1303.5,2662.1 L1305.0,2662.1 L1306.5,2662.0 L1308.0,2662.1 L1309.5,2662.0 L1311.0,2662.1 L1312.5,2662.1 L1314.0,2662.0 L1315.5,2661.7 L1317.0,2661.6 L1318.5,2661.4 L1320.0,2661.7 L1321.5,2662.1 L1323.0,2662.5 L1324.5,2662.5 L1326.0,2662.2 L1327.5,2661.9 L1329.0,2662.0 L1330.5,2662.4 L1332.0,2662.7 L1333.5,2662.8 L1335.0,2663.0 L1336.5,2662.8 L1338.0,2662.4 L1339.5,2661.6 L1341.0,2661.5 L1342.5,2661.7 L1344.0,2662.3 L1345.5,2662.3 L1347.0,2662.1 L1348.5,2661.7 L1350.0,2661.7 L1351.5,2662.0 L1353.0,2662.5 L1354.5,2662.6 L1356.0,2662.4 L1357.5,2662.2 L1359.0,2662.0 L1360.5,2662.0 L1362.0,2661.9 L1363.5,2662.0 L1365.0,2661.9 L1366.5,2662.0 L1368.0,2661.9 L1369.5,2662.0 L1371.0,2662.1 L1372.5,2662.2 L1374.0,2662.3 L1375.5,2662.3 L1377.0,2662.4 L1378.5,2662.5 L1380.0,2662.8 L1381.5,2663.0 L1383.0,2663.3 L1384.5,2663.5 L1386.0,2663.4 L1387.5,2662.7 L1389.0,2661.9 L1390.5,2661.8 L1392.0,2662.3 L1393.5,2663.0 L1395.0,2663.1 L1396.5,2662.8 L1398.0,2662.4 L1399.5,2662.1 L1401.0,2662.1 L1402.5,2662.1 L1404.0,2662.3 L1405.5,2662.5 L1407.0,2662.6 L1408.5,2662.6 L1410.0,2662.5 L1411.5,2662.5 L1413.0,2662.1 L1414.5,2661.7 L1416.0,2661.7 L1417.5,2661.9 L1419.0,2662.4 L1420.5,2662.6 L1422.0,2662.7 L1423.5,2662.8 L1425.0,2662.8 L1426.5,2662.6 L1428.0,2662.2 L1429.5,2662.0 L1431.0,2662.2 L1432.5,2662.3 L1434.0,2662.3 L1435.5,2661.9 L1437.0,2661.8 L1438.5,2662.0 L1440.0,2662.6 L1441.5,2663.0 L1443.0,2663.1 L1444.5,2662.8 L1446.0,2662.5 L1447.5,2662.3 L1449.0,2662.2 L1450.5,2662.1 L1452.0,2662.3 L1453.5,2662.4 L1455.0,2662.5 L1456.5,2662.3 L1458.0,2662.3 L1459.5,2662.2 L1461.0,2662.2 L1462.5,2662.2 L1464.0,2662.1 L1465.5,2661.9 L1467.0,2661.9 L1468.5,2662.2 L1470.0,2663.1 L1471.5,2663.5 L1473.0,2663.4 L1474.5,2662.8 L1476.0,2662.4 L1477.5,2662.1 L1479.0,2662.0 L1480.5,2662.0 L1482.0,2661.9 L1483.5,2661.6 L1485.0,2661.3 L1486.5,2661.3 L1488.0,2661.6 L1489.5,2662.0 L1491.0,2662.2 L1492.5,2662.3 L1494.0,2662.2 L1495.5,2662.2 L1497.0,2662.2 L1498.5,2662.6 L1500.0,2662.6 L1501.5,2662.8 L1503.0,2662.6 L1504.5,2662.5 L1506.0,2662.3 L1507.5,2662.3 L1509.0,2662.3 L1510.5,2662.3 L1512.0,2662.4 L1513.5,2662.3 L1515.0,2662.2 L1516.5,2661.9 L1518.0,2661.7 L1519.5,2661.7 L1521.0,2661.9 L1522.5,2662.2 L1524.0,2662.5 L1525.5,2662.8 L1527.0,2662.9 L1528.5,2662.7 L1530.0,2662.4 L1531.5,2661.8 L1533.0,2661.5 L1534.5,2661.1 L1536.0,2661.0 L1537.5,2661.2 L1539.0,2661.2 L1540.5,2661.3 L1542.0,2660.9 L1543.5,2660.7 L1545.0,2660.7 L1546.5,2660.9 L1548.0,2661.3 L1549.5,2661.5 L1551.0,2661.7 L1552.5,2661.5 L1554.0,2661.4 L1555.5,2661.1 L1557.0,2661.0 L1558.5,2660.8 L1560.0,2660.8 L1561.5,2660.9 L1563.0,2660.7 L1564.5,2660.7 L1566.0,2660.6 L1567.5,2660.8 L1569.0,2660.8 L1570.5,2661.2 L1572.0,2661.5 L1573.5,2661.8 L1575.0,2661.5 L1576.5,2661.3 L1578.0,2661.2 L1579.5,2661.5 L1581.0,2661.4 L1582.5,2661.1 L1584.0,2660.8 L1585.5,2660.6 L1587.0,2660.7 L1588.5,2660.8 L1590.0,2661.1 L1591.5,2661.1 L1593.0,2661.1 L1594.5,2661.1 L1596.0,2661.1 L1597.5,2661.4 L1599.0,2661.4 L1600.5,2661.1 L1602.0,2661.0 L1603.5,2660.9 L1605.0,2660.9 L1606.5,2660.7 L1608.0,2660.5 L1609.5,2660.6 L1611.0,2660.7 L1612.5,2660.9 L1614.0,2661.1 L1615.5,2661.0 L1617.0,2660.7 L1618.5,2660.3 L1620.0,2660.4 L1621.5,2660.4 L1623.0,2660.7 L1624.5,2660.7 L1626.0,2660.8 L1627.5,2660.6 L1629.0,2660.2 L1630.5,2659.8 L1632.0,2659.6 L1633.5,2659.6 L1635.0,2659.6 L1636.5,2659.7 L1638.0,2659.8 L1639.5,2659.8 L1641.0,2659.9 L1642.5,2659.9 L1644.0,2659.9 L1645.5,2659.8 L1647.0,2659.5 L1648.5,2659.1 L1650.0,2658.9 L1651.5,2658.7 L1653.0,2658.6 L1654.5,2658.3 L1656.0,2658.2 L1657.5,2658.4 L1659.0,2658.6 L1660.5,2658.6 L1662.0,2658.3 L1663.5,2657.9 L1665.0,2657.6 L1666.5,2657.4 L1668.0,2657.0 L1669.5,2656.7 L1671.0,2656.2 L1672.5,2656.2 L1674.0,2656.0 L1675.5,2655.7 L1677.0,2655.2 L1678.5,2654.6 L1680.0,2654.2 L1681.5,2653.7 L1683.0,2653.1 L1684.5,2652.2 L1686.0,2651.2 L1687.5,2650.3 L1689.0,2649.4 L1690.5,2648.8 L1692.0,2647.8 L1693.5,2646.7 L1695.0,2645.2 L1696.5,2643.6 L1698.0,2641.8 L1699.5,2640.2 L1701.0,2638.5 L1702.5,2636.9 L1704.0,2635.3 L1705.5,2633.6 L1707.0,2631.6 L1708.5,2629.3 L1710.0,2627.0 L1711.5,2625.0 L1713.0,2623.4 L1714.5,2621.9 L1716.0,2620.0 L1717.5,2618.0 L1719.0,2616.2 L1720.5,2614.5 L1722.0,2612.9 L1723.5,2610.8 L1725.0,2608.8 L1726.5,2606.9 L1728.0,2605.4 L1729.5,2604.0 L1731.0,2602.2 L1732.5,2600.6 L1734.0,2598.6 L1735.5,2597.2 L1737.0,2595.6 L1738.5,2594.4 L1740.0,2593.1 L1741.5,2591.9 L1743.0,2590.5 L1744.5,2589.1 L1746.0,2587.6 L1747.5,2586.3 L1749.0,2585.1 L1750.5,2584.2 L1752.0,2583.6 L1753.5,2583.3 L1755.0,2582.9 L1756.5,2582.0 L1758.0,2581.2 L1759.5,2580.2 L1761.0,2580.0 L1762.5,2580.2 L1764.0,2580.8 L1765.5,2581.2 L1767.0,2581.6 L1768.5,2581.7 L1770.0,2581.7 L1771.5,2581.4 L1773.0,2581.1 L1774.5,2581.4 L1776.0,2582.1 L1777.5,2582.7 L1779.0,2583.1 L1780.5,2583.0 L1782.0,2582.8 L1783.5,2582.4 L1785.0,2582.1 L1786.5,2581.9 L1788.0,2581.8 L1789.5,2581.8 L1791.0,2581.6 L1792.5,2581.4 L1794.0,2581.2 L1795.5,2581.3 L1797.0,2581.6 L1798.5,2581.7 L1800.0,2581.4 L1801.5,2581.1 L1803.0,2580.9 L1804.5,2580.9 L1806.0,2580.8 L1807.5,2581.2 L1809.0,2581.9 L1810.5,2582.8 L1812.0,2583.8 L1813.5,2584.4 L1815.0,2585.0 L1816.5,2585.0 L1818.0,2585.0 L1819.5,2585.0 L1821.0,2585.2 L1822.5,2585.4 L1824.0,2585.6 L1825.5,2585.7 L1827.0,2585.8 L1828.5,2586.2 L1830.0,2586.9 L1831.5,2587.4 L1833.0,2588.0 L1834.5,2588.5 L1836.0,2589.1 L1837.5,2589.7 L1839.0,2590.6 L1840.5,2591.5 L1842.0,2592.5 L1843.5,2593.2 L1845.0,2594.0 L1846.5,2595.0 L1848.0,2596.3 L1849.5,2597.8 L1851.0,2599.4 L1852.5,2601.1 L1854.0,2602.8 L1855.5,2604.0 L1857.0,2605.3 L1858.5,2606.3 L1860.0,2607.7 L1861.5,2609.1 L1863.0,2610.9 L1864.5,2612.7 L1866.0,2614.3 L1867.5,2615.6 L1869.0,2616.6 L1870.5,2617.5 L1872.0,2618.3 L1873.5,2619.2 L1875.0,2620.3 L1876.5,2621.7 L1878.0,2623.3 L1879.5,2624.5 L1881.0,2625.6 L1882.5,2626.2 L1884.0,2627.4 L1885.5,2628.6 L1887.0,2630.1 L1888.5,2631.0 L1890.0,2631.8 L1891.5,2632.5 L1893.0,2633.5 L1894.5,2634.8 L1896.0,2636.1 L1897.5,2637.4 L1899.0,2638.1 L1900.5,2639.0 L1902.0,2639.8 L1903.5,2640.9 L1905.0,2641.6 L1906.5,2642.7 L1908.0,2643.9 L1909.5,2645.0 L1911.0,2645.4 L1912.5,2645.2 L1914.0,2645.1 L1915.5,2645.7 L1917.0,2647.3 L1918.5,2648.8 L1920.0,2650.0 L1921.5,2650.7 L1923.0,2651.6 L1924.5,2652.3 L1926.0,2653.1 L1927.5,2653.6 L1929.0,2654.1 L1930.5,2654.6 L1932.0,2655.1 L1933.5,2655.7 L1935.0,2656.3 L1936.5,2656.8 L1938.0,2657.0 L1939.5,2657.0 L1941.0,2657.5 L1942.5,2658.0 L1944.0,2658.2 L1945.5,2657.9 L1947.0,2657.8 L1948.5,2657.8 L1950.0,2658.2 L1951.5,2658.5 L1953.0,2659.2 L1954.5,2659.7 L1956.0,2660.1 L1957.5,2660.1 L1959.0,2660.1 L1960.5,2659.7 L1962.0,2659.4 L1963.5,2659.0 L1965.0,2658.8 L1966.5,2658.8 L1968.0,2659.0 L1969.5,2659.4 L1971.0,2659.5 L1972.5,2659.5 L1974.0,2659.7 L1975.5,2660.1 L1977.0,2660.4 L1978.5,2660.4 L1980.0,2660.1 L1981.5,2660.2 L1983.0,2660.1 L1984.5,2660.4 L1986.0,2660.7 L1987.5,2660.7 L1989.0,2660.6 L1990.5,2660.0 L1992.0,2659.7 L1993.5,2659.8 L1995.0,2660.2 L1996.5,2660.7 L1998.0,2660.8 L1999.5,2661.1 L2001.0,2661.1 L2002.5,2661.2 L2004.0,2661.3 L2005.5,2661.3 L2007.0,2661.5 L2008.5,2661.9 L2010.0,2662.2 L2011.5,2662.1 L2013.0,2661.8 L2014.5,2661.6 L2016.0,2661.7 L2017.5,2662.2 L2019.0,2662.2 L2020.5,2661.9 L2022.0,2661.2 L2023.5,2661.0 L2025.0,2661.2 L2026.5,2661.3 L2028.0,2661.0 L2029.5,2661.1 L2031.0,2661.2 L2032.5,2661.4 L2034.0,2661.3 L2035.5,2661.5 L2037.0,2661.7 L2038.5,2661.7 L2040.0,2661.1 L2041.5,2660.4 L2043.0,2659.9 L2044.5,2659.9 L2046.0,2660.4 L2047.5,2661.2 L2049.0,2661.7 L2050.5,2661.9 L2052.0,2661.8 L2053.5,2661.5 L2055.0,2661.2 L2056.5,2661.0 L2058.0,2660.9 L2059.5,2660.6 L2061.0,2660.4 L2062.5,2660.9 L2064.0,2661.3 L2065.5,2661.7 L2067.0,2661.2 L2068.5,2660.9 L2070.0,2660.6 L2071.5,2660.7 L2073.0,2660.7 L2074.5,2660.5 L2076.0,2660.4 L2077.5,2660.3 L2079.0,2660.5 L2080.5,2660.4 L2082.0,2660.4 L2083.5,2660.1 L2085.0,2660.2 L2086.5,2660.4 L2088.0,2660.4 L2089.5,2660.3 L2091.0,2659.9 L2092.5,2660.2 L2094.0,2660.5 L2095.5,2661.0 L2097.0,2661.0 L2098.5,2660.7 L2100.0,2660.4 L2101.5,2660.3 L2103.0,2660.4 L2104.5,2660.4 L2106.0,2660.0 L2107.5,2659.8 L2109.0,2659.6 L2110.5,2660.1 L2112.0,2660.5 L2113.5,2661.1 L2115.0,2661.1 L2116.5,2660.9 L2118.0,2660.2 L2119.5,2659.7 L2121.0,2659.4 L2122.5,2659.7 L2124.0,2660.0 L2125.5,2660.2 L2127.0,2660.8 L2128.5,2660.8 L2130.0,2660.6 L2131.5,2659.7 L2133.0,2659.2 L2134.5,2659.0 L2136.0,2659.1 L2137.5,2659.1 L2139.0,2659.5 L2140.5,2659.9 L2142.0,2659.9 L2143.5,2659.4 L2145.0,2659.0 L2146.5,2659.3 L2148.0,2659.8 L2149.5,2660.0 L2151.0,2659.9 L2152.5,2659.7 L2154.0,2659.5 L2155.5,2659.3 L2157.0,2658.9 L2158.5,2658.8 L2160.0,2658.8 L2161.5,2659.1 L2163.0,2659.4 L2164.5,2659.6 L2166.0,2659.3 L2167.5,2659.0 L2169.0,2658.6 L2170.5,2658.9 L2172.0,2659.1 L2173.5,2659.8 L2175.0,2659.9 L2176.5,2660.3 L2178.0,2660.1 L2179.5,2660.1 L2181.0,2659.6 L2182.5,2659.2 L2184.0,2658.8 L2185.5,2658.7 L2187.0,2658.6 L2188.5,2658.8 L2190.0,2658.8 L2191.5,2659.0 L2193.0,2658.8 L2194.5,2658.8 L2196.0,2658.3 L2197.5,2658.1 L2199.0,2657.8 L2200.5,2657.9 L2202.0,2657.9 L2203.5,2658.1 L2205.0,2658.2 L2206.5,2658.2 L2208.0,2658.0 L2209.5,2657.7 L2211.0,2657.7 L2212.5,2657.7 L2214.0,2658.0 L2215.5,2658.3 L2217.0,2658.9 L2218.5,2659.2 L2220.0,2659.1 L2221.5,2658.7 L2223.0,2658.0 L2224.5,2657.6 L2226.0,2657.2 L2227.5,2657.2 L2229.0,2657.2 L2230.5,2657.6 L2232.0,2657.9 L2233.5,2657.9 L2235.0,2657.8 L2236.5,2657.8 L2238.0,2658.1 L2239.5,2658.1 L2241.0,2658.0 L2242.5,2657.7 L2244.0,2657.5 L2245.5,2657.1 L2247.0,2656.9 L2248.5,2656.9 L2250.0,2657.4 L2251.5,2657.9 L2253.0,2658.2 L2254.5,2658.3 L2256.0,2658.1 L2257.5,2658.1 L2259.0,2657.8 L2260.5,2657.7 L2262.0,2657.3 L2263.5,2657.1 L2265.0,2657.2 L2266.5,2657.7 L2268.0,2658.2 L2269.5,2658.1 L2271.0,2657.9 L2272.5,2657.6 L2274.0,2657.8 L2275.5,2657.9 L2277.0,2658.0 L2278.5,2658.0 L2280.0,2658.0 L2281.5,2658.0 L2283.0,2658.0 L2284.5,2657.9 L2286.0,2657.7 L2287.5,2657.7 L2289.0,2657.4 L2290.5,2657.1 L2292.0,2656.9 L2293.5,2657.0 L2295.0,2657.5 L2296.5,2657.9 L2298.0,2658.4 L2299.5,2658.6 L2301.0,2658.3 L2302.5,2657.8 L2304.0,2657.3 L2305.5,2657.2 L2307.0,2656.9 L2308.5,2656.8 L2310.0,2656.8 L2311.5,2657.0 L2313.0,2656.8 L2314.5,2656.5 L2316.0,2656.1 L2317.5,2656.4 L2319.0,2656.8 L2320.5,2657.2 L2322.0,2657.5 L2323.5,2657.7 L2325.0,2658.0 L2326.5,2657.9 L2328.0,2657.7 L2329.5,2657.3 L2331.0,2656.9 L2332.5,2656.6 L2334.0,2656.3 L2335.5,2656.3 L2337.0,2656.4 L2338.5,2656.7 L2340.0,2656.8 L2341.5,2657.1 L2342.0,2657.0" fill="none" stroke="#f00" stroke-width="3.4" stroke-linejoin="round" stroke-linecap="round" />
<path d="M1281.0,2634.7 L1282.5,2634.6 L1284.0,2634.3 L1285.5,2633.7 L1287.0,2633.4 L1288.5,2633.3 L1290.0,2633.5 L1291.5,2633.2 L1293.0,2632.6 L1294.5,2632.3 L1296.0,2632.8 L1297.5,2633.5 L1299.0,2633.8 L1300.5,2633.7 L1302.0,2633.3 L1303.5,2633.2 L1305.0,2633.0 L1306.5,2632.8 L1308.0,2632.7 L1309.5,2632.7 L1311.0,2633.1 L1312.5,2633.0 L1314.0,2632.9 L1315.5,2632.6 L1317.0,2632.6 L1318.5,2633.0 L1320.0,2633.5 L1321.5,2633.7 L1323.0,2633.9 L1324.5,2634.0 L1326.0,2634.4 L1327.5,2634.7 L1329.0,2635.6 L1330.5,2636.4 L1332.0,2637.2 L1333.5,2637.1 L1335.0,2636.9 L1336.5,2637.3 L1338.0,2638.0 L1339.5,2638.5 L1341.0,2638.0 L1342.5,2637.3 L1344.0,2636.9 L1345.5,2637.1 L1347.0,2637.3 L1348.5,2637.7 L1350.0,2637.9 L1351.5,2637.6 L1353.0,2637.3 L1354.5,2637.3 L1356.0,2637.6 L1357.5,2637.4 L1359.0,2636.8 L1360.5,2636.5 L1362.0,2636.8 L1363.5,2637.1 L1365.0,2637.0 L1366.5,2636.7 L1368.0,2636.7 L1369.5,2636.8 L1371.0,2636.7 L1372.5,2636.5 L1374.0,2636.2 L1375.5,2635.7 L1377.0,2635.3 L1378.5,2634.8 L1380.0,2634.8 L1381.5,2635.0 L1383.0,2635.7 L1384.5,2636.1 L1386.0,2636.2 L1387.5,2636.0 L1389.0,2635.8 L1390.5,2635.5 L1392.0,2635.5 L1393.5,2635.1 L1395.0,2634.8 L1396.5,2634.5 L1398.0,2634.7 L1399.5,2635.0 L1401.0,2634.8 L1402.5,2634.4 L1404.0,2634.3 L1405.5,2634.7 L1407.0,2635.3 L1408.5,2635.4 L1410.0,2635.5 L1411.5,2635.2 L1413.0,2635.3 L1414.5,2635.1 L1416.0,2635.2 L1417.5,2635.1 L1419.0,2634.9 L1420.5,2634.3 L1422.0,2634.1 L1423.5,2633.9 L1425.0,2634.1 L1426.5,2634.2 L1428.0,2634.2 L1429.5,2634.1 L1431.0,2633.7 L1432.5,2633.6 L1434.0,2633.5 L1435.5,2633.7 L1437.0,2633.6 L1438.5,2634.0 L1440.0,2634.1 L1441.5,2634.6 L1443.0,2634.4 L1444.5,2634.3 L1446.0,2633.7 L1447.5,2633.8 L1449.0,2634.1 L1450.5,2634.6 L1452.0,2634.5 L1453.5,2634.5 L1455.0,2634.0 L1456.5,2633.8 L1458.0,2632.8 L1459.5,2632.3 L1461.0,2632.1 L1462.5,2632.7 L1464.0,2633.1 L1465.5,2633.5 L1467.0,2633.7 L1468.5,2633.9 L1470.0,2634.0 L1471.5,2633.7 L1473.0,2633.1 L1474.5,2632.6 L1476.0,2632.5 L1477.5,2632.8 L1479.0,2633.5 L1480.5,2633.8 L1482.0,2634.2 L1483.5,2634.1 L1485.0,2634.0 L1486.5,2633.7 L1488.0,2633.6 L1489.5,2633.5 L1491.0,2633.4 L1492.5,2633.0 L1494.0,2632.7 L1495.5,2632.9 L1497.0,2633.8 L1498.5,2634.4 L1500.0,2633.9 L1501.5,2633.0 L1503.0,2632.5 L1504.5,2632.8 L1506.0,2633.3 L1507.5,2633.5 L1509.0,2633.8 L1510.5,2633.8 L1512.0,2634.0 L1513.5,2633.9 L1515.0,2633.6 L1516.5,2633.3 L1518.0,2633.2 L1519.5,2633.2 L1521.0,2633.1 L1522.5,2632.8 L1524.0,2632.8 L1525.5,2633.4 L1527.0,2634.3 L1528.5,2634.8 L1530.0,2634.5 L1531.5,2633.5 L1533.0,2632.6 L1534.5,2632.5 L1536.0,2632.7 L1537.5,2633.1 L1539.0,2633.4 L1540.5,2633.3 L1542.0,2633.0 L1543.5,2632.6 L1545.0,2632.8 L1546.5,2633.2 L1548.0,2633.4 L1549.5,2633.4 L1551.0,2632.9 L1552.5,2632.7 L1554.0,2632.6 L1555.5,2632.7 L1557.0,2633.2 L1558.5,2633.1 L1560.0,2633.3 L1561.5,2632.9 L1563.0,2633.1 L1564.5,2632.8 L1566.0,2632.8 L1567.5,2633.0 L1569.0,2633.4 L1570.5,2633.8 L1572.0,2633.7 L1573.5,2633.3 L1575.0,2633.0 L1576.5,2632.6 L1578.0,2632.2 L1579.5,2631.6 L1581.0,2630.8 L1582.5,2629.7 L1584.0,2628.5 L1585.5,2627.6 L1587.0,2627.1 L1588.5,2627.0 L1590.0,2626.9 L1591.5,2626.6 L1593.0,2626.4 L1594.5,2625.9 L1596.0,2625.5 L1597.5,2625.1 L1599.0,2624.9 L1600.5,2624.6 L1602.0,2624.0 L1603.5,2623.7 L1605.0,2623.4 L1606.5,2623.6 L1608.0,2623.3 L1609.5,2623.2 L1611.0,2622.6 L1612.5,2622.3 L1614.0,2621.6 L1615.5,2621.1 L1617.0,2620.6 L1618.5,2620.4 L1620.0,2620.0 L1621.5,2619.4 L1623.0,2618.4 L1624.5,2617.3 L1626.0,2616.4 L1627.5,2615.0 L1629.0,2613.5 L1630.5,2611.8 L1632.0,2610.5 L1633.5,2609.2 L1635.0,2607.6 L1636.5,2605.2 L1638.0,2602.9 L1639.5,2600.6 L1641.0,2598.5 L1642.5,2595.3 L1644.0,2591.4 L1645.5,2586.3 L1647.0,2581.2 L1648.5,2575.8 L1650.0,2569.7 L1651.5,2562.4 L1653.0,2553.8 L1654.5,2544.1 L1656.0,2534.3 L1657.5,2524.5 L1659.0,2515.0 L1660.5,2504.2 L1662.0,2491.9 L1663.5,2478.2 L1665.0,2464.2 L1666.5,2450.2 L1668.0,2437.3 L1669.5,2425.5 L1671.0,2415.9 L1672.5,2406.7 L1674.0,2397.1 L1675.5,2385.2 L1677.0,2369.8 L1678.5,2350.1 L1680.0,2330.6 L1681.5,2312.4 L1683.0,2294.5 L1684.5,2277.7 L1686.0,2261.8 L1687.5,2246.8 L1689.0,2232.0 L1690.5,2217.6 L1692.0,2202.9 L1693.5,2188.2 L1695.0,2173.9 L1696.5,2159.1 L1698.0,2143.2 L1699.5,2131.3 L1701.0,2122.3 L1702.5,2114.2 L1704.0,2105.8 L1705.5,2098.7 L1707.0,2093.7 L1708.5,2089.4 L1710.0,2085.6 L1711.5,2082.8 L1713.0,2080.4 L1714.5,2078.5 L1716.0,2077.0 L1717.5,2076.3 L1719.0,2076.5 L1720.5,2077.6 L1722.0,2079.7 L1723.5,2082.2 L1725.0,2085.0 L1726.5,2089.1 L1728.0,2094.4 L1729.5,2100.5 L1731.0,2108.2 L1732.5,2116.1 L1734.0,2123.5 L1735.5,2130.6 L1737.0,2137.7 L1738.5,2144.8 L1740.0,2152.6 L1741.5,2160.5 L1743.0,2169.3 L1744.5,2176.3 L1746.0,2180.8 L1747.5,2184.1 L1749.0,2187.5 L1750.5,2191.2 L1752.0,2194.6 L1753.5,2197.7 L1755.0,2200.9 L1756.5,2204.8 L1758.0,2208.9 L1759.5,2211.8 L1761.0,2212.1 L1762.5,2211.7 L1764.0,2211.1 L1765.5,2211.0 L1767.0,2210.7 L1768.5,2210.1 L1770.0,2209.1 L1771.5,2207.6 L1773.0,2206.4 L1774.5,2204.8 L1776.0,2203.8 L1777.5,2203.0 L1779.0,2203.0 L1780.5,2202.9 L1782.0,2202.9 L1783.5,2202.9 L1785.0,2203.8 L1786.5,2205.2 L1788.0,2206.6 L1789.5,2207.6 L1791.0,2209.0 L1792.5,2210.7 L1794.0,2213.3 L1795.5,2218.3 L1797.0,2226.0 L1798.5,2233.9 L1800.0,2241.8 L1801.5,2249.6 L1803.0,2256.8 L1804.5,2263.7 L1806.0,2270.7 L1807.5,2278.1 L1809.0,2285.4 L1810.5,2292.4 L1812.0,2299.0 L1813.5,2306.3 L1815.0,2314.7 L1816.5,2324.3 L1818.0,2334.5 L1819.5,2344.8 L1821.0,2354.8 L1822.5,2364.8 L1824.0,2375.2 L1825.5,2386.0 L1827.0,2397.3 L1828.5,2408.5 L1830.0,2418.9 L1831.5,2428.6 L1833.0,2437.4 L1834.5,2446.0 L1836.0,2454.1 L1837.5,2461.9 L1839.0,2469.4 L1840.5,2476.8 L1842.0,2483.9 L1843.5,2491.1 L1845.0,2498.0 L1846.5,2505.1 L1848.0,2512.2 L1849.5,2519.9 L1851.0,2527.4 L1852.5,2535.1 L1854.0,2542.0 L1855.5,2548.7 L1857.0,2554.7 L1858.5,2560.9 L1860.0,2566.0 L1861.5,2570.4 L1863.0,2573.7 L1864.5,2577.2 L1866.0,2580.8 L1867.5,2584.8 L1869.0,2588.3 L1870.5,2591.6 L1872.0,2594.2 L1873.5,2596.9 L1875.0,2599.1 L1876.5,2601.9 L1878.0,2604.4 L1879.5,2607.0 L1881.0,2609.0 L1882.5,2610.6 L1884.0,2611.9 L1885.5,2612.9 L1887.0,2614.0 L1888.5,2615.0 L1890.0,2616.4 L1891.5,2618.1 L1893.0,2619.8 L1894.5,2620.9 L1896.0,2621.6 L1897.5,2622.5 L1899.0,2623.4 L1900.5,2624.1 L1902.0,2624.8 L1903.5,2625.8 L1905.0,2626.9 L1906.5,2627.8 L1908.0,2628.6 L1909.5,2629.4 L1911.0,2629.9 L1912.5,2630.2 L1914.0,2630.6 L1915.5,2630.9 L1917.0,2631.0 L1918.5,2631.0 L1920.0,2631.3 L1921.5,2631.7 L1923.0,2632.1 L1924.5,2632.4 L1926.0,2632.3 L1927.5,2631.9 L1929.0,2631.1 L1930.5,2630.5 L1932.0,2630.1 L1933.5,2630.2 L1935.0,2630.6 L1936.5,2631.3 L1938.0,2632.1 L1939.5,2632.6 L1941.0,2632.5 L1942.5,2632.3 L1944.0,2632.1 L1945.5,2631.8 L1947.0,2631.3 L1948.5,2631.0 L1950.0,2631.0 L1951.5,2631.3 L1953.0,2631.6 L1954.5,2632.1 L1956.0,2632.5 L1957.5,2632.8 L1959.0,2632.7 L1960.5,2632.5 L1962.0,2632.1 L1963.5,2632.0 L1965.0,2631.8 L1966.5,2632.2 L1968.0,2632.2 L1969.5,2632.1 L1971.0,2631.7 L1972.5,2631.9 L1974.0,2632.1 L1975.5,2631.9 L1977.0,2631.2 L1978.5,2630.9 L1980.0,2631.0 L1981.5,2631.5 L1983.0,2631.5 L1984.5,2631.2 L1986.0,2630.5 L1987.5,2630.4 L1989.0,2630.2 L1990.5,2630.5 L1992.0,2630.0 L1993.5,2629.9 L1995.0,2629.7 L1996.5,2630.0 L1998.0,2630.2 L1999.5,2630.2 L2001.0,2630.1 L2002.5,2630.2 L2004.0,2630.4 L2005.5,2630.4 L2007.0,2630.2 L2008.5,2629.8 L2010.0,2629.4 L2011.5,2628.7 L2013.0,2628.1 L2014.5,2627.9 L2016.0,2628.0 L2017.5,2628.2 L2019.0,2627.7 L2020.5,2627.4 L2022.0,2627.3 L2023.5,2627.4 L2025.0,2627.4 L2026.5,2627.1 L2028.0,2626.9 L2029.5,2626.7 L2031.0,2626.5 L2032.5,2626.2 L2034.0,2626.1 L2035.5,2626.0 L2037.0,2626.1 L2038.5,2625.9 L2040.0,2626.0 L2041.5,2626.1 L2043.0,2626.0 L2044.5,2625.5 L2046.0,2624.9 L2047.5,2624.6 L2049.0,2624.4 L2050.5,2624.3 L2052.0,2624.3 L2053.5,2624.8 L2055.0,2625.2 L2056.5,2625.4 L2058.0,2624.9 L2059.5,2624.5 L2061.0,2624.1 L2062.5,2624.4 L2064.0,2624.5 L2065.5,2624.9 L2067.0,2624.6 L2068.5,2624.3 L2070.0,2623.7 L2071.5,2623.5 L2073.0,2623.7 L2074.5,2624.1 L2076.0,2624.4 L2077.5,2624.0 L2079.0,2623.4 L2080.5,2622.9 L2082.0,2622.7 L2083.5,2622.6 L2085.0,2622.5 L2086.5,2622.3 L2088.0,2622.1 L2089.5,2622.1 L2091.0,2622.0 L2092.5,2621.9 L2094.0,2621.9 L2095.5,2622.2 L2097.0,2622.6 L2098.5,2622.4 L2100.0,2622.0 L2101.5,2621.4 L2103.0,2621.4 L2104.5,2621.4 L2106.0,2621.4 L2107.5,2621.5 L2109.0,2621.8 L2110.5,2622.1 L2112.0,2621.9 L2113.5,2621.5 L2115.0,2620.9 L2116.5,2620.5 L2118.0,2620.2 L2119.5,2620.4 L2121.0,2620.9 L2122.5,2621.4 L2124.0,2621.5 L2125.5,2620.9 L2127.0,2620.0 L2128.5,2619.1 L2130.0,2619.0 L2131.5,2619.6 L2133.0,2620.3 L2134.5,2620.4 L2136.0,2619.8 L2137.5,2619.2 L2139.0,2619.0 L2140.5,2618.9 L2142.0,2619.0 L2143.5,2619.1 L2145.0,2619.2 L2146.5,2619.3 L2148.0,2619.4 L2149.5,2619.7 L2151.0,2619.5 L2152.5,2619.2 L2154.0,2618.6 L2155.5,2618.5 L2157.0,2618.3 L2158.5,2618.4 L2160.0,2618.0 L2161.5,2617.6 L2163.0,2617.0 L2164.5,2616.7 L2166.0,2616.5 L2167.5,2616.5 L2169.0,2616.6 L2170.5,2616.8 L2172.0,2616.8 L2173.5,2616.7 L2175.0,2616.3 L2176.5,2616.5 L2178.0,2616.8 L2179.5,2617.2 L2181.0,2616.8 L2182.5,2616.4 L2184.0,2616.1 L2185.5,2616.1 L2187.0,2616.2 L2188.5,2616.6 L2190.0,2617.2 L2191.5,2617.7 L2193.0,2617.4 L2194.5,2616.4 L2196.0,2615.5 L2197.5,2614.9 L2199.0,2614.8 L2200.5,2614.4 L2202.0,2614.4 L2203.5,2614.6 L2205.0,2615.1 L2206.5,2615.2 L2208.0,2615.2 L2209.5,2615.1 L2211.0,2615.1 L2212.5,2614.7 L2214.0,2614.7 L2215.5,2614.2 L2217.0,2614.5 L2218.5,2614.2 L2220.0,2614.3 L2221.5,2614.1 L2223.0,2614.8 L2224.5,2615.3 L2226.0,2615.5 L2227.5,2615.1 L2229.0,2614.6 L2230.5,2614.2 L2232.0,2614.0 L2233.5,2614.0 L2235.0,2613.9 L2236.5,2614.2 L2238.0,2614.4 L2239.5,2614.7 L2241.0,2614.6 L2242.5,2614.3 L2244.0,2614.0 L2245.5,2614.0 L2247.0,2614.0 L2248.5,2614.0 L2250.0,2613.9 L2251.5,2613.7 L2253.0,2613.8 L2254.5,2613.7 L2256.0,2614.1 L2257.5,2614.4 L2259.0,2614.7 L2260.5,2614.8 L2262.0,2614.8 L2263.5,2614.5 L2265.0,2614.0 L2266.5,2613.5 L2268.0,2613.0 L2269.5,2612.9 L2271.0,2612.9 L2272.5,2612.9 L2274.0,2612.6 L2275.5,2612.4 L2277.0,2612.3 L2278.5,2611.9 L2280.0,2611.5 L2281.5,2610.9 L2283.0,2610.7 L2284.5,2610.0 L2286.0,2609.8 L2287.5,2609.2 L2289.0,2609.3 L2290.5,2608.6 L2292.0,2608.9 L2293.5,2608.9 L2295.0,2609.2 L2296.5,2608.7 L2298.0,2608.6 L2299.5,2608.6 L2301.0,2609.0 L2302.5,2608.9 L2304.0,2608.3 L2305.5,2607.7 L2307.0,2607.9 L2308.5,2608.5 L2310.0,2609.0 L2311.5,2609.0 L2313.0,2608.6 L2314.5,2608.6 L2316.0,2609.0 L2317.5,2609.4 L2319.0,2609.7 L2320.5,2609.7 L2322.0,2609.8 L2323.5,2609.5 L2325.0,2609.2 L2326.5,2608.8 L2328.0,2609.0 L2329.5,2609.7 L2331.0,2610.3 L2332.5,2610.7 L2334.0,2610.5 L2335.5,2610.2 L2337.0,2610.1 L2338.5,2610.0 L2340.0,2610.1 L2341.5,2610.1 L2342.0,2610.6" fill="none" stroke="#000" stroke-width="3.4" stroke-linejoin="round" stroke-linecap="round" />
<line x1="1427.2" y1="2741.3" x2="1427.2" y2="2723.3" stroke="#111" stroke-width="3.4"/>
<line x1="1580.0" y1="2741.3" x2="1580.0" y2="2723.3" stroke="#111" stroke-width="3.4"/>
<line x1="1732.8" y1="2741.3" x2="1732.8" y2="2723.3" stroke="#111" stroke-width="3.4"/>
<line x1="1885.6" y1="2741.3" x2="1885.6" y2="2723.3" stroke="#111" stroke-width="3.4"/>
<line x1="2038.4" y1="2741.3" x2="2038.4" y2="2723.3" stroke="#111" stroke-width="3.4"/>
<line x1="2191.2" y1="2741.3" x2="2191.2" y2="2723.3" stroke="#111" stroke-width="3.4"/>
<line x1="2344.0" y1="2741.3" x2="2344.0" y2="2723.3" stroke="#111" stroke-width="3.4"/>
<line x1="1350.8" y1="2741.3" x2="1350.8" y2="2730.8" stroke="#111" stroke-width="3.4"/>
<line x1="1503.6" y1="2741.3" x2="1503.6" y2="2730.8" stroke="#111" stroke-width="3.4"/>
<line x1="1656.4" y1="2741.3" x2="1656.4" y2="2730.8" stroke="#111" stroke-width="3.4"/>
<line x1="1809.2" y1="2741.3" x2="1809.2" y2="2730.8" stroke="#111" stroke-width="3.4"/>
<line x1="1962.0" y1="2741.3" x2="1962.0" y2="2730.8" stroke="#111" stroke-width="3.4"/>
<line x1="2114.8" y1="2741.3" x2="2114.8" y2="2730.8" stroke="#111" stroke-width="3.4"/>
<line x1="2267.6" y1="2741.3" x2="2267.6" y2="2730.8" stroke="#111" stroke-width="3.4"/>
<text x="1427.2" y="2793.2" font-family="'Liberation Sans', Arial, Helvetica, sans-serif" font-size="43.5" text-anchor="middle" fill="#111" >64</text>
<text x="1580.0" y="2793.2" font-family="'Liberation Sans', Arial, Helvetica, sans-serif" font-size="43.5" text-anchor="middle" fill="#111" >66</text>
<text x="1732.8" y="2793.2" font-family="'Liberation Sans', Arial, Helvetica, sans-serif" font-size="43.5" text-anchor="middle" fill="#111" >68</text>
<text x="1885.6" y="2793.2" font-family="'Liberation Sans', Arial, Helvetica, sans-serif" font-size="43.5" text-anchor="middle" fill="#111" >70</text>
<text x="2038.4" y="2793.2" font-family="'Liberation Sans', Arial, Helvetica, sans-serif" font-size="43.5" text-anchor="middle" fill="#111" >72</text>
<text x="2191.2" y="2793.2" font-family="'Liberation Sans', Arial, Helvetica, sans-serif" font-size="43.5" text-anchor="middle" fill="#111" >74</text>
<text x="2344.0" y="2793.2" font-family="'Liberation Sans', Arial, Helvetica, sans-serif" font-size="43.5" text-anchor="middle" fill="#111" >76</text>
<line x1="1899.9" y1="2511.3" x2="1989.8" y2="2511.3" stroke="#f00" stroke-width="4.5"/>
<line x1="1899.9" y1="2558.4" x2="1989.8" y2="2558.4" stroke="#000" stroke-width="4"/>
<text x="1999.6" y="2524.0" font-family="'Liberation Sans', Arial, Helvetica, sans-serif" font-size="38.75" text-anchor="start" fill="#111" >ZTO/BiOBr</text>
<text x="1999.6" y="2570.8" font-family="'Liberation Sans', Arial, Helvetica, sans-serif" font-size="38.75" text-anchor="start" fill="#111" >BiOBr</text>
<text x="1378.7" y="2077.5" font-family="'Liberation Sans', Arial, Helvetica, sans-serif" font-size="39" text-anchor="start" fill="#111" >Br 3d</text>
<text x="1571.5" y="2092.7" font-family="'Liberation Sans', Arial, Helvetica, sans-serif" font-size="39" fill="#111">Br3d<tspan font-size="23.4" dx="2" dy="16.4">5/2</tspan></text>
<text x="1794.3" y="2179.4" font-family="'Liberation Sans', Arial, Helvetica, sans-serif" font-size="39" fill="#111">Br3d<tspan font-size="23.4" dx="2" dy="16.4">3/2</tspan></text>
<text x="2202.4" y="2098.6" font-family="'Liberation Serif', 'Times New Roman', serif" font-size="65" text-anchor="start" fill="#111" >(f)</text>
<text transform="translate(1239.2,2498.2) rotate(-90)" font-family="'Liberation Sans', Arial, Helvetica, sans-serif" font-size="52.9" fill="#111">Counts (a.u)</text>
<text x="1649.0" y="2854.0" font-family="'Liberation Sans', Arial, Helvetica, sans-serif" font-size="52.65" text-anchor="start" fill="#111" >Binding energy (eV)</text>
<rect x="1279.6" y="1953.2" width="1064.5" height="788.1" fill="none" stroke="#111" stroke-width="5.5"/>
</svg>
</body></html>
